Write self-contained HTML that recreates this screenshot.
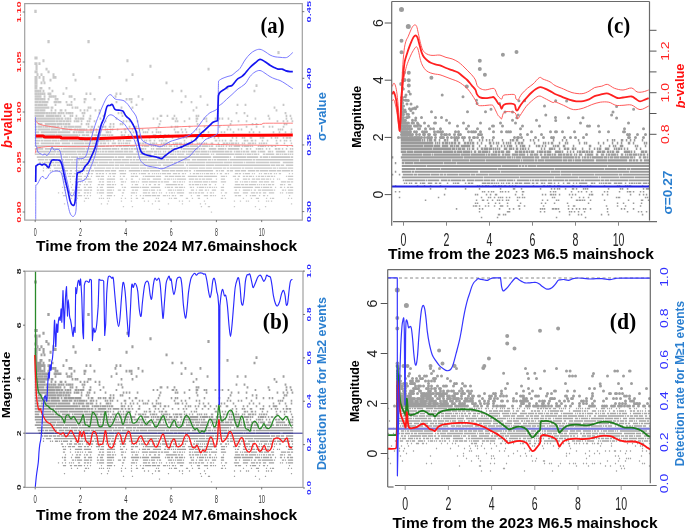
<!DOCTYPE html>
<html><head><meta charset="utf-8"><style>
html,body{margin:0;padding:0;background:#fff;width:685px;height:529px;overflow:hidden}
svg{display:block;will-change:transform}
</style></head><body>
<svg width="685" height="529" viewBox="0 0 685 529">
<rect width="685" height="529" fill="#fff"/>
<path d="M34.8 425.1h6.4M42.8 425.1h12.4M55.8 425.1h8.4M64.8 425.1h12.4M77.8 425.1h3.4M81.8 425.1h4.4M86.8 425.1h52.4M139.8 425.1h3.4M143.8 425.1h7.4M153.8 425.1h3.4M157.8 425.1h8.4M166.8 425.1h1.4M169.8 425.1h4.4M174.8 425.1h1.4M176.8 425.1h7.4M185.8 425.1h9.4M195.8 425.1h3.4M199.8 425.1h9.4M210.8 425.1h1.4M212.8 425.1h1.4M215.8 425.1h18.4M234.8 425.1h7.4M242.8 425.1h1.4M244.8 425.1h1.4M246.8 425.1h4.4M251.8 425.1h1.4M253.8 425.1h3.4M257.8 425.1h1.4M262.8 425.1h2.4M265.8 425.1h8.4M275.8 425.1h3.4M279.8 425.1h1.4M281.8 425.1h1.4M283.8 425.1h3.4M287.8 425.1h1.4M289.8 425.1h1.4M291.8 425.1h1.4M35.8 422.4h13.4M49.8 422.4h6.4M56.8 422.4h19.4M76.8 422.4h11.4M88.8 422.4h10.4M99.8 422.4h1.4M101.8 422.4h2.4M104.8 422.4h2.4M107.8 422.4h6.4M114.8 422.4h8.4M123.8 422.4h4.4M128.8 422.4h4.4M135.8 422.4h4.4M140.8 422.4h4.4M145.8 422.4h7.4M153.8 422.4h3.4M157.8 422.4h1.4M159.8 422.4h1.4M162.8 422.4h1.4M164.8 422.4h1.4M167.8 422.4h4.4M172.8 422.4h1.4M174.8 422.4h1.4M176.8 422.4h2.4M179.8 422.4h1.4M181.8 422.4h3.4M185.8 422.4h1.4M187.8 422.4h6.4M194.8 422.4h5.4M200.8 422.4h6.4M207.8 422.4h1.4M209.8 422.4h1.4M211.8 422.4h12.4M224.8 422.4h4.4M229.8 422.4h2.4M233.8 422.4h1.4M235.8 422.4h4.4M240.8 422.4h1.4M242.8 422.4h2.4M245.8 422.4h3.4M250.8 422.4h5.4M257.8 422.4h1.4M259.8 422.4h5.4M267.8 422.4h3.4M271.8 422.4h1.4M275.8 422.4h9.4M287.8 422.4h1.4M289.8 422.4h3.4" stroke="#a0a0a0" stroke-width="1.7" fill="none"/>
<path d="M34.8 419.7h8.5M44.8 419.7h15.5M60.8 419.7h1.5M62.8 419.7h22.4M85.8 419.7h15.4M101.8 419.7h9.4M111.8 419.7h5.4M117.8 419.7h1.4M120.8 419.7h2.4M123.8 419.7h4.4M128.8 419.7h1.4M130.8 419.7h2.4M133.8 419.7h4.4M138.8 419.7h5.4M144.8 419.7h1.4M150.8 419.7h1.4M152.8 419.7h1.4M155.8 419.7h14.4M170.8 419.7h6.4M180.8 419.7h1.4M182.8 419.7h15.4M198.8 419.7h1.4M200.8 419.7h1.4M202.8 419.7h2.4M208.8 419.7h7.4M217.8 419.7h6.4M224.8 419.7h1.4M227.8 419.7h11.4M240.8 419.7h1.4M245.8 419.7h2.4M249.8 419.7h1.4M255.8 419.7h1.5M257.8 419.7h3.5M261.8 419.7h1.5M265.8 419.7h1.5M268.8 419.7h1.5M274.8 419.7h2.5M277.8 419.7h2.5M281.8 419.7h1.5M285.8 419.7h1.5M289.8 419.7h1.5M291.8 419.7h1.5M34.8 417.0h70.5M105.8 417.0h3.5M109.8 417.0h2.5M112.8 417.0h1.5M115.8 417.0h2.5M118.8 417.0h3.5M122.8 417.0h6.5M129.8 417.0h5.5M141.8 417.0h1.5M143.8 417.0h5.5M150.8 417.0h1.5M152.8 417.0h1.5M154.8 417.0h1.5M156.8 417.0h2.5M159.8 417.0h1.5M161.8 417.0h1.5M163.8 417.0h1.5M165.8 417.0h1.5M168.8 417.0h3.5M173.8 417.0h1.5M175.8 417.0h2.5M179.8 417.0h2.5M183.8 417.0h5.5M189.8 417.0h8.5M199.8 417.0h1.5M201.8 417.0h6.5M208.8 417.0h1.5M210.8 417.0h2.5M215.8 417.0h1.5M217.8 417.0h2.5M220.8 417.0h1.5M222.8 417.0h1.5M225.8 417.0h1.5M228.8 417.0h1.5M230.8 417.0h1.5M233.8 417.0h6.5M241.8 417.0h1.5M243.8 417.0h5.5M249.8 417.0h1.5M251.8 417.0h1.5M257.8 417.0h1.5M259.8 417.0h4.5M264.8 417.0h1.5M267.8 417.0h1.5M270.8 417.0h2.5M274.8 417.0h1.5M286.8 417.0h1.5M291.8 417.0h1.5M34.8 414.3h4.5M40.8 414.3h13.5M54.8 414.3h5.5M61.8 414.3h8.5M71.8 414.3h1.5M73.8 414.3h10.5M84.8 414.3h6.5M91.8 414.3h6.5M99.8 414.3h2.5M102.8 414.3h3.5M107.8 414.3h1.5M111.8 414.3h4.5M117.8 414.3h2.5M120.8 414.3h1.5M122.8 414.3h1.5M124.8 414.3h3.5M128.8 414.3h1.5M134.8 414.3h1.5M137.8 414.3h3.5M141.8 414.3h2.5M144.8 414.3h1.5M149.8 414.3h1.5M151.8 414.3h3.5M155.8 414.3h1.5M160.8 414.3h1.5M162.8 414.3h5.5M168.8 414.3h1.5M172.8 414.3h1.5M174.8 414.3h3.5M178.8 414.3h3.5M183.8 414.3h1.5M185.8 414.3h1.5M188.8 414.3h1.5M191.8 414.3h1.5M196.8 414.3h1.5M198.8 414.3h1.5M200.8 414.3h1.5M203.8 414.3h1.5M205.8 414.3h1.5M210.8 414.3h2.5M217.8 414.3h1.5M222.8 414.3h2.5M225.8 414.3h2.5M228.8 414.3h1.5M230.8 414.3h3.5M234.8 414.3h2.5M237.8 414.3h1.5M241.8 414.3h1.5M243.8 414.3h1.5M247.8 414.3h3.5M251.8 414.3h2.5M254.8 414.3h1.5M258.8 414.3h1.5M260.8 414.3h1.5M262.8 414.3h2.5M265.8 414.3h1.5M275.8 414.3h2.5M283.8 414.3h1.5M290.8 414.3h1.5" stroke="#a0a0a0" stroke-width="1.8" fill="none"/>
<path d="M34.7 411.6h5.5M40.7 411.6h2.5M43.7 411.6h7.5M51.7 411.6h5.5M57.7 411.6h1.5M59.7 411.6h8.5M68.7 411.6h14.5M83.7 411.6h4.5M88.7 411.6h1.5M90.7 411.6h2.5M93.7 411.6h11.5M105.7 411.6h3.5M109.7 411.6h1.5M112.7 411.6h1.5M117.7 411.6h1.5M119.7 411.6h1.5M122.7 411.6h1.5M125.7 411.6h5.5M135.7 411.6h1.5M143.7 411.6h1.5M145.7 411.6h1.5M148.7 411.6h2.5M153.7 411.6h1.5M158.7 411.6h1.5M160.7 411.6h2.5M164.7 411.6h2.5M183.7 411.6h1.5M190.7 411.6h1.5M193.7 411.6h1.5M195.7 411.6h1.5M214.7 411.6h2.5M218.7 411.6h1.5M221.7 411.6h1.5M224.7 411.6h1.5M229.7 411.6h2.5M235.7 411.6h1.5M243.7 411.6h2.5M246.7 411.6h1.5M250.7 411.6h2.5M254.7 411.6h1.5M261.7 411.6h1.5M266.7 411.6h1.5M275.7 411.6h1.5M279.7 411.6h1.5M283.7 411.6h1.5M285.7 411.6h1.5M289.7 411.6h1.5M34.7 408.9h7.5M42.7 408.9h11.5M54.7 408.9h19.6M74.7 408.9h11.6M86.7 408.9h3.6M90.7 408.9h2.6M94.7 408.9h1.6M97.7 408.9h8.6M107.7 408.9h1.6M109.7 408.9h1.6M112.7 408.9h6.6M120.7 408.9h2.6M124.7 408.9h1.6M127.7 408.9h2.6M131.7 408.9h1.6M137.7 408.9h2.6M148.7 408.9h1.6M154.7 408.9h1.6M157.7 408.9h1.6M162.7 408.9h1.6M171.7 408.9h1.6M177.7 408.9h1.6M182.7 408.9h1.6M185.7 408.9h1.6M195.7 408.9h1.6M201.7 408.9h1.6M207.7 408.9h1.6M213.7 408.9h1.6M217.7 408.9h1.6M231.7 408.9h1.6M235.7 408.9h1.6M241.7 408.9h1.6M243.7 408.9h1.6M249.7 408.9h2.6M259.7 408.9h1.5M261.7 408.9h2.5M270.7 408.9h1.5M274.7 408.9h1.5M276.7 408.9h1.5M282.7 408.9h1.5M285.7 408.9h2.5M288.7 408.9h2.5" stroke="#a0a0a0" stroke-width="1.9" fill="none"/>
<path d="M34.7 406.2h2.6M37.7 406.2h17.6M55.7 406.2h22.6M78.7 406.2h1.6M81.7 406.2h3.6M85.7 406.2h3.6M91.7 406.2h1.6M93.7 406.2h5.6M99.7 406.2h1.6M101.7 406.2h4.6M106.7 406.2h1.6M108.7 406.2h1.6M110.7 406.2h2.6M120.7 406.2h2.6M123.7 406.2h1.6M127.7 406.2h1.6M130.7 406.2h1.6M138.7 406.2h1.6M152.7 406.2h3.6M159.7 406.2h1.6M163.7 406.2h2.6M167.7 406.2h1.6M184.7 406.2h1.6M187.7 406.2h1.6M189.7 406.2h1.6M194.7 406.2h1.6M197.7 406.2h1.6M203.7 406.2h2.6M209.7 406.2h1.6M215.7 406.2h1.6M219.7 406.2h1.6M225.7 406.2h2.6M234.7 406.2h1.6M242.7 406.2h1.6M246.7 406.2h1.6M255.7 406.2h1.6M262.7 406.2h1.6M268.7 406.2h1.6M272.7 406.2h4.6M285.7 406.2h1.6M34.7 403.5h4.6M40.7 403.5h16.6M57.7 403.5h12.6M72.7 403.5h2.6M75.7 403.5h1.6M77.7 403.5h6.6M85.7 403.5h3.6M89.7 403.5h3.6M95.7 403.5h1.6M99.7 403.5h1.6M105.7 403.5h3.6M109.7 403.5h1.6M120.7 403.5h1.6M124.7 403.5h1.6M129.7 403.5h1.6M132.7 403.5h1.6M136.7 403.5h1.6M142.7 403.5h1.6M144.7 403.5h1.6M146.7 403.5h1.6M151.7 403.5h1.6M155.7 403.5h1.6M157.7 403.5h1.6M159.7 403.5h1.6M174.7 403.5h1.6M176.7 403.5h2.6M181.7 403.5h1.6M185.7 403.5h1.6M198.7 403.5h1.6M202.7 403.5h1.6M207.7 403.5h1.6M220.7 403.5h1.6M223.7 403.5h1.6M232.7 403.5h1.6M248.7 403.5h1.6M252.7 403.5h1.6M258.7 403.5h1.6M272.7 403.5h1.6M278.7 403.5h1.6M284.7 403.5h1.6M290.7 403.5h1.6" stroke="#a0a0a0" stroke-width="2.0" fill="none"/>
<path d="M34.7 400.8h2.6M37.7 400.8h12.6M50.7 400.8h9.6M61.7 400.8h6.6M68.7 400.8h3.6M73.7 400.8h2.6M76.7 400.8h1.6M78.7 400.8h6.6M85.7 400.8h1.6M89.7 400.8h2.6M92.7 400.8h1.6M95.7 400.8h1.6M104.7 400.8h1.6M106.7 400.8h1.6M109.7 400.8h1.6M111.7 400.8h1.6M116.7 400.8h1.6M123.7 400.8h2.6M131.7 400.8h1.6M138.7 400.8h1.6M141.7 400.8h1.6M147.7 400.8h1.6M155.7 400.8h1.6M173.7 400.8h1.6M180.7 400.8h1.6M184.7 400.8h1.6M195.7 400.8h1.6M198.7 400.8h1.6M226.7 400.8h1.6M229.7 400.8h1.6M237.7 400.8h1.6M240.7 400.8h1.6M250.7 400.8h1.6M277.7 400.8h1.6M279.7 400.8h1.6M281.7 400.8h1.6M290.7 400.8h1.6M34.7 398.1h2.7M37.7 398.1h4.7M42.7 398.1h1.7M44.7 398.1h3.7M48.7 398.1h1.7M50.7 398.1h5.7M56.7 398.1h2.7M60.7 398.1h1.7M63.7 398.1h3.7M67.7 398.1h6.7M74.7 398.1h6.7M87.7 398.1h1.7M90.7 398.1h2.7M97.7 398.1h1.7M99.7 398.1h1.7M102.7 398.1h1.7M104.7 398.1h1.7M108.7 398.1h2.7M112.7 398.1h1.7M128.7 398.1h1.6M134.7 398.1h2.6M157.7 398.1h1.6M170.7 398.1h1.6M174.7 398.1h1.6M176.7 398.1h1.6M188.7 398.1h1.6M203.7 398.1h1.6M218.7 398.1h1.6M227.7 398.1h1.6M245.7 398.1h1.6M255.7 398.1h1.6M262.7 398.1h1.6M268.7 398.1h1.6M271.7 398.1h1.6M282.7 398.1h1.6" stroke="#a0a0a0" stroke-width="2.1" fill="none"/>
<path d="M34.7 395.4h1.7M37.7 395.4h4.7M44.7 395.4h11.7M56.7 395.4h5.7M62.7 395.4h1.7M64.7 395.4h2.7M67.7 395.4h2.7M80.7 395.4h1.7M85.7 395.4h1.7M87.7 395.4h1.7M109.7 395.4h1.7M112.7 395.4h1.7M119.7 395.4h1.7M121.7 395.4h1.7M158.7 395.4h1.7M196.7 395.4h1.7M229.7 395.4h1.7M251.7 395.4h1.7M255.7 395.4h1.7M283.7 395.4h1.7M285.7 395.4h1.7M34.6 392.7h20.7M55.6 392.7h2.7M58.6 392.7h3.7M62.6 392.7h2.7M65.7 392.7h3.7M69.7 392.7h1.7M73.7 392.7h1.7M75.7 392.7h3.7M80.7 392.7h1.7M86.7 392.7h1.7M88.7 392.7h1.7M93.7 392.7h1.7M104.7 392.7h1.7M122.7 392.7h1.7M125.7 392.7h1.7M128.7 392.7h1.7M136.7 392.7h1.7M159.7 392.7h1.7M174.7 392.7h1.7M176.7 392.7h1.7M183.7 392.7h1.7M195.7 392.7h1.7M205.7 392.7h1.7M230.7 392.7h1.7M237.7 392.7h1.7M245.7 392.7h1.7M276.6 392.7h1.7M282.6 392.7h1.7M286.6 392.7h1.7M291.6 392.7h1.7M34.6 390.0h20.7M55.6 390.0h4.7M60.6 390.0h2.7M64.6 390.0h1.7M66.6 390.0h2.7M69.6 390.0h1.7M74.6 390.0h2.7M77.6 390.0h1.7M79.6 390.0h4.7M88.6 390.0h2.7M99.6 390.0h1.7M115.6 390.0h1.7M152.6 390.0h1.7M156.6 390.0h1.7M171.6 390.0h2.7M175.6 390.0h1.7M188.6 390.0h1.7M195.6 390.0h2.7M203.6 390.0h1.7M205.6 390.0h1.7M214.6 390.0h1.7M218.6 390.0h1.7M221.6 390.0h1.7M227.6 390.0h1.7M254.6 390.0h1.7M268.6 390.0h1.7M285.6 390.0h1.7M290.6 390.0h1.7" stroke="#a0a0a0" stroke-width="2.2" fill="none"/>
<path d="M34.6 387.3h9.8M45.6 387.3h8.8M54.6 387.3h4.8M59.6 387.3h1.8M63.6 387.3h1.8M69.6 387.3h1.8M71.6 387.3h1.8M75.6 387.3h1.8M82.6 387.3h1.8M89.6 387.3h1.8M102.6 387.3h1.8M121.6 387.3h1.8M159.6 387.3h2.8M166.6 387.3h1.8M173.6 387.3h1.8M195.6 387.3h1.8M197.6 387.3h1.8M246.6 387.3h1.8M267.6 387.3h1.8M285.6 387.3h1.8M289.6 387.3h1.8M34.6 384.6h10.8M45.6 384.6h2.8M48.6 384.6h1.8M50.6 384.6h1.8M52.6 384.6h3.8M57.6 384.6h2.8M60.6 384.6h1.8M62.6 384.6h1.8M65.6 384.6h1.8M67.6 384.6h3.8M71.6 384.6h1.8M81.6 384.6h1.8M83.6 384.6h1.8M98.6 384.6h1.8M117.6 384.6h1.8M120.6 384.6h1.8M235.6 384.6h1.8M243.6 384.6h1.8M284.6 384.6h1.8" stroke="#a0a0a0" stroke-width="2.3" fill="none"/>
<path d="M34.6 381.9h4.8M39.6 381.9h5.8M50.6 381.9h1.8M54.6 381.9h1.8M59.6 381.9h2.8M64.6 381.9h1.8M79.6 381.9h1.8M83.6 381.9h1.8M86.6 381.9h1.8M94.6 381.9h1.8M98.6 381.9h1.8M192.6 381.9h1.8M275.6 381.9h1.8M34.6 379.2h14.8M50.6 379.2h2.8M71.6 379.2h1.8M74.6 379.2h1.8M76.6 379.2h1.8M87.6 379.2h1.8M89.6 379.2h1.8M120.6 379.2h1.8M131.6 379.2h1.8M195.6 379.2h1.8M273.6 379.2h1.8" stroke="#a0a0a0" stroke-width="2.4" fill="none"/>
<path d="M34.6 376.5h2.8M37.6 376.5h5.8M43.6 376.5h3.8M54.6 376.5h1.8M66.6 376.5h1.8M68.6 376.5h1.8M70.6 376.5h1.8M110.6 376.5h1.8M135.6 376.5h1.9M206.6 376.5h1.9M236.6 376.5h1.9M244.6 376.5h1.9M282.6 376.5h1.9M34.6 373.8h3.9M38.6 373.8h2.9M41.6 373.8h6.9M53.6 373.8h3.9M57.6 373.8h3.9M65.6 373.8h1.9M70.6 373.8h1.9M83.6 373.8h1.9M115.6 373.8h1.9M130.6 373.8h1.9M180.6 373.8h1.9M190.6 373.8h1.9" stroke="#a0a0a0" stroke-width="2.5" fill="none"/>
<path d="M34.5 371.1h4.9M39.5 371.1h3.9M43.5 371.1h1.9M47.5 371.1h1.9M54.5 371.1h1.9M56.5 371.1h1.9M73.5 371.1h1.9M83.5 371.1h2.9M93.5 371.1h1.9M125.5 371.1h1.9M128.6 371.1h1.9M130.6 371.1h1.9M141.6 371.1h1.9M34.5 368.4h6.9M43.5 368.4h1.9M48.5 368.4h3.9M52.5 368.4h1.9M54.5 368.4h1.9M68.5 368.4h1.9M70.5 368.4h1.9M114.5 368.4h1.9M137.5 368.4h1.9M184.5 368.4h1.9M199.5 368.4h1.9" stroke="#a0a0a0" stroke-width="2.6" fill="none"/>
<path d="M34.5 365.7h3.0M37.5 365.7h2.0M39.5 365.7h2.0M41.5 365.7h2.0M43.5 365.7h2.0M47.5 365.7h4.0M62.5 365.7h1.9M85.5 365.7h1.9M89.5 365.7h1.9M115.5 365.7h1.9M119.5 365.7h1.9M34.5 363.0h5.0M39.5 363.0h2.0M42.5 363.0h2.0M51.5 363.0h2.0M171.5 363.0h2.0M180.5 363.0h2.0M253.5 363.0h2.0M34.5 360.3h3.0M39.5 360.3h3.0M48.5 360.3h2.0M65.5 360.3h2.0M226.5 360.3h2.0" stroke="#a0a0a0" stroke-width="2.7" fill="none"/>
<path d="M34.5 357.6h3.0M255.5 357.6h2.0M34.5 354.9h3.0M40.5 354.9h2.0M43.5 354.9h2.0M165.5 354.9h2.1" stroke="#a0a0a0" stroke-width="2.8" fill="none"/>
<path d="M34.5 352.2h3.1M42.5 352.2h2.1M49.5 352.2h2.1M74.5 352.2h2.1M125.5 352.2h2.1M34.5 349.5h3.1M38.5 349.5h2.1M42.5 349.5h2.1M52.5 349.5h2.1M54.5 349.5h2.1M98.5 349.5h2.1" stroke="#a0a0a0" stroke-width="2.9" fill="none"/>
<path d="M34.4 344.1h3.2M47.4 344.1h2.2M34.4 336.0h3.2M38.4 336.0h2.2M34.4 330.6h3.3M35.4 341.4h2.2M45.4 341.4h2.2M207.4 341.4h2.2M35.4 338.7h2.2M149.4 338.7h2.2M36.4 346.8h2.1M40.4 346.8h2.1M52.4 346.8h2.1M72.4 346.8h2.1M131.4 346.8h2.1M42.4 333.3h2.2M126.4 333.3h2.2M47.3 314.4h2.4M87.3 314.4h2.4M277.3 325.2h2.3M34.2 281.9h2.6" stroke="#a0a0a0" stroke-width="3.0" fill="none"/>
<path d="M36.8 427.8h25.4M62.8 427.8h5.4M68.8 427.8h1.4M70.8 427.8h7.4M78.8 427.8h35.4M114.8 427.8h2.4M117.8 427.8h6.4M125.8 427.8h6.4M132.8 427.8h3.4M136.8 427.8h20.4M157.8 427.8h19.4M177.8 427.8h33.4M212.8 427.8h16.4M229.8 427.8h1.4M233.8 427.8h1.4M235.8 427.8h10.4M246.8 427.8h11.4M259.8 427.8h2.4M262.8 427.8h5.4M268.8 427.8h1.4M270.8 427.8h19.4M290.8 427.8h2.4M37.8 430.5h6.3M44.8 430.5h3.3M48.8 430.5h8.3M58.8 430.5h5.3M64.8 430.5h8.3M73.8 430.5h3.3M77.8 430.5h2.3M80.8 430.5h1.3M82.8 430.5h7.3M90.8 430.5h3.3M94.8 430.5h17.3M112.8 430.5h8.3M121.8 430.5h7.4M129.8 430.5h2.4M132.8 430.5h2.4M135.8 430.5h3.4M139.8 430.5h7.4M147.8 430.5h17.4M165.8 430.5h3.4M169.8 430.5h20.4M191.8 430.5h4.4M196.8 430.5h10.4M207.8 430.5h3.4M211.8 430.5h1.4M213.8 430.5h2.4M216.8 430.5h10.4M227.8 430.5h1.4M229.8 430.5h22.4M252.8 430.5h2.4M255.8 430.5h37.4" stroke="#a0a0a0" stroke-width="1.6" fill="none"/>
<path d="M38.8 433.2h2.3M41.8 433.2h1.3M43.8 433.2h10.3M54.8 433.2h15.3M70.8 433.2h8.3M79.8 433.2h8.3M89.8 433.2h8.3M98.8 433.2h9.3M108.8 433.2h5.3M114.8 433.2h14.3M129.8 433.2h27.3M157.8 433.2h15.3M173.8 433.2h3.3M177.8 433.2h6.3M184.8 433.2h1.3M186.8 433.2h18.3M205.8 433.2h17.3M223.8 433.2h8.3M232.8 433.2h10.3M243.8 433.2h1.3M245.8 433.2h9.3M255.8 433.2h13.3M269.8 433.2h10.3M282.8 433.2h10.3M41.9 435.9h1.3M43.9 435.9h4.3M48.9 435.9h3.3M52.9 435.9h3.3M56.9 435.9h3.3M60.9 435.9h25.3M86.8 435.9h9.3M96.8 435.9h17.3M114.8 435.9h4.3M119.8 435.9h4.3M124.8 435.9h14.3M139.8 435.9h21.3M162.8 435.9h21.3M185.8 435.9h2.3M188.8 435.9h16.3M205.8 435.9h8.3M214.8 435.9h14.3M229.8 435.9h2.3M232.8 435.9h37.3M270.9 435.9h4.3M275.9 435.9h4.3M280.9 435.9h3.3M285.9 435.9h7.3" stroke="#a0a0a0" stroke-width="1.5" fill="none"/>
<path d="M42.9 441.3h1.2M49.9 441.3h1.2M51.9 441.3h1.2M54.9 441.3h3.2M58.9 441.3h1.2M60.9 441.3h1.2M62.9 441.3h5.2M69.9 441.3h2.2M74.9 441.3h8.2M83.9 441.3h1.2M85.9 441.3h4.2M90.9 441.3h3.2M94.9 441.3h9.2M104.9 441.3h5.2M110.9 441.3h5.2M118.9 441.3h5.2M124.9 441.3h1.2M128.9 441.3h11.2M140.9 441.3h1.2M142.9 441.3h6.2M149.9 441.3h10.2M161.9 441.3h7.2M169.9 441.3h5.2M175.9 441.3h7.2M183.9 441.3h4.2M188.9 441.3h2.2M193.9 441.3h1.2M195.9 441.3h17.2M215.9 441.3h2.2M218.9 441.3h1.2M220.9 441.3h3.2M226.9 441.3h2.2M229.9 441.3h3.2M234.9 441.3h5.2M240.9 441.3h5.2M247.9 441.3h7.2M255.9 441.3h3.2M259.9 441.3h8.2M268.9 441.3h7.2M276.9 441.3h4.2M281.9 441.3h8.2M290.9 441.3h2.2M42.9 438.6h1.3M45.9 438.6h5.3M53.9 438.6h23.3M77.9 438.6h2.3M80.9 438.6h11.3M93.9 438.6h11.3M105.9 438.6h5.3M111.9 438.6h2.3M114.9 438.6h4.3M119.9 438.6h10.3M130.9 438.6h8.3M139.9 438.6h6.3M146.9 438.6h10.3M157.9 438.6h1.3M159.9 438.6h26.3M186.9 438.6h1.3M188.9 438.6h9.3M198.9 438.6h6.3M205.9 438.6h6.3M212.9 438.6h9.3M222.9 438.6h3.3M226.9 438.6h2.3M229.9 438.6h11.3M241.9 438.6h2.3M244.9 438.6h8.3M253.9 438.6h18.3M272.9 438.6h3.3M276.9 438.6h1.3M278.9 438.6h8.3M287.9 438.6h5.3" stroke="#a0a0a0" stroke-width="1.4" fill="none"/>
<path d="M57.9 462.9h1.2M61.9 462.9h1.2M64.9 462.9h1.2M68.9 462.9h1.2M70.9 462.9h1.2M72.9 462.9h1.2M77.9 462.9h2.2M83.9 462.9h2.2M86.9 462.9h2.2M89.9 462.9h1.2M96.9 462.9h1.2M98.9 462.9h5.2M106.9 462.9h6.2M121.9 462.9h2.2M130.9 462.9h4.2M135.9 462.9h1.2M142.9 462.9h4.2M147.9 462.9h2.2M151.9 462.9h3.2M155.9 462.9h1.2M158.9 462.9h1.2M160.9 462.9h1.2M165.9 462.9h1.2M168.9 462.9h1.2M170.9 462.9h2.2M173.9 462.9h1.2M176.9 462.9h7.2M188.9 462.9h3.2M192.9 462.9h1.2M194.9 462.9h2.2M197.9 462.9h2.2M200.9 462.9h3.2M206.9 462.9h1.2M209.9 462.9h2.2M212.9 462.9h1.2M220.9 462.9h1.2M224.9 462.9h2.2M233.9 462.9h5.2M242.9 462.9h5.2M250.9 462.9h4.2M255.9 462.9h2.2M258.9 462.9h2.2M262.9 462.9h3.2M268.9 462.9h5.2M279.9 462.9h1.2M281.9 462.9h1.2M285.9 462.9h1.2M287.9 462.9h5.2M60.9 444.0h2.2M66.9 444.0h1.2M68.9 444.0h3.2M73.9 444.0h3.2M77.9 444.0h3.2M81.9 444.0h1.2M85.9 444.0h4.2M90.9 444.0h2.2M95.9 444.0h2.2M98.9 444.0h2.2M101.9 444.0h2.2M105.9 444.0h1.2M108.9 444.0h2.2M111.9 444.0h4.2M119.9 444.0h6.2M130.9 444.0h1.2M132.9 444.0h2.2M135.9 444.0h1.2M138.9 444.0h1.2M140.9 444.0h5.2M147.9 444.0h2.2M151.9 444.0h1.2M153.9 444.0h1.2M155.9 444.0h1.2M157.9 444.0h1.2M159.9 444.0h1.2M161.9 444.0h4.2M166.9 444.0h4.2M172.9 444.0h4.2M177.9 444.0h2.2M181.9 444.0h2.2M184.9 444.0h1.2M189.9 444.0h1.2M192.9 444.0h2.2M195.9 444.0h3.2M199.9 444.0h1.2M201.9 444.0h1.2M203.9 444.0h1.2M205.9 444.0h3.2M209.9 444.0h3.2M213.9 444.0h1.2M216.9 444.0h1.2M219.9 444.0h2.2M224.9 444.0h2.2M227.9 444.0h1.2M234.9 444.0h3.2M238.9 444.0h2.2M242.9 444.0h1.2M244.9 444.0h5.2M251.9 444.0h1.2M253.9 444.0h1.2M258.9 444.0h1.2M260.9 444.0h1.2M263.9 444.0h3.2M267.9 444.0h1.2M269.9 444.0h2.2M273.9 444.0h1.2M275.9 444.0h1.2M278.9 444.0h2.2M288.9 444.0h1.2M291.9 444.0h1.2M61.9 457.5h1.2M63.9 457.5h2.2M70.9 457.5h1.2M74.9 457.5h5.2M83.9 457.5h2.2M87.9 457.5h4.2M96.9 457.5h1.2M99.9 457.5h3.2M106.9 457.5h7.2M121.9 457.5h1.2M123.9 457.5h2.2M130.9 457.5h8.2M139.9 457.5h1.2M141.9 457.5h7.2M150.9 457.5h9.2M164.9 457.5h1.2M166.9 457.5h3.2M170.9 457.5h2.2M174.9 457.5h3.2M178.9 457.5h4.2M183.9 457.5h1.2M189.9 457.5h2.2M192.9 457.5h1.2M196.9 457.5h1.2M198.9 457.5h5.2M204.9 457.5h1.2M206.9 457.5h1.2M208.9 457.5h2.2M211.9 457.5h1.2M213.9 457.5h1.2M215.9 457.5h1.2M220.9 457.5h3.2M233.9 457.5h7.2M241.9 457.5h11.2M254.9 457.5h5.2M260.9 457.5h1.2M262.9 457.5h6.2M269.9 457.5h2.2M274.9 457.5h1.2M279.9 457.5h2.2M283.9 457.5h1.2M286.9 457.5h2.2M289.9 457.5h3.2M61.9 446.7h2.2M64.9 446.7h1.2M67.9 446.7h3.2M71.9 446.7h3.2M77.9 446.7h4.2M83.9 446.7h2.2M86.9 446.7h2.2M90.9 446.7h1.2M95.9 446.7h4.2M100.9 446.7h3.2M107.9 446.7h1.2M109.9 446.7h1.2M112.9 446.7h2.2M119.9 446.7h1.2M122.9 446.7h2.2M130.9 446.7h3.2M134.9 446.7h3.2M142.9 446.7h1.2M144.9 446.7h10.2M155.9 446.7h5.2M164.9 446.7h3.2M168.9 446.7h5.2M174.9 446.7h6.2M181.9 446.7h3.2M187.9 446.7h9.2M197.9 446.7h5.2M203.9 446.7h13.2M220.9 446.7h4.2M225.9 446.7h1.2M232.9 446.7h3.2M237.9 446.7h2.2M242.9 446.7h2.2M245.9 446.7h2.2M248.9 446.7h3.2M252.9 446.7h1.2M255.9 446.7h1.2M257.9 446.7h2.2M260.9 446.7h3.2M264.9 446.7h1.2M266.9 446.7h3.2M270.9 446.7h2.2M273.9 446.7h1.2M285.9 446.7h1.2M287.9 446.7h5.2M62.9 465.6h3.2M69.9 465.6h2.2M73.9 465.6h3.2M77.9 465.6h4.2M83.9 465.6h1.2M86.9 465.6h1.2M89.9 465.6h1.2M100.9 465.6h1.2M106.9 465.6h5.2M113.9 465.6h1.2M121.9 465.6h1.2M130.9 465.6h1.2M135.9 465.6h1.2M139.9 465.6h1.2M142.9 465.6h1.2M144.9 465.6h6.2M151.9 465.6h4.2M156.9 465.6h3.2M162.9 465.6h3.2M166.9 465.6h1.2M168.9 465.6h1.2M171.9 465.6h2.2M174.9 465.6h1.2M179.9 465.6h3.2M190.9 465.6h1.2M196.9 465.6h3.2M203.9 465.6h4.2M209.9 465.6h2.2M212.9 465.6h1.2M214.9 465.6h1.2M221.9 465.6h1.2M223.9 465.6h1.2M234.9 465.6h2.2M237.9 465.6h3.2M245.9 465.6h1.2M249.9 465.6h1.2M251.9 465.6h4.2M258.9 465.6h1.2M262.9 465.6h2.2M266.9 465.6h1.2M288.9 465.6h1.2M62.9 452.1h2.2M69.9 452.1h1.2M74.9 452.1h1.2M76.9 452.1h2.2M79.9 452.1h1.2M81.9 452.1h1.2M84.9 452.1h1.2M87.9 452.1h4.2M98.9 452.1h2.2M101.9 452.1h2.2M106.9 452.1h4.2M111.9 452.1h1.2M113.9 452.1h1.2M120.9 452.1h3.2M124.9 452.1h1.2M130.9 452.1h4.2M135.9 452.1h1.2M137.9 452.1h1.2M141.9 452.1h6.2M148.9 452.1h8.2M157.9 452.1h2.2M160.9 452.1h2.2M163.9 452.1h5.2M172.9 452.1h3.2M176.9 452.1h1.2M178.9 452.1h2.2M181.9 452.1h1.2M183.9 452.1h1.2M188.9 452.1h2.2M191.9 452.1h1.2M193.9 452.1h8.2M202.9 452.1h5.2M208.9 452.1h1.2M210.9 452.1h6.2M220.9 452.1h5.2M234.9 452.1h3.2M239.9 452.1h1.2M241.9 452.1h1.2M243.9 452.1h4.2M248.9 452.1h1.2M250.9 452.1h6.2M258.9 452.1h4.2M263.9 452.1h5.2M270.9 452.1h3.2M280.9 452.1h5.2M286.9 452.1h3.2M290.9 452.1h2.2M62.9 449.4h3.2M69.9 449.4h1.2M74.9 449.4h7.2M83.9 449.4h7.2M97.9 449.4h1.2M99.9 449.4h4.2M106.9 449.4h8.2M119.9 449.4h3.2M125.9 449.4h1.2M130.9 449.4h2.2M138.9 449.4h1.2M141.9 449.4h4.2M146.9 449.4h3.2M152.9 449.4h8.2M163.9 449.4h2.2M166.9 449.4h3.2M170.9 449.4h1.2M172.9 449.4h1.2M174.9 449.4h1.2M176.9 449.4h9.2M188.9 449.4h5.2M194.9 449.4h3.2M198.9 449.4h2.2M201.9 449.4h3.2M205.9 449.4h6.2M215.9 449.4h1.2M220.9 449.4h4.2M234.9 449.4h1.2M236.9 449.4h2.2M242.9 449.4h4.2M247.9 449.4h2.2M251.9 449.4h3.2M255.9 449.4h4.2M260.9 449.4h4.2M265.9 449.4h3.2M269.9 449.4h1.2M272.9 449.4h1.2M276.9 449.4h1.2M278.9 449.4h1.2M287.9 449.4h5.2M63.9 473.7h1.2M100.9 473.7h1.2M106.9 473.7h1.2M151.9 473.7h1.2M167.9 473.7h1.2M181.9 473.7h1.2M199.9 473.7h1.2M204.9 473.7h1.2M290.9 473.7h1.2M63.9 460.2h2.2M71.9 460.2h2.2M74.9 460.2h1.2M76.9 460.2h5.2M83.9 460.2h5.2M89.9 460.2h2.2M96.9 460.2h2.2M99.9 460.2h4.2M106.9 460.2h5.2M112.9 460.2h1.2M117.9 460.2h3.2M122.9 460.2h2.2M131.9 460.2h2.2M134.9 460.2h3.2M142.9 460.2h5.2M148.9 460.2h1.2M150.9 460.2h4.2M156.9 460.2h1.2M158.9 460.2h2.2M167.9 460.2h4.2M172.9 460.2h1.2M174.9 460.2h1.2M176.9 460.2h5.2M182.9 460.2h1.2M190.9 460.2h3.2M195.9 460.2h1.2M198.9 460.2h4.2M204.9 460.2h2.2M207.9 460.2h1.2M211.9 460.2h4.2M220.9 460.2h3.2M234.9 460.2h2.2M238.9 460.2h1.2M242.9 460.2h7.2M250.9 460.2h1.2M253.9 460.2h2.2M257.9 460.2h3.2M261.9 460.2h11.2M273.9 460.2h1.2M281.9 460.2h2.2M284.9 460.2h1.2M287.9 460.2h5.2M64.9 454.8h1.2M71.9 454.8h1.2M75.9 454.8h2.2M78.9 454.8h2.2M83.9 454.8h1.2M85.9 454.8h2.2M89.9 454.8h1.2M97.9 454.8h2.2M100.9 454.8h3.2M106.9 454.8h4.2M111.9 454.8h2.2M114.9 454.8h1.2M120.9 454.8h2.2M131.9 454.8h1.2M134.9 454.8h3.2M142.9 454.8h1.2M145.9 454.8h1.2M148.9 454.8h2.2M153.9 454.8h2.2M157.9 454.8h2.2M165.9 454.8h11.2M177.9 454.8h2.2M180.9 454.8h2.2M188.9 454.8h2.2M191.9 454.8h2.2M194.9 454.8h4.2M199.9 454.8h1.2M201.9 454.8h1.2M203.9 454.8h3.2M208.9 454.8h2.2M214.9 454.8h1.2M222.9 454.8h1.2M234.9 454.8h5.2M240.9 454.8h3.2M244.9 454.8h3.2M248.9 454.8h7.2M256.9 454.8h1.2M258.9 454.8h1.2M260.9 454.8h1.2M262.9 454.8h2.2M265.9 454.8h1.2M267.9 454.8h3.2M271.9 454.8h2.2M279.9 454.8h3.2M283.9 454.8h1.2M287.9 454.8h3.2M70.9 468.3h1.2M76.9 468.3h1.2M84.9 468.3h2.2M87.9 468.3h1.2M98.9 468.3h1.2M100.9 468.3h1.2M102.9 468.3h1.2M106.9 468.3h1.2M108.9 468.3h1.2M120.9 468.3h1.2M124.9 468.3h1.2M130.9 468.3h1.2M135.9 468.3h2.2M141.9 468.3h2.2M155.9 468.3h1.2M157.9 468.3h1.2M168.9 468.3h1.2M170.9 468.3h1.2M173.9 468.3h3.2M185.9 468.3h2.2M191.9 468.3h1.2M197.9 468.3h2.2M206.9 468.3h1.2M220.9 468.3h2.2M224.9 468.3h1.2M242.9 468.3h1.2M250.9 468.3h1.2M255.9 468.3h3.2M265.9 468.3h1.2M269.9 468.3h1.2M271.9 468.3h2.2M287.9 468.3h1.2M290.9 468.3h1.2M83.9 471.0h1.2M107.9 471.0h1.2M120.9 471.0h1.2M130.9 471.0h1.2M143.9 471.0h1.2M147.9 471.0h1.2M154.9 471.0h1.2M157.9 471.0h2.2M178.9 471.0h1.2M181.9 471.0h1.2M188.9 471.0h1.2M203.9 471.0h1.2M233.9 471.0h1.2M239.9 471.0h1.2M245.9 471.0h1.2M247.9 471.0h1.2M257.9 471.0h1.2M265.9 471.0h1.2M267.9 471.0h1.2M270.9 471.0h1.2M122.9 476.4h1.2M131.9 476.4h1.2M200.9 476.4h1.2M207.9 476.4h2.2M233.9 476.4h1.2M254.9 476.4h1.2M264.9 476.4h1.2M158.9 479.1h1.2M258.9 479.1h1.2M210.9 481.8h1.2" stroke="#a0a0a0" stroke-width="1.3" fill="none"/>
<path d="M34.8 154.3h6.5M42.8 154.3h12.5M55.8 154.3h8.5M64.8 154.3h12.5M77.8 154.3h3.5M81.8 154.3h4.5M86.8 154.3h52.5M139.8 154.3h3.5M143.8 154.3h7.5M153.8 154.3h3.5M157.8 154.3h8.5M166.8 154.3h1.5M169.8 154.3h4.5M174.8 154.3h1.5M176.8 154.3h7.5M185.8 154.3h9.5M195.8 154.3h3.5M199.8 154.3h9.5M210.8 154.3h1.5M212.8 154.3h1.5M215.8 154.3h18.5M234.8 154.3h7.5M242.8 154.3h1.5M244.8 154.3h1.5M246.8 154.3h4.5M251.8 154.3h1.5M253.8 154.3h3.5M257.8 154.3h1.5M262.8 154.3h2.5M265.8 154.3h8.5M275.8 154.3h3.5M279.8 154.3h1.5M281.8 154.3h1.5M283.8 154.3h3.5M287.8 154.3h1.5M289.8 154.3h1.5M291.8 154.3h1.5M36.8 157.1h25.4M62.8 157.1h5.4M68.8 157.1h1.4M70.8 157.1h7.4M78.8 157.1h35.4M114.8 157.1h2.4M117.8 157.1h6.4M125.8 157.1h6.4M132.8 157.1h3.4M136.8 157.1h20.4M157.8 157.1h19.4M177.8 157.1h33.4M212.8 157.1h16.4M229.8 157.1h1.4M233.8 157.1h1.4M235.8 157.1h10.4M246.8 157.1h11.4M259.8 157.1h2.4M262.8 157.1h5.4M268.8 157.1h1.4M270.8 157.1h19.4M290.8 157.1h2.4" stroke="#c8c8c8" stroke-width="1.6" fill="none"/>
<path d="M34.8 148.8h8.5M44.8 148.8h15.5M60.8 148.8h1.5M62.8 148.8h22.5M85.8 148.8h15.5M101.8 148.8h9.5M111.8 148.8h5.5M117.8 148.8h1.5M120.8 148.8h2.5M123.8 148.8h4.5M128.8 148.8h1.5M130.8 148.8h2.5M133.8 148.8h4.5M138.8 148.8h5.5M144.8 148.8h1.5M150.8 148.8h1.5M152.8 148.8h1.5M155.8 148.8h14.5M170.8 148.8h6.5M180.8 148.8h1.5M182.8 148.8h15.5M198.8 148.8h1.5M200.8 148.8h1.5M202.8 148.8h2.5M208.8 148.8h7.5M217.8 148.8h6.5M224.8 148.8h1.5M227.8 148.8h11.5M240.8 148.8h1.5M245.8 148.8h2.5M249.8 148.8h1.5M255.8 148.8h1.5M257.8 148.8h3.5M261.8 148.8h1.5M265.8 148.8h1.5M268.8 148.8h1.5M274.8 148.8h2.5M277.8 148.8h2.5M281.8 148.8h1.5M285.8 148.8h1.5M289.8 148.8h1.5M291.8 148.8h1.5M34.7 146.1h70.5M105.7 146.1h3.5M109.7 146.1h2.5M112.7 146.1h1.5M115.7 146.1h2.5M118.7 146.1h3.5M122.7 146.1h6.5M129.7 146.1h5.5M141.7 146.1h1.5M143.7 146.1h5.5M150.7 146.1h1.5M152.7 146.1h1.5M154.7 146.1h1.5M156.7 146.1h2.5M159.7 146.1h1.5M161.7 146.1h1.5M163.7 146.1h1.5M165.7 146.1h1.5M168.7 146.1h3.5M173.7 146.1h1.5M175.7 146.1h2.5M179.7 146.1h2.5M183.7 146.1h5.5M189.7 146.1h8.5M199.7 146.1h1.5M201.7 146.1h6.5M208.7 146.1h1.5M210.7 146.1h2.5M215.7 146.1h1.5M217.7 146.1h2.5M220.7 146.1h1.5M222.7 146.1h1.5M225.7 146.1h1.5M228.7 146.1h1.5M230.7 146.1h1.5M233.7 146.1h6.5M241.7 146.1h1.5M243.7 146.1h5.5M249.7 146.1h1.5M251.7 146.1h1.5M257.7 146.1h1.5M259.7 146.1h4.5M264.7 146.1h1.5M267.7 146.1h1.5M270.7 146.1h2.5M274.7 146.1h1.5M286.7 146.1h1.5M291.7 146.1h1.5M35.8 151.6h13.5M49.8 151.6h6.5M56.8 151.6h19.5M76.8 151.6h11.5M88.8 151.6h10.5M99.8 151.6h1.5M101.8 151.6h2.5M104.8 151.6h2.5M107.8 151.6h6.5M114.8 151.6h8.5M123.8 151.6h4.5M128.8 151.6h4.5M135.8 151.6h4.5M140.8 151.6h4.5M145.8 151.6h7.5M153.8 151.6h3.5M157.8 151.6h1.5M159.8 151.6h1.5M162.8 151.6h1.5M164.8 151.6h1.5M167.8 151.6h4.5M172.8 151.6h1.5M174.8 151.6h1.5M176.8 151.6h2.5M179.8 151.6h1.5M181.8 151.6h3.5M185.8 151.6h1.5M187.8 151.6h6.5M194.8 151.6h5.5M200.8 151.6h6.5M207.8 151.6h1.5M209.8 151.6h1.5M211.8 151.6h12.5M224.8 151.6h4.5M229.8 151.6h2.5M233.8 151.6h1.5M235.8 151.6h4.5M240.8 151.6h1.5M242.8 151.6h2.5M245.8 151.6h3.5M250.8 151.6h5.5M257.8 151.6h1.5M259.8 151.6h5.5M267.8 151.6h3.5M271.8 151.6h1.5M275.8 151.6h9.5M287.8 151.6h1.5M289.8 151.6h3.5" stroke="#c8c8c8" stroke-width="1.7" fill="none"/>
<path d="M34.7 143.3h4.5M40.7 143.3h13.5M54.7 143.3h5.5M61.7 143.3h8.5M71.7 143.3h1.5M73.7 143.3h10.5M84.7 143.3h6.5M91.7 143.3h6.5M99.7 143.3h2.5M102.7 143.3h3.5M107.7 143.3h1.5M111.7 143.3h4.5M117.7 143.3h2.5M120.7 143.3h1.5M122.7 143.3h1.5M124.7 143.3h3.5M128.7 143.3h1.5M134.7 143.3h1.5M137.7 143.3h3.5M141.7 143.3h2.5M144.7 143.3h1.5M149.7 143.3h1.5M151.7 143.3h3.5M155.7 143.3h1.5M160.7 143.3h1.5M162.7 143.3h5.5M168.7 143.3h1.5M172.7 143.3h1.5M174.7 143.3h3.5M178.7 143.3h3.5M183.7 143.3h1.5M185.7 143.3h1.5M188.7 143.3h1.5M191.7 143.3h1.5M196.7 143.3h1.5M198.7 143.3h1.5M200.7 143.3h1.5M203.7 143.3h1.5M205.7 143.3h1.5M210.7 143.3h2.5M217.7 143.3h1.5M222.7 143.3h2.5M225.7 143.3h2.5M228.7 143.3h1.5M230.7 143.3h3.5M234.7 143.3h2.5M237.7 143.3h1.5M241.7 143.3h1.5M243.7 143.3h1.5M247.7 143.3h3.5M251.7 143.3h2.5M254.7 143.3h1.5M258.7 143.3h1.5M260.7 143.3h1.5M262.7 143.3h2.5M265.7 143.3h1.5M275.7 143.3h2.5M283.7 143.3h1.5M290.7 143.3h1.5M34.7 140.6h5.6M40.7 140.6h2.6M43.7 140.6h7.6M51.7 140.6h5.6M57.7 140.6h1.6M59.7 140.6h8.6M68.7 140.6h14.6M83.7 140.6h4.6M88.7 140.6h1.6M90.7 140.6h2.6M93.7 140.6h11.6M105.7 140.6h3.6M109.7 140.6h1.6M112.7 140.6h1.6M117.7 140.6h1.6M119.7 140.6h1.6M122.7 140.6h1.6M125.7 140.6h5.6M135.7 140.6h1.6M143.7 140.6h1.6M145.7 140.6h1.6M148.7 140.6h2.6M153.7 140.6h1.6M158.7 140.6h1.6M160.7 140.6h2.6M164.7 140.6h2.6M183.7 140.6h1.6M190.7 140.6h1.6M193.7 140.6h1.6M195.7 140.6h1.6M214.7 140.6h2.6M218.7 140.6h1.6M221.7 140.6h1.6M224.7 140.6h1.6M229.7 140.6h2.6M235.7 140.6h1.6M243.7 140.6h2.6M246.7 140.6h1.6M250.7 140.6h2.6M254.7 140.6h1.6M261.7 140.6h1.6M266.7 140.6h1.6M275.7 140.6h1.6M279.7 140.6h1.6M283.7 140.6h1.6M285.7 140.6h1.6M289.7 140.6h1.6" stroke="#c8c8c8" stroke-width="1.8" fill="none"/>
<path d="M34.7 137.8h7.6M42.7 137.8h11.6M54.7 137.8h19.6M74.7 137.8h11.6M86.7 137.8h3.6M90.7 137.8h2.6M94.7 137.8h1.6M97.7 137.8h8.6M107.7 137.8h1.6M109.7 137.8h1.6M112.7 137.8h6.6M120.7 137.8h2.6M124.7 137.8h1.6M127.7 137.8h2.6M131.7 137.8h1.6M137.7 137.8h2.6M148.7 137.8h1.6M154.7 137.8h1.6M157.7 137.8h1.6M162.7 137.8h1.6M171.7 137.8h1.6M177.7 137.8h1.6M182.7 137.8h1.6M185.7 137.8h1.6M195.7 137.8h1.6M201.7 137.8h1.6M207.7 137.8h1.6M213.7 137.8h1.6M217.7 137.8h1.6M231.7 137.8h1.6M235.7 137.8h1.6M241.7 137.8h1.6M243.7 137.8h1.6M249.7 137.8h2.6M259.7 137.8h1.6M261.7 137.8h2.6M270.7 137.8h1.6M274.7 137.8h1.6M276.7 137.8h1.6M282.7 137.8h1.6M285.7 137.8h2.6M288.7 137.8h2.6M34.7 135.1h2.6M37.7 135.1h17.6M55.7 135.1h22.6M78.7 135.1h1.6M81.7 135.1h3.6M85.7 135.1h3.6M91.7 135.1h1.6M93.7 135.1h5.6M99.7 135.1h1.6M101.7 135.1h4.6M106.7 135.1h1.6M108.7 135.1h1.6M110.7 135.1h2.6M120.7 135.1h2.6M123.7 135.1h1.6M127.7 135.1h1.6M130.7 135.1h1.6M138.7 135.1h1.6M152.7 135.1h3.6M159.7 135.1h1.6M163.7 135.1h2.6M167.7 135.1h1.6M184.7 135.1h1.6M187.7 135.1h1.6M189.7 135.1h1.6M194.7 135.1h1.6M197.7 135.1h1.6M203.7 135.1h2.6M209.7 135.1h1.6M215.7 135.1h1.6M219.7 135.1h1.6M225.7 135.1h2.6M234.7 135.1h1.6M242.7 135.1h1.6M246.7 135.1h1.6M255.7 135.1h1.6M262.7 135.1h1.6M268.7 135.1h1.6M272.7 135.1h4.6M285.7 135.1h1.6M34.7 132.3h4.6M40.7 132.3h16.6M57.7 132.3h12.6M72.7 132.3h2.6M75.7 132.3h1.6M77.7 132.3h6.6M85.7 132.3h3.6M89.7 132.3h3.6M95.7 132.3h1.6M99.7 132.3h1.6M105.7 132.3h3.6M109.7 132.3h1.6M120.7 132.3h1.6M124.7 132.3h1.6M129.7 132.3h1.6M132.7 132.3h1.6M136.7 132.3h1.6M142.7 132.3h1.6M144.7 132.3h1.6M146.7 132.3h1.6M151.7 132.3h1.6M155.7 132.3h1.6M157.7 132.3h1.6M159.7 132.3h1.6M174.7 132.3h1.6M176.7 132.3h2.6M181.7 132.3h1.6M185.7 132.3h1.6M198.7 132.3h1.6M202.7 132.3h1.6M207.7 132.3h1.6M220.7 132.3h1.6M223.7 132.3h1.6M232.7 132.3h1.6M248.7 132.3h1.6M252.7 132.3h1.6M258.7 132.3h1.6M272.7 132.3h1.6M278.7 132.3h1.6M284.7 132.3h1.6M290.7 132.3h1.6" stroke="#c8c8c8" stroke-width="1.9" fill="none"/>
<path d="M34.7 129.6h2.6M37.7 129.6h12.6M50.7 129.6h9.6M61.7 129.6h6.6M68.7 129.6h3.6M73.7 129.6h2.6M76.7 129.6h1.6M78.7 129.6h6.6M85.7 129.6h1.6M89.7 129.6h2.6M92.7 129.6h1.6M95.7 129.6h1.6M104.7 129.6h1.6M106.7 129.6h1.6M109.7 129.6h1.6M111.7 129.6h1.6M116.7 129.6h1.6M123.7 129.6h2.6M131.7 129.6h1.6M138.7 129.6h1.6M141.7 129.6h1.6M147.7 129.6h1.6M155.7 129.6h1.6M173.7 129.6h1.6M180.7 129.6h1.6M184.7 129.6h1.6M195.7 129.6h1.6M198.7 129.6h1.6M226.7 129.6h1.6M229.7 129.6h1.6M237.7 129.6h1.6M240.7 129.6h1.6M250.7 129.6h1.6M277.7 129.6h1.6M279.7 129.6h1.6M281.7 129.6h1.6M290.7 129.6h1.6M34.7 126.8h2.7M37.7 126.8h4.7M42.7 126.8h1.7M44.7 126.8h3.7M48.7 126.8h1.7M50.7 126.8h5.7M56.7 126.8h2.7M60.7 126.8h1.7M63.7 126.8h3.7M67.7 126.8h6.7M74.7 126.8h6.7M87.7 126.8h1.7M90.7 126.8h2.7M97.7 126.8h1.7M99.7 126.8h1.7M102.7 126.8h1.7M104.7 126.8h1.7M108.7 126.8h2.7M112.7 126.8h1.7M128.7 126.8h1.7M134.7 126.8h2.7M157.7 126.8h1.7M170.7 126.8h1.7M174.7 126.8h1.7M176.7 126.8h1.7M188.7 126.8h1.7M203.7 126.8h1.7M218.7 126.8h1.7M227.7 126.8h1.7M245.7 126.8h1.7M255.7 126.8h1.7M262.7 126.8h1.7M268.7 126.8h1.7M271.7 126.8h1.7M282.7 126.8h1.7" stroke="#c8c8c8" stroke-width="2.0" fill="none"/>
<path d="M34.7 124.1h1.7M37.7 124.1h4.7M44.7 124.1h11.7M56.7 124.1h5.7M62.7 124.1h1.7M64.7 124.1h2.7M67.7 124.1h2.7M80.7 124.1h1.7M85.7 124.1h1.7M87.7 124.1h1.7M109.7 124.1h1.7M112.7 124.1h1.7M119.7 124.1h1.7M121.7 124.1h1.7M158.7 124.1h1.7M196.7 124.1h1.7M229.7 124.1h1.7M251.7 124.1h1.7M255.7 124.1h1.7M283.7 124.1h1.7M285.7 124.1h1.7M34.6 121.3h20.7M55.6 121.3h2.7M58.6 121.3h3.7M62.6 121.3h2.7M65.7 121.3h3.7M69.7 121.3h1.7M73.7 121.3h1.7M75.7 121.3h3.7M80.7 121.3h1.7M86.7 121.3h1.7M88.7 121.3h1.7M93.7 121.3h1.7M104.7 121.3h1.7M122.7 121.3h1.7M125.7 121.3h1.7M128.7 121.3h1.7M136.7 121.3h1.7M159.7 121.3h1.7M174.7 121.3h1.7M176.7 121.3h1.7M183.7 121.3h1.7M195.7 121.3h1.7M205.7 121.3h1.7M230.7 121.3h1.7M237.7 121.3h1.7M245.7 121.3h1.7M276.6 121.3h1.7M282.6 121.3h1.7M286.6 121.3h1.7M291.6 121.3h1.7M34.6 118.6h20.7M55.6 118.6h4.7M60.6 118.6h2.7M64.6 118.6h1.7M66.6 118.6h2.7M69.6 118.6h1.7M74.6 118.6h2.7M77.6 118.6h1.7M79.6 118.6h4.7M88.6 118.6h2.7M99.6 118.6h1.7M115.6 118.6h1.7M152.6 118.6h1.7M156.6 118.6h1.7M171.6 118.6h2.7M175.6 118.6h1.7M188.6 118.6h1.7M195.6 118.6h2.7M203.6 118.6h1.7M205.6 118.6h1.7M214.6 118.6h1.7M218.6 118.6h1.7M221.6 118.6h1.7M227.6 118.6h1.7M254.6 118.6h1.7M268.6 118.6h1.7M285.6 118.6h1.7M290.6 118.6h1.7" stroke="#c8c8c8" stroke-width="2.1" fill="none"/>
<path d="M34.6 115.8h9.7M45.6 115.8h8.7M54.6 115.8h4.7M59.6 115.8h1.7M63.6 115.8h1.7M69.6 115.8h1.7M71.6 115.8h1.7M75.6 115.8h1.7M82.6 115.8h1.7M89.6 115.8h1.7M102.6 115.8h1.7M121.6 115.8h1.7M159.6 115.8h2.7M166.6 115.8h1.7M173.6 115.8h1.7M195.6 115.8h1.7M197.6 115.8h1.7M246.6 115.8h1.7M267.6 115.8h1.7M285.6 115.8h1.7M289.6 115.8h1.7M34.6 113.1h10.8M45.6 113.1h2.8M48.6 113.1h1.8M50.6 113.1h1.8M52.6 113.1h3.8M57.6 113.1h2.8M60.6 113.1h1.8M62.6 113.1h1.8M65.6 113.1h1.8M67.6 113.1h3.8M71.6 113.1h1.8M81.6 113.1h1.8M83.6 113.1h1.8M98.6 113.1h1.8M117.6 113.1h1.8M120.6 113.1h1.8M235.6 113.1h1.8M243.6 113.1h1.8M284.6 113.1h1.8" stroke="#c8c8c8" stroke-width="2.2" fill="none"/>
<path d="M34.6 110.3h4.8M39.6 110.3h5.8M50.6 110.3h1.8M54.6 110.3h1.8M59.6 110.3h2.8M64.6 110.3h1.8M79.6 110.3h1.8M83.6 110.3h1.8M86.6 110.3h1.8M94.6 110.3h1.8M98.6 110.3h1.8M192.6 110.3h1.8M275.6 110.3h1.8M34.6 107.6h14.8M50.6 107.6h2.8M71.6 107.6h1.8M74.6 107.6h1.8M76.6 107.6h1.8M87.6 107.6h1.8M89.6 107.6h1.8M120.6 107.6h1.8M131.6 107.6h1.8M195.6 107.6h1.8M273.6 107.6h1.8M34.6 104.9h2.8M37.6 104.9h5.8M43.6 104.9h3.8M54.6 104.9h1.8M66.6 104.9h1.8M68.6 104.9h1.8M70.6 104.9h1.8M110.6 104.9h1.8M135.6 104.9h1.8M206.6 104.9h1.8M236.6 104.9h1.8M244.6 104.9h1.8M282.6 104.9h1.8" stroke="#c8c8c8" stroke-width="2.3" fill="none"/>
<path d="M34.6 102.1h3.8M38.6 102.1h2.8M41.6 102.1h6.8M53.6 102.1h3.8M57.6 102.1h3.8M65.6 102.1h1.8M70.6 102.1h1.8M83.6 102.1h1.8M115.6 102.1h1.8M130.6 102.1h1.8M180.6 102.1h1.8M190.6 102.1h1.8M34.6 99.3h4.9M39.6 99.3h3.9M43.6 99.3h1.9M47.6 99.3h1.9M54.6 99.3h1.9M56.6 99.3h1.9M73.6 99.3h1.9M83.6 99.3h2.9M93.6 99.3h1.9M125.6 99.3h1.9M128.6 99.3h1.9M130.6 99.3h1.9M141.6 99.3h1.9" stroke="#c8c8c8" stroke-width="2.4" fill="none"/>
<path d="M34.6 96.6h6.9M43.6 96.6h1.9M48.6 96.6h3.9M52.6 96.6h1.9M54.6 96.6h1.9M68.6 96.6h1.9M70.6 96.6h1.9M114.6 96.6h1.9M137.6 96.6h1.9M184.6 96.6h1.9M199.6 96.6h1.9M34.5 93.8h2.9M37.5 93.8h1.9M39.5 93.8h1.9M41.5 93.8h1.9M43.5 93.8h1.9M47.5 93.8h3.9M62.5 93.8h1.9M85.5 93.8h1.9M89.5 93.8h1.9M115.5 93.8h1.9M119.5 93.8h1.9M34.5 91.1h4.9M39.5 91.1h1.9M42.5 91.1h1.9M51.5 91.1h1.9M171.5 91.1h1.9M180.5 91.1h1.9M253.5 91.1h1.9" stroke="#c8c8c8" stroke-width="2.5" fill="none"/>
<path d="M34.5 88.3h2.9M39.5 88.3h2.9M48.5 88.3h1.9M65.5 88.3h1.9M226.5 88.3h1.9M34.5 85.6h3.0M255.5 85.6h2.0" stroke="#c8c8c8" stroke-width="2.6" fill="none"/>
<path d="M34.5 82.8h3.0M40.5 82.8h2.0M43.5 82.8h2.0M165.5 82.8h2.0M34.5 80.1h3.0M42.5 80.1h2.0M49.5 80.1h2.0M74.5 80.1h2.0M125.5 80.1h2.0M34.5 77.3h3.0M38.5 77.3h2.0M42.5 77.3h2.0M52.5 77.3h2.0M54.5 77.3h2.0M98.5 77.3h2.0" stroke="#c8c8c8" stroke-width="2.7" fill="none"/>
<path d="M34.5 71.8h3.1M47.5 71.8h2.1M36.5 74.6h2.0M40.5 74.6h2.0M52.5 74.6h2.0M72.5 74.6h2.0M131.5 74.6h2.0" stroke="#c8c8c8" stroke-width="2.8" fill="none"/>
<path d="M34.4 63.6h3.1M38.4 63.6h2.1M35.5 69.1h2.1M45.5 69.1h2.1M207.5 69.1h2.1M35.5 66.3h2.1M149.4 66.3h2.1" stroke="#c8c8c8" stroke-width="2.9" fill="none"/>
<path d="M34.4 58.1h3.2M42.4 60.8h2.1M126.4 60.8h2.1" stroke="#c8c8c8" stroke-width="3.0" fill="none"/>
<path d="M37.8 159.8h6.4M44.8 159.8h3.4M48.8 159.8h8.4M58.8 159.8h5.4M64.8 159.8h8.4M73.8 159.8h3.4M77.8 159.8h2.4M80.8 159.8h1.4M82.8 159.8h7.4M90.8 159.8h3.4M94.8 159.8h17.4M112.8 159.8h8.4M121.8 159.8h7.4M129.8 159.8h2.4M132.8 159.8h2.4M135.8 159.8h3.4M139.8 159.8h7.4M147.8 159.8h17.4M165.8 159.8h3.4M169.8 159.8h20.4M191.8 159.8h4.4M196.8 159.8h10.4M207.8 159.8h3.4M211.8 159.8h1.4M213.8 159.8h2.4M216.8 159.8h10.4M227.8 159.8h1.4M229.8 159.8h22.4M252.8 159.8h2.4M255.8 159.8h37.4M38.8 162.6h2.4M41.8 162.6h1.4M43.8 162.6h10.4M54.8 162.6h15.4M70.8 162.6h8.4M79.8 162.6h8.4M89.8 162.6h8.4M98.8 162.6h9.4M108.8 162.6h5.4M114.8 162.6h14.4M129.8 162.6h27.4M157.8 162.6h15.4M173.8 162.6h3.4M177.8 162.6h6.4M184.8 162.6h1.4M186.8 162.6h18.4M205.8 162.6h17.4M223.8 162.6h8.4M232.8 162.6h10.4M243.8 162.6h1.4M245.8 162.6h9.4M255.8 162.6h13.4M269.8 162.6h10.4M282.8 162.6h10.4M41.8 165.3h1.4M43.8 165.3h4.4M48.8 165.3h3.4M52.8 165.3h3.4M56.8 165.3h3.4M60.8 165.3h25.4M86.8 165.3h9.4M96.8 165.3h17.4M114.8 165.3h4.4M119.8 165.3h4.4M124.8 165.3h14.4M139.8 165.3h21.4M162.8 165.3h21.4M185.8 165.3h2.4M188.8 165.3h16.4M205.8 165.3h8.4M214.8 165.3h14.4M229.8 165.3h2.4M232.8 165.3h37.4M270.8 165.3h4.4M275.8 165.3h4.4M280.8 165.3h3.4M285.8 165.3h7.4" stroke="#c8c8c8" stroke-width="1.5" fill="none"/>
<path d="M42.8 170.8h1.3M49.8 170.8h1.3M51.8 170.8h1.3M54.8 170.8h3.3M58.8 170.8h1.3M60.8 170.8h1.3M62.8 170.8h5.3M69.8 170.8h2.3M74.8 170.8h8.3M83.8 170.8h1.3M85.8 170.8h4.3M90.8 170.8h3.3M94.8 170.8h9.3M104.8 170.8h5.3M110.8 170.8h5.3M118.8 170.8h5.3M124.8 170.8h1.3M128.8 170.8h11.3M140.8 170.8h1.3M142.8 170.8h6.3M149.8 170.8h10.3M161.8 170.8h7.3M169.8 170.8h5.3M175.8 170.8h7.3M183.8 170.8h4.3M188.8 170.8h2.3M193.8 170.8h1.3M195.8 170.8h17.3M215.8 170.8h2.3M218.8 170.8h1.3M220.8 170.8h3.3M226.8 170.8h2.3M229.8 170.8h3.3M234.8 170.8h5.3M240.8 170.8h5.3M247.8 170.8h7.3M255.8 170.8h3.3M259.8 170.8h8.3M268.8 170.8h7.3M276.8 170.8h4.3M281.8 170.8h8.3M290.8 170.8h2.3M42.8 168.1h1.4M45.8 168.1h5.4M53.8 168.1h23.4M77.8 168.1h2.4M80.8 168.1h11.4M93.8 168.1h11.4M105.8 168.1h5.4M111.8 168.1h2.4M114.8 168.1h4.4M119.8 168.1h10.4M130.8 168.1h8.4M139.8 168.1h6.4M146.8 168.1h10.4M157.8 168.1h1.4M159.8 168.1h26.4M186.8 168.1h1.4M188.8 168.1h9.4M198.8 168.1h6.4M205.8 168.1h6.4M212.8 168.1h9.4M222.8 168.1h3.4M226.8 168.1h2.4M229.8 168.1h11.4M241.8 168.1h2.4M244.8 168.1h8.4M253.8 168.1h18.4M272.8 168.1h3.4M276.8 168.1h1.4M278.8 168.1h8.4M287.8 168.1h5.4" stroke="#c8c8c8" stroke-width="1.4" fill="none"/>
<path d="M47.4 41.6h2.3M87.4 41.6h2.3M34.3 11.3h2.4" stroke="#c8c8c8" stroke-width="3.2" fill="none"/>
<path d="M57.9 192.8h1.3M61.9 192.8h1.3M64.8 192.8h1.3M68.8 192.8h1.3M70.8 192.8h1.3M72.8 192.8h1.3M77.8 192.8h2.3M83.8 192.8h2.3M86.8 192.8h2.3M89.8 192.8h1.3M96.8 192.8h1.3M98.8 192.8h5.3M106.8 192.8h6.3M121.8 192.8h2.3M130.8 192.8h4.3M135.8 192.8h1.3M142.8 192.8h4.3M147.8 192.8h2.3M151.8 192.8h3.3M155.8 192.8h1.3M158.8 192.8h1.3M160.8 192.8h1.3M165.8 192.8h1.3M168.8 192.8h1.3M170.8 192.8h2.3M173.8 192.8h1.3M176.8 192.8h7.3M188.8 192.8h3.3M192.8 192.8h1.3M194.8 192.8h2.3M197.8 192.8h2.3M200.8 192.8h3.3M206.8 192.8h1.3M209.8 192.8h2.3M212.8 192.8h1.3M220.8 192.8h1.3M224.8 192.8h2.3M233.8 192.8h5.3M242.8 192.8h5.3M250.8 192.8h4.3M255.8 192.8h2.3M258.9 192.8h2.3M262.9 192.8h3.3M268.9 192.8h5.3M279.9 192.8h1.3M281.9 192.8h1.3M285.9 192.8h1.3M287.9 192.8h5.3M60.8 173.6h2.3M66.8 173.6h1.3M68.8 173.6h3.3M73.8 173.6h3.3M77.8 173.6h3.3M81.8 173.6h1.3M85.8 173.6h4.3M90.8 173.6h2.3M95.8 173.6h2.3M98.8 173.6h2.3M101.8 173.6h2.3M105.8 173.6h1.3M108.8 173.6h2.3M111.8 173.6h4.3M119.8 173.6h6.3M130.8 173.6h1.3M132.8 173.6h2.3M135.8 173.6h1.3M138.8 173.6h1.3M140.8 173.6h5.3M147.8 173.6h2.3M151.8 173.6h1.3M153.8 173.6h1.3M155.8 173.6h1.3M157.8 173.6h1.3M159.8 173.6h1.3M161.8 173.6h4.3M166.8 173.6h4.3M172.8 173.6h4.3M177.8 173.6h2.3M181.8 173.6h2.3M184.8 173.6h1.3M189.8 173.6h1.3M192.8 173.6h2.3M195.8 173.6h3.3M199.8 173.6h1.3M201.8 173.6h1.3M203.8 173.6h1.3M205.8 173.6h3.3M209.8 173.6h3.3M213.8 173.6h1.3M216.8 173.6h1.3M219.8 173.6h2.3M224.8 173.6h2.3M227.8 173.6h1.3M234.8 173.6h3.3M238.8 173.6h2.3M242.8 173.6h1.3M244.8 173.6h5.3M251.8 173.6h1.3M253.8 173.6h1.3M258.8 173.6h1.3M260.8 173.6h1.3M263.8 173.6h3.3M267.8 173.6h1.3M269.8 173.6h2.3M273.8 173.6h1.3M275.8 173.6h1.3M278.8 173.6h2.3M288.8 173.6h1.3M291.8 173.6h1.3M61.9 187.3h1.3M63.9 187.3h2.3M70.8 187.3h1.3M74.8 187.3h5.3M83.8 187.3h2.3M87.8 187.3h4.3M96.8 187.3h1.3M99.8 187.3h3.3M106.8 187.3h7.3M121.8 187.3h1.3M123.8 187.3h2.3M130.8 187.3h8.3M139.8 187.3h1.3M141.8 187.3h7.3M150.8 187.3h9.3M164.8 187.3h1.3M166.8 187.3h3.3M170.8 187.3h2.3M174.8 187.3h3.3M178.8 187.3h4.3M183.8 187.3h1.3M189.8 187.3h2.3M192.8 187.3h1.3M196.8 187.3h1.3M198.8 187.3h5.3M204.8 187.3h1.3M206.8 187.3h1.3M208.8 187.3h2.3M211.8 187.3h1.3M213.8 187.3h1.3M215.8 187.3h1.3M220.8 187.3h3.3M233.8 187.3h7.3M241.8 187.3h11.3M254.8 187.3h5.3M260.9 187.3h1.3M262.9 187.3h6.3M269.9 187.3h2.3M274.9 187.3h1.3M279.9 187.3h2.3M283.9 187.3h1.3M286.9 187.3h2.3M289.9 187.3h3.3M61.9 176.3h2.3M64.8 176.3h1.3M67.8 176.3h3.3M71.8 176.3h3.3M77.8 176.3h4.3M83.8 176.3h2.3M86.8 176.3h2.3M90.8 176.3h1.3M95.8 176.3h4.3M100.8 176.3h3.3M107.8 176.3h1.3M109.8 176.3h1.3M112.8 176.3h2.3M119.8 176.3h1.3M122.8 176.3h2.3M130.8 176.3h3.3M134.8 176.3h3.3M142.8 176.3h1.3M144.8 176.3h10.3M155.8 176.3h5.3M164.8 176.3h3.3M168.8 176.3h5.3M174.8 176.3h6.3M181.8 176.3h3.3M187.8 176.3h9.3M197.8 176.3h5.3M203.8 176.3h13.3M220.8 176.3h4.3M225.8 176.3h1.3M232.8 176.3h3.3M237.8 176.3h2.3M242.8 176.3h2.3M245.8 176.3h2.3M248.8 176.3h3.3M252.8 176.3h1.3M255.8 176.3h1.3M257.9 176.3h2.3M260.9 176.3h3.3M264.9 176.3h1.3M266.9 176.3h3.3M270.9 176.3h2.3M273.9 176.3h1.3M285.9 176.3h1.3M287.9 176.3h5.3M62.9 195.6h3.3M69.8 195.6h2.3M73.8 195.6h3.3M77.8 195.6h4.3M83.8 195.6h1.3M86.8 195.6h1.3M89.8 195.6h1.3M100.8 195.6h1.3M106.8 195.6h5.3M113.8 195.6h1.3M121.8 195.6h1.3M130.8 195.6h1.3M135.8 195.6h1.3M139.8 195.6h1.3M142.8 195.6h1.3M144.8 195.6h6.3M151.8 195.6h4.3M156.8 195.6h3.3M162.8 195.6h3.3M166.8 195.6h1.3M168.8 195.6h1.3M171.8 195.6h2.3M174.8 195.6h1.3M179.8 195.6h3.3M190.8 195.6h1.3M196.8 195.6h3.3M203.8 195.6h4.3M209.8 195.6h2.3M212.8 195.6h1.3M214.8 195.6h1.3M221.8 195.6h1.3M223.8 195.6h1.3M234.8 195.6h2.3M237.8 195.6h3.3M245.8 195.6h1.3M249.8 195.6h1.3M251.8 195.6h4.3M258.9 195.6h1.3M262.9 195.6h2.3M266.9 195.6h1.3M288.9 195.6h1.3M62.9 181.8h2.3M69.8 181.8h1.3M74.8 181.8h1.3M76.8 181.8h2.3M79.8 181.8h1.3M81.8 181.8h1.3M84.8 181.8h1.3M87.8 181.8h4.3M98.8 181.8h2.3M101.8 181.8h2.3M106.8 181.8h4.3M111.8 181.8h1.3M113.8 181.8h1.3M120.8 181.8h3.3M124.8 181.8h1.3M130.8 181.8h4.3M135.8 181.8h1.3M137.8 181.8h1.3M141.8 181.8h6.3M148.8 181.8h8.3M157.8 181.8h2.3M160.8 181.8h2.3M163.8 181.8h5.3M172.8 181.8h3.3M176.8 181.8h1.3M178.8 181.8h2.3M181.8 181.8h1.3M183.8 181.8h1.3M188.8 181.8h2.3M191.8 181.8h1.3M193.8 181.8h8.3M202.8 181.8h5.3M208.8 181.8h1.3M210.8 181.8h6.3M220.8 181.8h5.3M234.8 181.8h3.3M239.8 181.8h1.3M241.8 181.8h1.3M243.8 181.8h4.3M248.8 181.8h1.3M250.8 181.8h6.3M258.9 181.8h4.3M263.9 181.8h5.3M270.9 181.8h3.3M280.9 181.8h5.3M286.9 181.8h3.3M290.9 181.8h2.3M62.9 179.1h3.3M69.8 179.1h1.3M74.8 179.1h7.3M83.8 179.1h7.3M97.8 179.1h1.3M99.8 179.1h4.3M106.8 179.1h8.3M119.8 179.1h3.3M125.8 179.1h1.3M130.8 179.1h2.3M138.8 179.1h1.3M141.8 179.1h4.3M146.8 179.1h3.3M152.8 179.1h8.3M163.8 179.1h2.3M166.8 179.1h3.3M170.8 179.1h1.3M172.8 179.1h1.3M174.8 179.1h1.3M176.8 179.1h9.3M188.8 179.1h5.3M194.8 179.1h3.3M198.8 179.1h2.3M201.8 179.1h3.3M205.8 179.1h6.3M215.8 179.1h1.3M220.8 179.1h4.3M234.8 179.1h1.3M236.8 179.1h2.3M242.8 179.1h4.3M247.8 179.1h2.3M251.8 179.1h3.3M255.8 179.1h4.3M260.9 179.1h4.3M265.9 179.1h3.3M269.9 179.1h1.3M272.9 179.1h1.3M276.9 179.1h1.3M278.9 179.1h1.3M287.9 179.1h5.3M63.9 203.8h1.3M100.8 203.8h1.3M106.8 203.8h1.3M151.8 203.8h1.3M167.8 203.8h1.3M181.8 203.8h1.3M199.8 203.8h1.3M204.8 203.8h1.3M290.9 203.8h1.3M63.9 190.1h2.3M71.8 190.1h2.3M74.8 190.1h1.3M76.8 190.1h5.3M83.8 190.1h5.3M89.8 190.1h2.3M96.8 190.1h2.3M99.8 190.1h4.3M106.8 190.1h5.3M112.8 190.1h1.3M117.8 190.1h3.3M122.8 190.1h2.3M131.8 190.1h2.3M134.8 190.1h3.3M142.8 190.1h5.3M148.8 190.1h1.3M150.8 190.1h4.3M156.8 190.1h1.3M158.8 190.1h2.3M167.8 190.1h4.3M172.8 190.1h1.3M174.8 190.1h1.3M176.8 190.1h5.3M182.8 190.1h1.3M190.8 190.1h3.3M195.8 190.1h1.3M198.8 190.1h4.3M204.8 190.1h2.3M207.8 190.1h1.3M211.8 190.1h4.3M220.8 190.1h3.3M234.8 190.1h2.3M238.8 190.1h1.3M242.8 190.1h7.3M250.8 190.1h1.3M253.8 190.1h2.3M257.9 190.1h3.3M261.9 190.1h11.3M273.9 190.1h1.3M281.9 190.1h2.3M284.9 190.1h1.3M287.9 190.1h5.3M64.8 184.6h1.3M71.8 184.6h1.3M75.8 184.6h2.3M78.8 184.6h2.3M83.8 184.6h1.3M85.8 184.6h2.3M89.8 184.6h1.3M97.8 184.6h2.3M100.8 184.6h3.3M106.8 184.6h4.3M111.8 184.6h2.3M114.8 184.6h1.3M120.8 184.6h2.3M131.8 184.6h1.3M134.8 184.6h3.3M142.8 184.6h1.3M145.8 184.6h1.3M148.8 184.6h2.3M153.8 184.6h2.3M157.8 184.6h2.3M165.8 184.6h11.3M177.8 184.6h2.3M180.8 184.6h2.3M188.8 184.6h2.3M191.8 184.6h2.3M194.8 184.6h4.3M199.8 184.6h1.3M201.8 184.6h1.3M203.8 184.6h3.3M208.8 184.6h2.3M214.8 184.6h1.3M222.8 184.6h1.3M234.8 184.6h5.3M240.8 184.6h3.3M244.8 184.6h3.3M248.8 184.6h7.3M256.9 184.6h1.3M258.9 184.6h1.3M260.9 184.6h1.3M262.9 184.6h2.3M265.9 184.6h1.3M267.9 184.6h3.3M271.9 184.6h2.3M279.9 184.6h3.3M283.9 184.6h1.3M287.9 184.6h3.3M70.8 198.3h1.3M76.8 198.3h1.3M84.8 198.3h2.3M87.8 198.3h1.3M98.8 198.3h1.3M100.8 198.3h1.3M102.8 198.3h1.3M106.8 198.3h1.3M108.8 198.3h1.3M120.8 198.3h1.3M124.8 198.3h1.3M130.8 198.3h1.3M135.8 198.3h2.3M141.8 198.3h2.3M155.8 198.3h1.3M157.8 198.3h1.3M168.8 198.3h1.3M170.8 198.3h1.3M173.8 198.3h3.3M185.8 198.3h2.3M191.8 198.3h1.3M197.8 198.3h2.3M206.8 198.3h1.3M220.8 198.3h2.3M224.8 198.3h1.3M242.8 198.3h1.3M250.8 198.3h1.3M255.8 198.3h3.3M265.9 198.3h1.3M269.9 198.3h1.3M271.9 198.3h2.3M287.9 198.3h1.3M290.9 198.3h1.3M83.8 201.1h1.3M107.8 201.1h1.3M120.8 201.1h1.3M130.8 201.1h1.3M143.8 201.1h1.3M147.8 201.1h1.3M154.8 201.1h1.3M157.8 201.1h2.3M178.8 201.1h1.3M181.8 201.1h1.3M188.8 201.1h1.3M203.8 201.1h1.3M233.8 201.1h1.3M239.8 201.1h1.3M245.8 201.1h1.3M247.8 201.1h1.3M257.9 201.1h1.3M265.9 201.1h1.3M267.9 201.1h1.3M270.9 201.1h1.3M122.8 206.6h1.3M131.8 206.6h1.3M200.8 206.6h1.3M207.8 206.6h2.3M233.8 206.6h1.3M254.8 206.6h1.3M264.9 206.6h1.3M158.8 209.3h1.3M258.9 209.3h1.3M210.8 212.1h1.3" stroke="#c8c8c8" stroke-width="1.3" fill="none"/>
<path d="M277.4 52.6h2.2" stroke="#c8c8c8" stroke-width="3.1" fill="none"/>
<path d="M391.8 174.6h1.5M398.8 174.6h1.5M402.8 174.6h10.5M413.8 174.6h3.5M417.8 174.6h12.5M430.8 174.6h8.5M439.8 174.6h3.5M443.8 174.6h2.5M446.8 174.6h11.5M458.8 174.6h11.5M470.8 174.6h4.5M475.8 174.6h12.5M488.8 174.6h71.5M560.8 174.6h10.5M571.8 174.6h22.5M594.8 174.6h23.5M618.8 174.6h3.5M622.8 174.6h26.5" stroke="#9a9a9a" stroke-width="1.8" fill="none"/>
<path d="M391.8 157.4h1.5M400.8 157.4h62.5M463.8 157.4h42.5M506.8 157.4h4.5M511.8 157.4h1.5M513.8 157.4h1.5M515.8 157.4h5.5M521.8 157.4h12.5M534.8 157.4h4.5M540.8 157.4h8.5M549.8 157.4h12.5M562.8 157.4h11.5M574.8 157.4h2.5M577.8 157.4h2.5M581.8 157.4h1.5M583.8 157.4h2.5M586.8 157.4h2.5M589.8 157.4h1.5M591.8 157.4h11.5M603.8 157.4h3.5M607.8 157.4h1.5M609.8 157.4h3.5M613.8 157.4h5.5M619.8 157.4h9.5M629.8 157.4h3.5M633.8 157.4h1.5M638.8 157.4h2.5M642.8 157.4h3.5M646.8 157.4h1.5M401.8 160.3h17.5M419.8 160.3h31.5M451.8 160.3h17.5M469.8 160.3h15.5M485.8 160.3h34.5M520.8 160.3h1.5M522.8 160.3h11.5M534.8 160.3h2.5M537.8 160.3h6.5M544.8 160.3h17.5M562.8 160.3h4.5M567.8 160.3h4.5M572.8 160.3h1.5M574.8 160.3h6.5M581.8 160.3h12.5M595.8 160.3h11.5M607.8 160.3h19.5M628.8 160.3h3.5M632.8 160.3h2.5M635.8 160.3h2.5M639.8 160.3h2.5M643.8 160.3h5.5" stroke="#9a9a9a" stroke-width="2.2" fill="none"/>
<path d="M394.8 191.7h1.5M398.8 191.7h1.5M481.8 191.7h1.5M483.8 191.7h1.5M487.8 191.7h1.5M490.8 191.7h1.5M492.8 191.7h1.5M499.8 191.7h1.5M501.8 191.7h1.5M504.8 191.7h1.5M507.8 191.7h1.5M515.8 191.7h1.5M521.8 191.7h2.5M549.8 191.7h1.5M552.8 191.7h1.5M554.8 191.7h1.5M570.8 191.7h1.5M577.8 191.7h1.5M580.8 191.7h1.5M585.8 191.7h1.5M590.8 191.7h1.5M603.8 191.7h1.5M606.8 191.7h1.5M618.8 191.7h1.5M626.8 191.7h1.5M628.8 191.7h2.5M632.8 191.7h1.5M639.8 191.7h1.5M642.8 191.7h1.5M394.8 186.0h1.5M416.8 186.0h1.5M423.8 186.0h1.5M429.8 186.0h1.5M439.8 186.0h1.5M476.8 186.0h1.5M478.8 186.0h1.5M481.8 186.0h1.5M484.8 186.0h2.5M487.8 186.0h1.5M492.8 186.0h1.5M494.8 186.0h1.5M497.8 186.0h2.5M500.8 186.0h1.5M503.8 186.0h2.5M508.8 186.0h1.5M511.8 186.0h1.5M514.8 186.0h1.5M532.8 186.0h1.5M542.8 186.0h2.5M546.8 186.0h1.5M548.8 186.0h2.5M553.8 186.0h1.5M556.8 186.0h3.5M571.8 186.0h2.5M579.8 186.0h1.5M586.8 186.0h1.5M589.8 186.0h1.5M603.8 186.0h1.5M616.8 186.0h1.5M618.8 186.0h1.5M624.8 186.0h1.5M626.8 186.0h1.5M628.8 186.0h2.5M641.8 186.0h1.5M647.8 186.0h1.5M398.8 197.5h1.5M437.8 197.5h1.5M480.8 197.5h1.5M487.8 197.5h1.5M489.8 197.5h1.5M493.8 197.5h1.5M497.8 197.5h1.5M499.8 197.5h1.5M501.8 197.5h1.5M505.8 197.5h1.5M508.8 197.5h1.5M516.8 197.5h1.5M518.8 197.5h1.5M521.8 197.5h1.5M523.8 197.5h1.5M551.8 197.5h1.5M553.8 197.5h1.5M570.8 197.5h1.5M578.8 197.5h1.5M582.8 197.5h1.5M587.8 197.5h1.5M615.8 197.5h1.5M617.8 197.5h2.5M644.8 197.5h1.5M646.8 197.5h1.5M403.8 183.2h1.5M405.8 183.2h1.5M408.8 183.2h1.5M410.8 183.2h1.5M414.8 183.2h2.5M419.8 183.2h1.5M421.8 183.2h3.5M427.8 183.2h4.5M434.8 183.2h2.5M438.8 183.2h2.5M446.8 183.2h1.5M452.8 183.2h1.5M454.8 183.2h1.5M456.8 183.2h2.5M464.8 183.2h1.5M467.8 183.2h2.5M470.8 183.2h2.5M481.8 183.2h4.5M486.8 183.2h3.5M490.8 183.2h2.5M493.8 183.2h1.5M495.8 183.2h1.5M497.8 183.2h1.5M500.8 183.2h1.5M502.8 183.2h1.5M505.8 183.2h1.5M507.8 183.2h2.5M511.8 183.2h1.5M514.8 183.2h3.5M518.8 183.2h3.5M523.8 183.2h6.5M531.8 183.2h2.5M535.8 183.2h2.5M540.8 183.2h2.5M543.8 183.2h1.5M547.8 183.2h4.5M553.8 183.2h1.5M557.8 183.2h1.5M562.8 183.2h1.5M566.8 183.2h3.5M572.8 183.2h1.5M575.8 183.2h1.5M578.8 183.2h8.5M590.8 183.2h2.5M593.8 183.2h1.5M598.8 183.2h1.5M600.8 183.2h1.5M602.8 183.2h1.5M604.8 183.2h2.5M607.8 183.2h3.5M613.8 183.2h3.5M617.8 183.2h4.5M624.8 183.2h1.5M628.8 183.2h1.5M630.8 183.2h2.5M633.8 183.2h1.5M635.8 183.2h1.5M637.8 183.2h3.5M642.8 183.2h4.5M647.8 183.2h1.5M424.8 200.3h1.5M475.8 200.3h1.5M481.8 200.3h2.5M486.8 200.3h1.5M491.8 200.3h1.5M496.8 200.3h1.5M498.8 200.3h1.5M501.8 200.3h1.5M505.8 200.3h1.5M507.8 200.3h1.5M516.8 200.3h1.5M541.8 200.3h1.5M546.8 200.3h1.5M555.8 200.3h1.5M557.8 200.3h1.5M575.8 200.3h2.5M578.8 200.3h2.5M581.8 200.3h1.5M583.8 200.3h1.5M589.8 200.3h1.5M603.8 200.3h1.5M627.8 200.3h1.5M640.8 200.3h2.5M647.8 200.3h1.5M429.8 188.9h1.5M444.8 188.9h1.5M464.8 188.9h1.5M478.8 188.9h1.5M499.8 188.9h1.5M512.8 188.9h2.5M520.8 188.9h1.5M539.8 188.9h1.5M550.8 188.9h1.5M553.8 188.9h1.5M556.8 188.9h1.5M558.8 188.9h1.5M564.8 188.9h1.5M571.8 188.9h2.5M575.8 188.9h1.5M582.8 188.9h1.5M584.8 188.9h1.5M586.8 188.9h1.5M607.8 188.9h1.5M619.8 188.9h1.5M621.8 188.9h1.5M626.8 188.9h1.5M642.8 188.9h1.5M645.8 188.9h3.5M443.8 194.6h1.5M474.8 194.6h1.5M476.8 194.6h1.5M485.8 194.6h1.5M489.8 194.6h1.5M494.8 194.6h2.5M514.8 194.6h1.5M521.8 194.6h1.5M541.8 194.6h1.5M544.8 194.6h1.5M549.8 194.6h2.5M552.8 194.6h1.5M554.8 194.6h1.5M558.8 194.6h1.5M568.8 194.6h1.5M571.8 194.6h1.5M574.8 194.6h1.5M588.8 194.6h1.5M590.8 194.6h2.5M601.8 194.6h1.5M606.8 194.6h1.5M629.8 194.6h1.5M638.8 194.6h1.5M642.8 194.6h1.5M645.8 194.6h1.5M455.8 208.9h1.5M478.8 208.9h1.5M481.8 208.9h1.5M498.8 208.9h1.5M508.8 208.9h1.5M512.8 208.9h1.5M518.8 208.9h1.5M539.8 208.9h1.5M541.8 208.9h1.5M543.8 208.9h1.5M551.8 208.9h2.5M554.8 208.9h2.5M557.8 208.9h1.5M567.8 208.9h1.5M571.8 208.9h1.5M575.8 208.9h1.5M578.8 208.9h1.5M582.8 208.9h1.5M584.8 208.9h1.5M589.8 208.9h1.5M606.8 208.9h1.5M620.8 208.9h1.5M623.8 208.9h1.5M632.8 208.9h1.5M472.8 206.0h1.5M474.8 206.0h2.5M478.8 206.0h1.5M484.8 206.0h1.5M487.8 206.0h1.5M493.8 206.0h1.5M499.8 206.0h3.5M506.8 206.0h1.5M517.8 206.0h2.5M523.8 206.0h1.5M542.8 206.0h1.5M567.8 206.0h1.5M572.8 206.0h2.5M605.8 206.0h1.5M616.8 206.0h1.5M624.8 206.0h1.5M639.8 206.0h1.5M474.8 203.2h1.5M476.8 203.2h1.5M487.8 203.2h1.5M494.8 203.2h1.5M498.8 203.2h1.5M506.8 203.2h1.5M519.8 203.2h1.5M540.8 203.2h1.5M544.8 203.2h1.5M553.8 203.2h1.5M566.8 203.2h1.5M587.8 203.2h1.5M616.8 203.2h1.5M622.8 203.2h1.5M632.8 203.2h1.5M640.8 203.2h1.5M478.8 211.8h1.5M506.8 211.8h3.5M539.8 211.8h1.5M543.8 211.8h1.5M558.8 211.8h1.5M568.8 211.8h1.5M570.8 211.8h1.5M573.8 211.8h1.5M577.8 211.8h1.5M583.8 211.8h1.5M606.8 211.8h1.5M626.8 211.8h1.5M637.8 211.8h1.5M640.8 211.8h1.5M645.8 211.8h1.5M480.8 217.5h1.5M496.8 217.5h1.5M555.8 217.5h1.5M584.8 217.5h1.5M497.8 214.6h2.5M502.8 214.6h1.5M504.8 214.6h1.5M568.8 214.6h1.5M577.8 214.6h1.5M580.8 214.6h1.5M600.8 214.6h1.5M607.8 214.6h1.5M641.8 214.6h1.5" stroke="#9a9a9a" stroke-width="1.6" fill="none"/>
<path d="M394.8 171.7h1.5M401.8 171.7h9.5M411.8 171.7h2.5M414.8 171.7h63.5M479.8 171.7h20.5M500.8 171.7h49.5M550.8 171.7h9.5M560.8 171.7h68.5M629.8 171.7h19.5" stroke="#9a9a9a" stroke-width="1.9" fill="none"/>
<path d="M394.8 163.1h1.5M401.8 163.1h2.5M404.8 163.1h8.5M413.8 163.1h29.5M443.8 163.1h12.5M456.8 163.1h192.5" stroke="#9a9a9a" stroke-width="2.1" fill="none"/>
<path d="M400.8 151.7h5.5M406.8 151.7h6.5M413.8 151.7h28.5M442.8 151.7h10.5M453.8 151.7h2.5M456.8 151.7h5.5M462.8 151.7h7.5M470.8 151.7h1.5M473.8 151.7h2.5M477.8 151.7h3.5M481.8 151.7h6.5M488.8 151.7h1.5M492.8 151.7h1.5M494.8 151.7h2.5M497.8 151.7h2.5M500.8 151.7h3.5M505.8 151.7h4.5M514.8 151.7h3.5M518.8 151.7h3.5M522.8 151.7h2.5M525.8 151.7h2.5M528.8 151.7h1.5M530.8 151.7h3.5M536.8 151.7h1.5M538.8 151.7h4.5M543.8 151.7h2.5M546.8 151.7h4.5M554.8 151.7h6.5M561.8 151.7h1.5M566.8 151.7h1.5M569.8 151.7h1.5M572.8 151.7h1.5M576.8 151.7h1.5M578.8 151.7h2.5M581.8 151.7h3.5M585.8 151.7h2.5M588.8 151.7h1.5M590.8 151.7h2.5M596.8 151.7h4.5M601.8 151.7h3.5M606.8 151.7h2.5M609.8 151.7h1.5M611.8 151.7h2.5M615.8 151.7h3.5M623.8 151.7h6.5M630.8 151.7h1.5M633.8 151.7h1.5M640.8 151.7h3.5M644.8 151.7h2.5M400.8 148.8h31.5M432.8 148.8h18.5M451.8 148.8h3.5M455.8 148.8h1.5M457.8 148.8h3.5M461.8 148.8h3.5M466.8 148.8h1.5M468.8 148.8h1.5M471.8 148.8h2.5M476.8 148.8h1.5M480.8 148.8h2.5M483.8 148.8h4.5M488.8 148.8h3.5M492.8 148.8h1.5M494.8 148.8h1.5M496.8 148.8h1.5M498.8 148.8h1.5M503.8 148.8h3.5M508.8 148.8h3.5M512.8 148.8h1.5M515.8 148.8h2.5M519.8 148.8h1.5M521.8 148.8h2.5M524.8 148.8h1.5M527.8 148.8h1.5M540.8 148.8h1.5M543.8 148.8h1.5M548.8 148.8h4.5M553.8 148.8h1.5M558.8 148.8h1.5M563.8 148.8h2.5M566.8 148.8h2.5M571.8 148.8h2.5M574.8 148.8h1.5M581.8 148.8h1.5M588.8 148.8h1.5M593.8 148.8h1.5M596.8 148.8h1.5M598.8 148.8h2.5M604.8 148.8h4.5M613.8 148.8h1.5M615.8 148.8h1.5M617.8 148.8h2.5M620.8 148.8h1.5M623.8 148.8h1.5M626.8 148.8h1.5M635.8 148.8h1.5M639.8 148.8h1.5" stroke="#9a9a9a" stroke-width="2.4" fill="none"/>
<path d="M400.8 146.0h22.5M423.8 146.0h9.5M433.8 146.0h6.5M441.8 146.0h6.5M449.8 146.0h3.5M453.8 146.0h1.5M455.8 146.0h3.5M460.8 146.0h9.5M471.8 146.0h2.5M478.8 146.0h1.5M484.8 146.0h1.5M489.8 146.0h2.5M496.8 146.0h1.5M500.8 146.0h1.5M503.8 146.0h1.5M506.8 146.0h1.5M508.8 146.0h3.5M515.8 146.0h1.5M519.8 146.0h1.5M521.8 146.0h3.5M528.8 146.0h1.5M535.8 146.0h1.5M537.8 146.0h2.5M541.8 146.0h1.5M544.8 146.0h1.5M552.8 146.0h1.5M554.8 146.0h1.5M556.8 146.0h2.5M562.8 146.0h2.5M572.8 146.0h1.5M588.8 146.0h2.5M599.8 146.0h1.5M608.8 146.0h1.5M612.8 146.0h1.5M614.8 146.0h1.5M619.8 146.0h3.5M634.8 146.0h1.5M636.8 146.0h1.5M644.8 146.0h1.5" stroke="#9a9a9a" stroke-width="2.5" fill="none"/>
<path d="M400.8 143.1h32.5M434.8 143.1h1.5M436.8 143.1h1.5M438.8 143.1h1.5M441.8 143.1h2.5M444.8 143.1h3.5M448.8 143.1h1.5M450.8 143.1h2.5M453.8 143.1h2.5M457.8 143.1h2.5M463.8 143.1h2.5M466.8 143.1h2.5M469.8 143.1h1.5M471.8 143.1h2.5M476.8 143.1h1.5M480.8 143.1h1.5M488.8 143.1h2.5M492.8 143.1h1.5M495.8 143.1h1.5M497.8 143.1h1.5M502.8 143.1h1.5M505.8 143.1h1.5M507.8 143.1h1.5M509.8 143.1h1.5M514.8 143.1h1.5M517.8 143.1h2.5M520.8 143.1h2.5M533.8 143.1h1.5M542.8 143.1h1.5M544.8 143.1h1.5M547.8 143.1h1.5M550.8 143.1h2.5M558.8 143.1h1.5M564.8 143.1h1.5M566.8 143.1h1.5M578.8 143.1h1.5M583.8 143.1h1.5M585.8 143.1h1.5M597.8 143.1h1.5M602.8 143.1h1.5M611.8 143.1h1.5M616.8 143.1h1.5M620.8 143.1h1.5M627.8 143.1h2.5M632.8 143.1h1.5M643.8 143.1h1.5M645.8 143.1h1.5M400.8 140.3h20.5M421.8 140.3h1.5M423.8 140.3h1.5M426.8 140.3h1.5M428.8 140.3h3.5M433.8 140.3h2.5M438.8 140.3h1.5M443.8 140.3h2.5M446.8 140.3h1.5M453.8 140.3h2.5M456.8 140.3h1.5M462.8 140.3h1.5M468.8 140.3h1.5M470.8 140.3h1.5M478.8 140.3h1.5M481.8 140.3h1.5M485.8 140.3h1.5M488.8 140.3h1.5M491.8 140.3h1.5M501.8 140.3h1.5M509.8 140.3h1.5M511.8 140.3h2.5M515.8 140.3h2.5M522.8 140.3h1.5M529.8 140.3h1.5M532.8 140.3h1.5M537.8 140.3h1.5M552.8 140.3h1.5M561.8 140.3h1.5M565.8 140.3h1.5M577.8 140.3h1.5M606.8 140.3h1.5M611.8 140.3h1.5M613.8 140.3h1.5M620.8 140.3h2.5M625.8 140.3h1.5M629.8 140.3h1.5M633.8 140.3h1.5M641.8 140.3h1.5" stroke="#9a9a9a" stroke-width="2.6" fill="none"/>
<path d="M401.8 177.4h81.5M483.8 177.4h35.5M519.8 177.4h34.5M554.8 177.4h23.5M578.8 177.4h19.5M598.8 177.4h1.5M600.8 177.4h18.5M619.8 177.4h14.5M634.8 177.4h14.5M402.8 180.3h1.5M404.8 180.3h20.5M425.8 180.3h1.5M427.8 180.3h11.5M440.8 180.3h6.5M447.8 180.3h2.5M450.8 180.3h10.5M461.8 180.3h3.5M466.8 180.3h7.5M474.8 180.3h8.5M483.8 180.3h6.5M490.8 180.3h4.5M496.8 180.3h1.5M498.8 180.3h7.5M506.8 180.3h6.5M513.8 180.3h1.5M516.8 180.3h12.5M529.8 180.3h1.5M531.8 180.3h2.5M534.8 180.3h4.5M539.8 180.3h7.5M547.8 180.3h4.5M552.8 180.3h11.5M564.8 180.3h3.5M568.8 180.3h11.5M580.8 180.3h3.5M584.8 180.3h15.5M600.8 180.3h3.5M604.8 180.3h4.5M609.8 180.3h18.5M628.8 180.3h20.5" stroke="#9a9a9a" stroke-width="1.7" fill="none"/>
<path d="M401.8 168.9h13.5M415.8 168.9h24.5M440.8 168.9h56.5M497.8 168.9h56.5M554.8 168.9h49.5M604.8 168.9h12.5M617.8 168.9h8.5M626.8 168.9h3.5M630.8 168.9h18.5M401.8 166.0h24.5M426.8 166.0h74.5M501.8 166.0h16.5M518.8 166.0h2.5M521.8 166.0h2.5M524.8 166.0h2.5M527.8 166.0h8.5M536.8 166.0h70.5M607.8 166.0h41.5" stroke="#9a9a9a" stroke-width="2.0" fill="none"/>
<path d="M401.8 154.6h20.5M422.8 154.6h8.5M431.8 154.6h1.5M433.8 154.6h26.5M460.8 154.6h9.5M470.8 154.6h14.5M485.8 154.6h1.5M487.8 154.6h2.5M490.8 154.6h6.5M497.8 154.6h2.5M501.8 154.6h2.5M504.8 154.6h5.5M511.8 154.6h6.5M518.8 154.6h6.5M526.8 154.6h1.5M529.8 154.6h3.5M533.8 154.6h4.5M539.8 154.6h2.5M543.8 154.6h2.5M546.8 154.6h4.5M551.8 154.6h1.5M553.8 154.6h2.5M557.8 154.6h4.5M562.8 154.6h2.5M565.8 154.6h3.5M569.8 154.6h2.5M573.8 154.6h1.5M575.8 154.6h1.5M578.8 154.6h3.5M584.8 154.6h1.5M586.8 154.6h6.5M595.8 154.6h2.5M600.8 154.6h3.5M605.8 154.6h1.5M607.8 154.6h2.5M610.8 154.6h5.5M616.8 154.6h1.5M620.8 154.6h2.5M624.8 154.6h1.5M626.8 154.6h1.5M628.8 154.6h3.5M632.8 154.6h4.5M637.8 154.6h1.5M639.8 154.6h2.5M642.8 154.6h2.5M646.8 154.6h1.5" stroke="#9a9a9a" stroke-width="2.3" fill="none"/>
<path d="M398.5 137.4h0M401.5 137.4h0M401.5 134.5h0M401.5 131.7h0M401.5 128.8h0M401.5 126.0h0M401.5 123.1h0M401.5 120.2h0M401.5 117.4h0M401.5 114.5h0M401.5 111.7h0M401.5 108.8h0M401.5 105.9h0M401.5 103.1h0M401.5 100.2h0M401.5 97.4h0M402.5 137.4h0M402.5 134.5h0M402.5 131.7h0M402.5 126.0h0M402.5 123.1h0M402.5 120.2h0M402.5 117.4h0M402.5 114.5h0M402.5 111.7h0M402.5 108.8h0M402.5 105.9h0M402.5 103.1h0M402.5 100.2h0M402.5 97.4h0M403.5 137.4h0M403.5 134.5h0M403.5 131.7h0M403.5 128.8h0M403.5 126.0h0M403.5 123.1h0M403.5 120.2h0M403.5 117.4h0M403.5 114.5h0M403.5 111.7h0M403.5 105.9h0M404.5 137.4h0M404.5 134.5h0M404.5 131.7h0M404.5 128.8h0M404.5 126.0h0M404.5 123.1h0M404.5 111.7h0M405.5 137.4h0M405.5 134.5h0M405.5 131.7h0M405.5 128.8h0M405.5 126.0h0M405.5 120.2h0M405.5 111.7h0M405.5 100.2h0M406.5 137.4h0M406.5 134.5h0M406.5 131.7h0M406.5 126.0h0M406.5 123.1h0M406.5 117.4h0M406.5 100.2h0M407.5 137.4h0M407.5 134.5h0M407.5 131.7h0M407.5 128.8h0M407.5 126.0h0M407.5 123.1h0M407.5 117.4h0M408.5 134.5h0M408.5 123.1h0M408.5 114.5h0M409.5 137.4h0M409.5 134.5h0M409.5 131.7h0M409.5 128.8h0M409.5 126.0h0M409.5 108.8h0M410.5 137.4h0M410.5 134.5h0M410.5 131.7h0M410.5 126.0h0M411.5 137.4h0M411.5 134.5h0M411.5 128.8h0M412.5 137.4h0M412.5 134.5h0M412.5 123.1h0M412.5 120.2h0M412.5 108.8h0M413.5 123.1h0M414.5 137.4h0M414.5 131.7h0M414.5 126.0h0M415.5 137.4h0M415.5 126.0h0M415.5 120.2h0M415.5 108.8h0M416.5 137.4h0M416.5 134.5h0M416.5 131.7h0M416.5 126.0h0M417.5 137.4h0M417.5 126.0h0M417.5 123.1h0M418.5 137.4h0M418.5 128.8h0M419.5 137.4h0M419.5 134.5h0M419.5 128.8h0M420.5 126.0h0M421.5 137.4h0M421.5 117.4h0M422.5 131.7h0M423.5 134.5h0M424.5 137.4h0M424.5 134.5h0M424.5 131.7h0M424.5 123.1h0M425.5 128.8h0M426.5 131.7h0M427.5 137.4h0M428.5 137.4h0M428.5 134.5h0M428.5 126.0h0M429.5 137.4h0M429.5 134.5h0M430.5 128.8h0M431.5 137.4h0M431.5 111.7h0M433.5 128.8h0M434.5 134.5h0M434.5 131.7h0M434.5 123.1h0M435.5 137.4h0M435.5 134.5h0M435.5 123.1h0M435.5 117.4h0M437.5 131.7h0M438.5 131.7h0M440.5 137.4h0M440.5 131.7h0M440.5 128.8h0M441.5 137.4h0M441.5 134.5h0M441.5 117.4h0M442.5 137.4h0M442.5 131.7h0M443.5 137.4h0M444.5 134.5h0M446.5 134.5h0M446.5 120.2h0M447.5 137.4h0M449.5 134.5h0M449.5 123.1h0M451.5 137.4h0M454.5 137.4h0M454.5 134.5h0M455.5 131.7h0M456.5 137.4h0M457.5 126.0h0M458.5 137.4h0M458.5 134.5h0M458.5 131.7h0M459.5 134.5h0M460.5 134.5h0M462.5 137.4h0M463.5 123.1h0M464.5 137.4h0M466.5 128.8h0M467.5 111.7h0M468.5 131.7h0M468.5 126.0h0M469.5 137.4h0M471.5 131.7h0M473.5 137.4h0M473.5 131.7h0M474.5 137.4h0M475.5 131.7h0M476.5 100.2h0M477.5 137.4h0M477.5 128.8h0M478.5 134.5h0M479.5 134.5h0M480.5 131.7h0M480.5 123.1h0M481.5 134.5h0M482.5 137.4h0M485.5 111.7h0M489.5 128.8h0M492.5 126.0h0M493.5 137.4h0M493.5 131.7h0M493.5 126.0h0M500.5 123.1h0M501.5 131.7h0M502.5 126.0h0M506.5 131.7h0M508.5 131.7h0M510.5 131.7h0M512.5 120.2h0M514.5 137.4h0M515.5 123.1h0M517.5 137.4h0M518.5 137.4h0M520.5 134.5h0M520.5 128.8h0M521.5 137.4h0M522.5 126.0h0M527.5 134.5h0M531.5 131.7h0M535.5 137.4h0M536.5 120.2h0M539.5 126.0h0M541.5 134.5h0M543.5 137.4h0M544.5 105.9h0M550.5 131.7h0M551.5 137.4h0M553.5 137.4h0M555.5 131.7h0M555.5 117.4h0M556.5 131.7h0M562.5 131.7h0M564.5 137.4h0M570.5 137.4h0M574.5 131.7h0M575.5 137.4h0M580.5 123.1h0M583.5 137.4h0M586.5 134.5h0M587.5 126.0h0M589.5 126.0h0M598.5 126.0h0M599.5 131.7h0M608.5 131.7h0M623.5 131.7h0M624.5 131.7h0M624.5 128.8h0M627.5 134.5h0M628.5 137.4h0M628.5 123.1h0M629.5 137.4h0M629.5 134.5h0M635.5 137.4h0M637.5 134.5h0M643.5 137.4h0M643.5 128.8h0M645.5 134.5h0M442.2 94.9h0M463.0 96.7h0M477.1 103.6h0M491.0 109.3h0M499.5 103.6h0M505.0 112.1h0M512.5 112.1h0M518.9 100.8h0M524.6 100.8h0M518.2 114.9h0M516.8 117.8h0M545.8 114.9h0M555.7 100.8h0M555.7 120.6h0M566.6 101.1h0M616.6 106.4h0M633.6 109.3h0M613.0 112.1h0M611.6 114.9h0M616.6 118.0h0M568.5 117.8h0M583.0 117.8h0M402.5 88.0h0M406.0 95.0h0M403.0 100.0h0M407.0 104.0h0M405.0 110.0h0M403.3 89.1h0M408.8 91.6h0M410.3 94.1h0M405.3 96.7h0M408.3 100.4h0M414.6 108.0h0M417.1 106.7h0M410.8 110.5h0M407.0 114.2h0M415.8 118.0h0M403.3 118.0h0M412.0 123.0h0M418.3 124.3h0M409.0 117.0h0M411.0 104.0h0M402.0 112.0h0M406.0 123.0h0M413.0 113.0h0" stroke="#9c9c9c" stroke-width="3.0" stroke-linecap="round" fill="none"/>
<path d="M401.5 9.5h0M408.3 26.4h0" stroke="#9c9c9c" stroke-width="5.0" stroke-linecap="round" fill="none"/>
<path d="M401.5 40.7h0M401.5 52.2h0M502.9 54.7h0M479.8 60.8h0M479.8 69.0h0M484.9 74.8h0M431.4 77.8h0M466.8 86.6h0M516.5 52.1h0M403.8 72.8h0M404.5 80.0h0M408.8 72.8h0M403.3 80.3h0M408.8 80.3h0M401.2 84.1h0M408.8 85.4h0" stroke="#9c9c9c" stroke-width="4.0" stroke-linecap="round" fill="none"/>
<path d="M387.9 458.5h1.2M465.9 458.5h1.2M477.9 458.5h1.2M490.9 458.5h1.2M493.9 458.5h1.2M535.9 458.5h1.2M585.9 458.5h1.2M618.9 458.5h1.2M625.9 458.5h1.2M627.9 458.5h1.2M629.9 458.5h1.2M389.9 463.5h1.2M425.9 463.5h1.2M430.9 463.5h1.2M489.9 463.5h1.2M493.9 463.5h1.2M505.9 463.5h1.2M543.9 463.5h1.2M548.9 463.5h1.2M550.9 463.5h1.2M559.9 463.5h1.2M568.9 463.5h1.2M572.9 463.5h1.2M574.9 463.5h1.2M582.9 463.5h1.2M585.9 463.5h1.2M591.9 463.5h1.2M593.9 463.5h1.2M599.9 463.5h1.2M614.9 463.5h1.2M641.9 463.5h1.2M643.9 463.5h1.2M390.9 446.0h1.2M396.9 446.0h1.2M400.9 446.0h1.2M407.9 446.0h1.2M457.9 446.0h1.2M468.9 446.0h1.2M474.9 446.0h1.2M476.9 446.0h1.2M480.9 446.0h1.2M495.9 446.0h1.2M531.9 446.0h1.2M533.9 446.0h1.2M541.9 446.0h1.2M552.9 446.0h1.2M558.9 446.0h1.2M568.9 446.0h1.2M599.9 446.0h1.2M610.9 446.0h1.2M634.9 446.0h1.2M639.9 446.0h1.2M641.9 446.0h1.2M393.9 451.0h1.2M398.9 451.0h1.2M402.9 451.0h1.2M412.9 451.0h1.2M468.9 451.0h1.2M470.9 451.0h1.2M498.9 451.0h1.2M503.9 451.0h1.2M516.9 451.0h1.2M528.9 451.0h1.2M575.9 451.0h1.2M588.9 451.0h1.2M596.9 451.0h1.2M604.9 451.0h1.2M608.9 451.0h1.2M613.9 451.0h2.2M619.9 451.0h1.2M625.9 451.0h1.2M629.9 451.0h1.2M641.9 451.0h1.2M645.9 451.0h1.2M394.9 441.0h1.2M399.9 441.0h3.2M405.9 441.0h3.2M409.9 441.0h1.2M411.9 441.0h3.2M417.9 441.0h5.2M423.9 441.0h1.2M427.9 441.0h1.2M429.9 441.0h3.2M433.9 441.0h1.2M435.9 441.0h1.2M438.9 441.0h2.2M441.9 441.0h1.2M443.9 441.0h2.2M448.9 441.0h1.2M452.9 441.0h1.2M454.9 441.0h3.2M458.9 441.0h4.2M463.9 441.0h3.2M468.9 441.0h1.2M470.9 441.0h1.2M472.9 441.0h6.2M481.9 441.0h3.2M485.9 441.0h3.2M489.9 441.0h5.2M501.9 441.0h1.2M503.9 441.0h2.2M506.9 441.0h1.2M508.9 441.0h2.2M511.9 441.0h1.2M513.9 441.0h7.2M521.9 441.0h3.2M525.9 441.0h1.2M527.9 441.0h3.2M533.9 441.0h1.2M535.9 441.0h1.2M537.9 441.0h1.2M539.9 441.0h2.2M543.9 441.0h12.2M556.9 441.0h3.2M561.9 441.0h1.2M565.9 441.0h1.2M567.9 441.0h1.2M571.9 441.0h3.2M575.9 441.0h5.2M581.9 441.0h1.2M584.9 441.0h1.2M586.9 441.0h7.2M597.9 441.0h1.2M599.9 441.0h1.2M601.9 441.0h7.2M609.9 441.0h1.2M611.9 441.0h3.2M615.9 441.0h1.2M618.9 441.0h2.2M622.9 441.0h1.2M624.9 441.0h1.2M626.9 441.0h6.2M633.9 441.0h2.2M637.9 441.0h3.2M641.9 441.0h1.2M643.9 441.0h4.2M648.9 441.0h1.2M398.9 448.5h1.2M403.9 448.5h1.2M435.9 448.5h1.2M449.9 448.5h1.2M463.9 448.5h1.2M469.9 448.5h1.2M476.9 448.5h1.2M483.9 448.5h1.2M490.9 448.5h1.2M504.9 448.5h1.2M523.9 448.5h1.2M534.9 448.5h1.2M542.9 448.5h1.2M557.9 448.5h1.2M569.9 448.5h1.2M641.9 448.5h1.2M647.9 448.5h1.2M399.9 456.0h1.2M429.9 456.0h1.2M456.9 456.0h1.2M462.9 456.0h1.2M475.9 456.0h1.2M477.9 456.0h1.2M490.9 456.0h1.2M492.9 456.0h1.2M507.9 456.0h1.2M519.9 456.0h1.2M525.9 456.0h1.2M530.9 456.0h1.2M565.9 456.0h1.2M588.9 456.0h1.2M614.9 456.0h1.2M617.9 456.0h1.2M640.9 456.0h1.2M401.9 461.0h1.2M470.9 461.0h1.2M479.9 461.0h1.2M531.9 461.0h1.2M534.9 461.0h1.2M542.9 461.0h2.2M606.9 461.0h1.2M617.9 461.0h1.2M624.9 461.0h1.2M638.9 461.0h1.2M405.9 453.5h1.2M462.9 453.5h1.2M485.9 453.5h1.2M512.9 453.5h1.2M524.9 453.5h1.2M565.9 453.5h1.2M568.9 453.5h1.2M584.9 453.5h1.2M593.9 453.5h1.2M598.9 453.5h1.2M624.9 453.5h1.2M648.9 453.5h1.2M406.9 443.5h1.2M410.9 443.5h1.2M415.9 443.5h3.2M421.9 443.5h2.2M425.9 443.5h1.2M440.9 443.5h1.2M446.9 443.5h1.2M451.9 443.5h1.2M454.9 443.5h1.2M470.9 443.5h2.2M473.9 443.5h3.2M481.9 443.5h1.2M489.9 443.5h1.2M493.9 443.5h1.2M499.9 443.5h2.2M504.9 443.5h1.2M507.9 443.5h1.2M512.9 443.5h1.2M519.9 443.5h1.2M521.9 443.5h2.2M528.9 443.5h2.2M533.9 443.5h2.2M537.9 443.5h1.2M543.9 443.5h1.2M546.9 443.5h1.2M549.9 443.5h1.2M556.9 443.5h1.2M562.9 443.5h1.2M567.9 443.5h2.2M573.9 443.5h1.2M575.9 443.5h1.2M578.9 443.5h1.2M582.9 443.5h1.2M585.9 443.5h2.2M591.9 443.5h1.2M593.9 443.5h1.2M596.9 443.5h2.2M600.9 443.5h1.2M610.9 443.5h1.2M626.9 443.5h1.2M631.9 443.5h1.2M636.9 443.5h1.2M640.9 443.5h3.2M648.9 443.5h1.2M458.9 466.0h1.2M478.9 466.0h2.2M557.9 466.0h1.2M575.9 466.0h1.2M587.9 466.0h1.2M604.9 466.0h1.2M609.9 466.0h1.2M619.9 466.0h1.2M622.9 466.0h1.2M648.9 466.0h1.2M480.9 471.0h1.2M489.9 471.0h1.2M523.9 471.0h1.2M551.9 471.0h1.2M615.9 471.0h1.2M502.9 468.5h2.2M620.9 468.5h1.2M623.9 468.5h1.2" stroke="#a4a4a4" stroke-width="1.3" fill="none"/>
<path d="M387.9 433.5h1.2M392.9 433.5h1.2M397.9 433.5h2.2M400.9 433.5h3.2M404.9 433.5h5.2M410.9 433.5h2.2M413.9 433.5h3.2M417.9 433.5h15.2M434.9 433.5h1.2M436.9 433.5h2.2M439.9 433.5h6.2M446.9 433.5h16.2M463.9 433.5h12.2M476.9 433.5h1.2M478.9 433.5h5.2M484.9 433.5h5.2M491.9 433.5h1.2M493.9 433.5h4.2M499.9 433.5h6.2M506.9 433.5h19.2M526.9 433.5h7.2M534.9 433.5h4.2M539.9 433.5h1.2M541.9 433.5h1.2M543.9 433.5h2.2M546.9 433.5h5.2M552.9 433.5h4.2M558.9 433.5h4.2M563.9 433.5h3.2M568.9 433.5h9.2M579.9 433.5h2.2M582.9 433.5h2.2M585.9 433.5h5.2M591.9 433.5h6.2M598.9 433.5h6.2M605.9 433.5h16.2M623.9 433.5h11.2M635.9 433.5h5.2M641.9 433.5h8.2M397.9 431.0h1.2M400.9 431.0h3.2M404.9 431.0h1.2M406.9 431.0h2.2M409.9 431.0h13.2M423.9 431.0h9.2M433.9 431.0h1.2M436.9 431.0h4.2M441.9 431.0h6.2M449.9 431.0h4.2M454.9 431.0h3.2M458.9 431.0h4.2M463.9 431.0h3.2M467.9 431.0h4.2M472.9 431.0h4.2M477.9 431.0h5.2M484.9 431.0h4.2M489.9 431.0h1.2M491.9 431.0h10.2M502.9 431.0h1.2M504.9 431.0h2.2M507.9 431.0h4.2M512.9 431.0h2.2M515.9 431.0h13.2M530.9 431.0h5.2M536.9 431.0h3.2M541.9 431.0h1.2M543.9 431.0h2.2M546.9 431.0h21.2M569.9 431.0h5.2M575.9 431.0h5.2M582.9 431.0h8.2M591.9 431.0h1.2M593.9 431.0h2.2M596.9 431.0h2.2M600.9 431.0h1.2M602.9 431.0h4.2M607.9 431.0h6.2M614.9 431.0h1.2M616.9 431.0h1.2M619.9 431.0h20.2M640.9 431.0h6.2M648.9 431.0h1.2M399.9 438.5h1.2M401.9 438.5h4.2M407.9 438.5h5.2M413.9 438.5h1.2M415.9 438.5h2.2M418.9 438.5h2.2M422.9 438.5h2.2M425.9 438.5h3.2M429.9 438.5h1.2M431.9 438.5h1.2M434.9 438.5h4.2M440.9 438.5h2.2M443.9 438.5h1.2M445.9 438.5h4.2M452.9 438.5h10.2M465.9 438.5h1.2M467.9 438.5h2.2M470.9 438.5h12.2M483.9 438.5h12.2M497.9 438.5h7.2M505.9 438.5h1.2M508.9 438.5h9.2M518.9 438.5h2.2M522.9 438.5h3.2M526.9 438.5h5.2M533.9 438.5h1.2M535.9 438.5h1.2M537.9 438.5h2.2M540.9 438.5h1.2M542.9 438.5h1.2M547.9 438.5h2.2M550.9 438.5h7.2M558.9 438.5h4.2M563.9 438.5h2.2M566.9 438.5h2.2M569.9 438.5h8.2M578.9 438.5h1.2M580.9 438.5h9.2M591.9 438.5h3.2M595.9 438.5h1.2M597.9 438.5h2.2M600.9 438.5h3.2M604.9 438.5h4.2M609.9 438.5h2.2M612.9 438.5h5.2M618.9 438.5h1.2M620.9 438.5h1.2M622.9 438.5h5.2M628.9 438.5h8.2M637.9 438.5h6.2M644.9 438.5h1.2M646.9 438.5h3.2M400.9 436.0h2.2M403.9 436.0h2.2M407.9 436.0h1.2M409.9 436.0h11.2M421.9 436.0h5.2M427.9 436.0h5.2M433.9 436.0h2.2M437.9 436.0h2.2M440.9 436.0h11.2M452.9 436.0h7.2M460.9 436.0h1.2M462.9 436.0h3.2M467.9 436.0h2.2M470.9 436.0h6.2M478.9 436.0h10.2M490.9 436.0h2.2M493.9 436.0h4.2M498.9 436.0h1.2M500.9 436.0h3.2M504.9 436.0h4.2M509.9 436.0h29.2M539.9 436.0h11.2M551.9 436.0h1.2M553.9 436.0h5.2M559.9 436.0h9.2M569.9 436.0h2.2M572.9 436.0h2.2M576.9 436.0h1.2M581.9 436.0h4.2M586.9 436.0h4.2M591.9 436.0h3.2M596.9 436.0h1.2M598.9 436.0h7.2M606.9 436.0h13.2M620.9 436.0h3.2M624.9 436.0h3.2M628.9 436.0h4.2M633.9 436.0h1.2M635.9 436.0h5.2M643.9 436.0h6.2" stroke="#a4a4a4" stroke-width="1.4" fill="none"/>
<path d="M387.9 408.5h1.2M396.9 408.5h1.2M398.9 408.5h1.2M400.9 408.5h5.2M406.9 408.5h1.2M408.9 408.5h2.2M411.9 408.5h1.2M413.9 408.5h2.2M416.9 408.5h6.2M425.9 408.5h7.2M433.9 408.5h13.2M447.9 408.5h7.2M455.9 408.5h1.2M457.9 408.5h1.2M459.9 408.5h3.2M463.9 408.5h1.2M468.9 408.5h4.2M473.9 408.5h1.2M475.9 408.5h1.2M477.9 408.5h2.2M480.9 408.5h1.2M484.9 408.5h2.2M487.9 408.5h1.2M491.9 408.5h1.2M495.9 408.5h1.2M499.9 408.5h1.2M501.9 408.5h1.2M503.9 408.5h1.2M506.9 408.5h3.2M511.9 408.5h2.2M516.9 408.5h1.2M518.9 408.5h1.2M523.9 408.5h1.2M526.9 408.5h1.2M528.9 408.5h1.2M536.9 408.5h2.2M539.9 408.5h2.2M542.9 408.5h1.2M544.9 408.5h3.2M548.9 408.5h2.2M552.9 408.5h3.2M558.9 408.5h1.2M560.9 408.5h1.2M562.9 408.5h1.2M564.9 408.5h1.2M568.9 408.5h1.2M575.9 408.5h1.2M577.9 408.5h1.2M579.9 408.5h1.2M581.9 408.5h1.2M584.9 408.5h1.2M586.9 408.5h3.2M595.9 408.5h1.2M600.9 408.5h4.2M606.9 408.5h1.2M608.9 408.5h1.2M610.9 408.5h1.2M615.9 408.5h1.2M618.9 408.5h1.2M628.9 408.5h2.2M633.9 408.5h1.2M635.9 408.5h1.2M644.9 408.5h1.2M396.9 411.0h1.2M398.9 411.0h18.2M417.9 411.0h3.2M421.9 411.0h1.2M423.9 411.0h6.2M430.9 411.0h1.2M432.9 411.0h4.2M437.9 411.0h5.2M443.9 411.0h7.2M451.9 411.0h5.2M457.9 411.0h3.2M461.9 411.0h3.2M465.9 411.0h4.2M470.9 411.0h6.2M477.9 411.0h1.2M480.9 411.0h1.2M485.9 411.0h1.2M488.9 411.0h3.2M492.9 411.0h5.2M498.9 411.0h4.2M503.9 411.0h6.2M512.9 411.0h1.2M515.9 411.0h3.2M521.9 411.0h3.2M530.9 411.0h2.2M533.9 411.0h2.2M536.9 411.0h3.2M541.9 411.0h1.2M544.9 411.0h1.2M547.9 411.0h1.2M549.9 411.0h9.2M559.9 411.0h3.2M568.9 411.0h1.2M572.9 411.0h8.2M581.9 411.0h1.2M583.9 411.0h2.2M586.9 411.0h1.2M591.9 411.0h4.2M597.9 411.0h1.2M599.9 411.0h1.2M601.9 411.0h2.2M604.9 411.0h1.2M608.9 411.0h1.2M612.9 411.0h2.2M616.9 411.0h1.2M618.9 411.0h5.2M624.9 411.0h1.2M629.9 411.0h2.2M632.9 411.0h2.2M636.9 411.0h2.2M639.9 411.0h1.2M641.9 411.0h1.2M644.9 411.0h1.2M647.9 411.0h2.2M397.9 413.5h1.2M399.9 413.5h14.2M414.9 413.5h4.2M419.9 413.5h5.2M426.9 413.5h9.2M436.9 413.5h3.2M440.9 413.5h3.2M444.9 413.5h7.2M452.9 413.5h1.2M454.9 413.5h3.2M458.9 413.5h1.2M460.9 413.5h2.2M463.9 413.5h2.2M467.9 413.5h3.2M472.9 413.5h3.2M476.9 413.5h3.2M480.9 413.5h6.2M488.9 413.5h11.2M501.9 413.5h7.2M509.9 413.5h1.2M511.9 413.5h5.2M519.9 413.5h7.2M527.9 413.5h6.2M534.9 413.5h2.2M537.9 413.5h5.2M543.9 413.5h1.2M545.9 413.5h3.2M549.9 413.5h3.2M553.9 413.5h4.2M560.9 413.5h1.2M562.9 413.5h10.2M574.9 413.5h1.2M576.9 413.5h1.2M578.9 413.5h2.2M581.9 413.5h2.2M584.9 413.5h1.2M586.9 413.5h6.2M594.9 413.5h2.2M597.9 413.5h1.2M599.9 413.5h1.2M601.9 413.5h3.2M606.9 413.5h2.2M609.9 413.5h6.2M616.9 413.5h1.2M618.9 413.5h2.2M621.9 413.5h5.2M629.9 413.5h1.2M632.9 413.5h8.2M641.9 413.5h1.2M643.9 413.5h3.2M647.9 413.5h2.2" stroke="#a4a4a4" stroke-width="1.7" fill="none"/>
<path d="M388.9 421.0h1.2M397.9 421.0h7.2M405.9 421.0h14.2M420.9 421.0h11.2M432.9 421.0h4.2M437.9 421.0h6.2M444.9 421.0h4.2M449.9 421.0h1.2M451.9 421.0h4.2M457.9 421.0h5.2M463.9 421.0h1.2M467.9 421.0h2.2M470.9 421.0h3.2M475.9 421.0h16.2M492.9 421.0h4.2M497.9 421.0h5.2M506.9 421.0h5.2M512.9 421.0h6.2M520.9 421.0h2.2M523.9 421.0h1.2M525.9 421.0h4.2M530.9 421.0h3.2M534.9 421.0h1.2M537.9 421.0h3.2M541.9 421.0h1.2M543.9 421.0h5.2M549.9 421.0h2.2M552.9 421.0h9.2M563.9 421.0h2.2M568.9 421.0h4.2M573.9 421.0h9.2M583.9 421.0h12.2M596.9 421.0h5.2M602.9 421.0h1.2M604.9 421.0h7.2M612.9 421.0h3.2M616.9 421.0h2.2M619.9 421.0h4.2M624.9 421.0h2.2M628.9 421.0h4.2M633.9 421.0h1.2M635.9 421.0h1.2M638.9 421.0h7.2M646.9 421.0h2.2M396.9 416.0h2.2M399.9 416.0h2.2M402.9 416.0h3.2M406.9 416.0h2.2M409.9 416.0h2.2M412.9 416.0h5.2M418.9 416.0h6.2M425.9 416.0h9.2M435.9 416.0h4.2M440.9 416.0h3.2M444.9 416.0h5.2M450.9 416.0h5.2M456.9 416.0h1.2M458.9 416.0h1.2M460.9 416.0h3.2M464.9 416.0h3.2M468.9 416.0h1.2M471.9 416.0h4.2M476.9 416.0h1.2M480.9 416.0h2.2M483.9 416.0h1.2M485.9 416.0h1.2M487.9 416.0h10.2M498.9 416.0h1.2M502.9 416.0h7.2M510.9 416.0h4.2M516.9 416.0h7.2M525.9 416.0h3.2M529.9 416.0h3.2M533.9 416.0h5.2M540.9 416.0h3.2M544.9 416.0h12.2M557.9 416.0h4.2M562.9 416.0h4.2M567.9 416.0h9.2M577.9 416.0h6.2M584.9 416.0h1.2M586.9 416.0h1.2M588.9 416.0h2.2M593.9 416.0h2.2M597.9 416.0h9.2M607.9 416.0h16.2M624.9 416.0h1.2M626.9 416.0h2.2M629.9 416.0h3.2M633.9 416.0h4.2M638.9 416.0h4.2M644.9 416.0h2.2M648.9 416.0h1.2M397.9 418.5h14.2M412.9 418.5h1.2M414.9 418.5h12.2M427.9 418.5h3.2M433.9 418.5h2.2M436.9 418.5h3.2M440.9 418.5h1.2M442.9 418.5h13.2M456.9 418.5h7.2M465.9 418.5h11.2M477.9 418.5h11.2M489.9 418.5h2.2M492.9 418.5h3.2M496.9 418.5h9.2M506.9 418.5h1.2M508.9 418.5h1.2M510.9 418.5h1.2M512.9 418.5h2.2M515.9 418.5h12.2M528.9 418.5h1.2M530.9 418.5h2.2M533.9 418.5h5.2M539.9 418.5h4.2M544.9 418.5h2.2M547.9 418.5h3.2M552.9 418.5h1.2M554.9 418.5h7.2M562.9 418.5h10.2M574.9 418.5h3.2M578.9 418.5h1.2M580.9 418.5h7.2M588.9 418.5h1.2M590.9 418.5h13.2M604.9 418.5h8.2M613.9 418.5h5.2M619.9 418.5h1.2M622.9 418.5h4.2M628.9 418.5h6.2M635.9 418.5h8.2M644.9 418.5h5.2" stroke="#a4a4a4" stroke-width="1.6" fill="none"/>
<path d="M392.9 428.5h1.2M397.9 428.5h4.2M402.9 428.5h4.2M408.9 428.5h6.2M415.9 428.5h13.2M429.9 428.5h7.2M437.9 428.5h8.2M446.9 428.5h2.2M451.9 428.5h2.2M454.9 428.5h2.2M457.9 428.5h6.2M465.9 428.5h1.2M468.9 428.5h2.2M471.9 428.5h5.2M477.9 428.5h6.2M485.9 428.5h2.2M488.9 428.5h1.2M490.9 428.5h7.2M498.9 428.5h8.2M507.9 428.5h12.2M520.9 428.5h4.2M525.9 428.5h2.2M528.9 428.5h2.2M531.9 428.5h3.2M537.9 428.5h1.2M539.9 428.5h3.2M543.9 428.5h7.2M551.9 428.5h9.2M561.9 428.5h5.2M567.9 428.5h1.2M569.9 428.5h3.2M573.9 428.5h13.2M587.9 428.5h2.2M590.9 428.5h12.2M605.9 428.5h19.2M625.9 428.5h8.2M634.9 428.5h2.2M637.9 428.5h4.2M642.9 428.5h7.2M397.9 426.0h1.2M399.9 426.0h1.2M401.9 426.0h14.2M418.9 426.0h4.2M424.9 426.0h7.2M432.9 426.0h9.2M442.9 426.0h5.2M450.9 426.0h4.2M455.9 426.0h5.2M461.9 426.0h11.2M474.9 426.0h4.2M479.9 426.0h2.2M483.9 426.0h3.2M487.9 426.0h7.2M495.9 426.0h6.2M502.9 426.0h7.2M510.9 426.0h1.2M512.9 426.0h6.2M520.9 426.0h10.2M531.9 426.0h4.2M536.9 426.0h2.2M539.9 426.0h5.2M546.9 426.0h1.2M548.9 426.0h9.2M558.9 426.0h5.2M564.9 426.0h2.2M567.9 426.0h6.2M574.9 426.0h15.2M590.9 426.0h11.2M602.9 426.0h1.2M604.9 426.0h2.2M607.9 426.0h4.2M614.9 426.0h1.2M617.9 426.0h1.2M619.9 426.0h3.2M625.9 426.0h2.2M628.9 426.0h2.2M631.9 426.0h1.2M633.9 426.0h8.2M642.9 426.0h3.2M648.9 426.0h1.2M397.9 423.5h2.2M400.9 423.5h11.2M413.9 423.5h5.2M419.9 423.5h8.2M429.9 423.5h4.2M434.9 423.5h2.2M437.9 423.5h5.2M443.9 423.5h2.2M446.9 423.5h3.2M450.9 423.5h1.2M452.9 423.5h7.2M460.9 423.5h2.2M464.9 423.5h1.2M466.9 423.5h6.2M473.9 423.5h3.2M478.9 423.5h3.2M482.9 423.5h8.2M492.9 423.5h5.2M498.9 423.5h5.2M504.9 423.5h7.2M513.9 423.5h7.2M522.9 423.5h4.2M527.9 423.5h22.2M550.9 423.5h2.2M553.9 423.5h7.2M561.9 423.5h3.2M565.9 423.5h1.2M567.9 423.5h13.2M582.9 423.5h10.2M593.9 423.5h2.2M598.9 423.5h10.2M609.9 423.5h5.2M615.9 423.5h2.2M618.9 423.5h5.2M624.9 423.5h2.2M627.9 423.5h2.2M632.9 423.5h5.2M638.9 423.5h1.2M640.9 423.5h2.2M643.9 423.5h6.2" stroke="#a4a4a4" stroke-width="1.5" fill="none"/>
<path d="M394.5 406.0h0M397.5 406.0h0M397.5 403.5h0M397.5 398.5h0M397.5 396.0h0M397.5 393.5h0M397.5 391.0h0M397.5 388.5h0M397.5 386.0h0M397.5 378.5h0M397.5 376.0h0M397.5 373.5h0M397.5 371.0h0M398.5 406.0h0M398.5 403.5h0M398.5 401.0h0M398.5 398.5h0M398.5 396.0h0M398.5 393.5h0M398.5 391.0h0M398.5 388.5h0M398.5 383.5h0M398.5 381.0h0M398.5 378.5h0M398.5 368.5h0M399.5 406.0h0M399.5 403.5h0M399.5 401.0h0M399.5 398.5h0M399.5 396.0h0M399.5 393.5h0M399.5 391.0h0M399.5 388.5h0M399.5 386.0h0M399.5 378.5h0M399.5 376.0h0M400.5 406.0h0M400.5 403.5h0M400.5 398.5h0M400.5 396.0h0M400.5 393.5h0M400.5 388.5h0M400.5 386.0h0M400.5 383.5h0M400.5 381.0h0M400.5 376.0h0M401.5 406.0h0M401.5 403.5h0M401.5 401.0h0M401.5 398.5h0M401.5 396.0h0M401.5 388.5h0M401.5 386.0h0M402.5 403.5h0M402.5 401.0h0M402.5 396.0h0M402.5 388.5h0M402.5 386.0h0M403.5 406.0h0M403.5 401.0h0M403.5 398.5h0M403.5 396.0h0M403.5 393.5h0M403.5 391.0h0M403.5 383.5h0M404.5 403.5h0M404.5 391.0h0M405.5 406.0h0M405.5 403.5h0M405.5 401.0h0M405.5 398.5h0M405.5 393.5h0M405.5 391.0h0M405.5 388.5h0M405.5 386.0h0M405.5 378.5h0M406.5 403.5h0M406.5 396.0h0M406.5 386.0h0M406.5 383.5h0M407.5 406.0h0M407.5 403.5h0M407.5 401.0h0M407.5 386.0h0M408.5 406.0h0M408.5 403.5h0M408.5 401.0h0M408.5 398.5h0M408.5 396.0h0M408.5 376.0h0M409.5 406.0h0M409.5 401.0h0M409.5 398.5h0M409.5 393.5h0M409.5 373.5h0M410.5 406.0h0M410.5 403.5h0M410.5 401.0h0M410.5 398.5h0M410.5 396.0h0M410.5 393.5h0M410.5 391.0h0M410.5 383.5h0M410.5 381.0h0M410.5 368.5h0M411.5 403.5h0M411.5 401.0h0M411.5 398.5h0M411.5 393.5h0M411.5 391.0h0M411.5 383.5h0M412.5 406.0h0M412.5 403.5h0M412.5 401.0h0M412.5 398.5h0M412.5 393.5h0M412.5 381.0h0M412.5 378.5h0M413.5 406.0h0M413.5 403.5h0M413.5 398.5h0M413.5 393.5h0M413.5 391.0h0M413.5 388.5h0M413.5 383.5h0M414.5 406.0h0M414.5 403.5h0M414.5 398.5h0M414.5 388.5h0M414.5 383.5h0M415.5 406.0h0M415.5 403.5h0M415.5 401.0h0M415.5 386.0h0M416.5 406.0h0M416.5 403.5h0M416.5 401.0h0M416.5 388.5h0M416.5 381.0h0M416.5 378.5h0M417.5 406.0h0M417.5 403.5h0M417.5 401.0h0M417.5 398.5h0M417.5 393.5h0M417.5 381.0h0M418.5 406.0h0M418.5 403.5h0M418.5 398.5h0M418.5 388.5h0M418.5 386.0h0M418.5 381.0h0M419.5 406.0h0M419.5 398.5h0M419.5 391.0h0M419.5 386.0h0M419.5 376.0h0M420.5 406.0h0M420.5 403.5h0M420.5 401.0h0M420.5 391.0h0M420.5 386.0h0M420.5 378.5h0M421.5 406.0h0M421.5 403.5h0M421.5 398.5h0M421.5 396.0h0M421.5 393.5h0M422.5 406.0h0M422.5 401.0h0M422.5 398.5h0M422.5 396.0h0M422.5 393.5h0M422.5 378.5h0M423.5 403.5h0M423.5 398.5h0M423.5 393.5h0M423.5 386.0h0M424.5 406.0h0M424.5 403.5h0M424.5 401.0h0M424.5 396.0h0M424.5 393.5h0M424.5 376.0h0M425.5 406.0h0M425.5 403.5h0M425.5 396.0h0M425.5 381.0h0M426.5 406.0h0M426.5 401.0h0M426.5 398.5h0M426.5 396.0h0M426.5 393.5h0M426.5 388.5h0M426.5 376.0h0M427.5 398.5h0M427.5 396.0h0M427.5 393.5h0M427.5 388.5h0M428.5 406.0h0M428.5 403.5h0M428.5 398.5h0M428.5 393.5h0M428.5 391.0h0M428.5 388.5h0M428.5 386.0h0M428.5 383.5h0M428.5 381.0h0M429.5 403.5h0M429.5 401.0h0M429.5 396.0h0M429.5 391.0h0M430.5 406.0h0M430.5 403.5h0M430.5 401.0h0M430.5 398.5h0M430.5 396.0h0M430.5 393.5h0M430.5 391.0h0M430.5 368.5h0M431.5 406.0h0M431.5 398.5h0M431.5 388.5h0M431.5 386.0h0M431.5 381.0h0M431.5 373.5h0M432.5 406.0h0M432.5 401.0h0M432.5 398.5h0M432.5 393.5h0M433.5 406.0h0M433.5 403.5h0M433.5 401.0h0M433.5 393.5h0M433.5 378.5h0M433.5 371.0h0M434.5 406.0h0M434.5 403.5h0M434.5 388.5h0M434.5 381.0h0M434.5 378.5h0M435.5 406.0h0M435.5 403.5h0M435.5 401.0h0M435.5 396.0h0M435.5 391.0h0M435.5 388.5h0M435.5 378.5h0M436.5 403.5h0M436.5 393.5h0M437.5 403.5h0M437.5 398.5h0M437.5 393.5h0M437.5 386.0h0M437.5 376.0h0M438.5 406.0h0M438.5 393.5h0M439.5 398.5h0M439.5 396.0h0M439.5 393.5h0M439.5 388.5h0M439.5 368.5h0M440.5 406.0h0M440.5 403.5h0M440.5 401.0h0M440.5 396.0h0M440.5 393.5h0M440.5 391.0h0M440.5 388.5h0M441.5 406.0h0M441.5 403.5h0M441.5 396.0h0M441.5 376.0h0M442.5 406.0h0M442.5 393.5h0M443.5 403.5h0M443.5 401.0h0M443.5 398.5h0M443.5 396.0h0M443.5 393.5h0M443.5 391.0h0M443.5 386.0h0M444.5 406.0h0M444.5 403.5h0M444.5 401.0h0M444.5 393.5h0M445.5 406.0h0M445.5 403.5h0M445.5 386.0h0M446.5 406.0h0M446.5 403.5h0M446.5 401.0h0M446.5 393.5h0M446.5 386.0h0M447.5 406.0h0M447.5 403.5h0M447.5 398.5h0M447.5 396.0h0M447.5 391.0h0M447.5 378.5h0M448.5 406.0h0M448.5 396.0h0M448.5 391.0h0M449.5 398.5h0M449.5 396.0h0M450.5 406.0h0M450.5 401.0h0M450.5 398.5h0M450.5 381.0h0M451.5 406.0h0M451.5 391.0h0M452.5 403.5h0M452.5 401.0h0M452.5 396.0h0M453.5 398.5h0M453.5 396.0h0M453.5 391.0h0M453.5 386.0h0M454.5 403.5h0M454.5 396.0h0M454.5 393.5h0M454.5 383.5h0M455.5 406.0h0M455.5 398.5h0M455.5 393.5h0M456.5 406.0h0M456.5 401.0h0M456.5 398.5h0M456.5 383.5h0M456.5 368.5h0M457.5 398.5h0M457.5 393.5h0M458.5 406.0h0M458.5 398.5h0M459.5 406.0h0M459.5 403.5h0M459.5 401.0h0M459.5 391.0h0M460.5 403.5h0M461.5 406.0h0M461.5 398.5h0M461.5 396.0h0M461.5 393.5h0M461.5 388.5h0M462.5 406.0h0M462.5 403.5h0M462.5 391.0h0M462.5 383.5h0M463.5 406.0h0M463.5 393.5h0M464.5 403.5h0M464.5 401.0h0M464.5 393.5h0M464.5 386.0h0M465.5 406.0h0M465.5 401.0h0M465.5 398.5h0M465.5 386.0h0M466.5 401.0h0M467.5 406.0h0M467.5 401.0h0M467.5 398.5h0M467.5 391.0h0M468.5 396.0h0M468.5 391.0h0M469.5 401.0h0M469.5 393.5h0M470.5 398.5h0M470.5 393.5h0M470.5 386.0h0M471.5 401.0h0M471.5 391.0h0M472.5 403.5h0M472.5 401.0h0M472.5 398.5h0M472.5 396.0h0M473.5 403.5h0M473.5 396.0h0M474.5 406.0h0M475.5 403.5h0M477.5 406.0h0M478.5 396.0h0M479.5 401.0h0M479.5 396.0h0M480.5 403.5h0M481.5 406.0h0M482.5 398.5h0M484.5 403.5h0M484.5 401.0h0M484.5 393.5h0M487.5 406.0h0M487.5 403.5h0M488.5 403.5h0M488.5 401.0h0M489.5 398.5h0M489.5 396.0h0M490.5 398.5h0M491.5 396.0h0M493.5 406.0h0M493.5 403.5h0M493.5 401.0h0M493.5 393.5h0M494.5 401.0h0M494.5 398.5h0M495.5 396.0h0M495.5 393.5h0M496.5 406.0h0M497.5 406.0h0M497.5 398.5h0M500.5 406.0h0M500.5 396.0h0M501.5 401.0h0M501.5 393.5h0M501.5 391.0h0M502.5 406.0h0M502.5 401.0h0M503.5 396.0h0M504.5 406.0h0M505.5 388.5h0M506.5 396.0h0M507.5 401.0h0M507.5 383.5h0M512.5 406.0h0M513.5 401.0h0M513.5 398.5h0M516.5 401.0h0M516.5 393.5h0M520.5 406.0h0M520.5 401.0h0M520.5 396.0h0M521.5 403.5h0M521.5 386.0h0M522.5 403.5h0M522.5 401.0h0M522.5 396.0h0M523.5 403.5h0M523.5 398.5h0M523.5 396.0h0M523.5 391.0h0M524.5 401.0h0M524.5 398.5h0M525.5 368.5h0M526.5 406.0h0M526.5 401.0h0M526.5 398.5h0M527.5 401.0h0M527.5 373.5h0M528.5 406.0h0M528.5 388.5h0M528.5 378.5h0M529.5 406.0h0M529.5 403.5h0M529.5 393.5h0M531.5 398.5h0M532.5 391.0h0M533.5 406.0h0M535.5 406.0h0M535.5 396.0h0M536.5 406.0h0M536.5 403.5h0M536.5 396.0h0M536.5 378.5h0M538.5 406.0h0M538.5 396.0h0M539.5 401.0h0M540.5 388.5h0M541.5 406.0h0M542.5 406.0h0M542.5 403.5h0M542.5 401.0h0M543.5 406.0h0M543.5 403.5h0M544.5 401.0h0M544.5 371.0h0M545.5 406.0h0M546.5 396.0h0M547.5 393.5h0M548.5 406.0h0M548.5 403.5h0M549.5 401.0h0M550.5 398.5h0M551.5 406.0h0M551.5 398.5h0M551.5 393.5h0M552.5 398.5h0M554.5 398.5h0M554.5 391.0h0M555.5 391.0h0M556.5 406.0h0M556.5 403.5h0M556.5 368.5h0M557.5 406.0h0M559.5 406.0h0M559.5 401.0h0M561.5 403.5h0M564.5 401.0h0M565.5 406.0h0M565.5 396.0h0M565.5 383.5h0M566.5 396.0h0M566.5 371.0h0M567.5 398.5h0M567.5 391.0h0M568.5 401.0h0M569.5 376.0h0M570.5 406.0h0M571.5 398.5h0M572.5 403.5h0M572.5 398.5h0M572.5 376.0h0M573.5 396.0h0M574.5 391.0h0M575.5 376.0h0M579.5 406.0h0M579.5 403.5h0M579.5 396.0h0M581.5 401.0h0M583.5 403.5h0M583.5 401.0h0M586.5 403.5h0M586.5 401.0h0M586.5 398.5h0M589.5 406.0h0M589.5 388.5h0M591.5 406.0h0M591.5 398.5h0M592.5 406.0h0M592.5 403.5h0M592.5 396.0h0M592.5 393.5h0M592.5 376.0h0M593.5 406.0h0M593.5 373.5h0M594.5 406.0h0M594.5 401.0h0M594.5 388.5h0M600.5 386.0h0M602.5 406.0h0M603.5 401.0h0M603.5 391.0h0M604.5 406.0h0M606.5 406.0h0M606.5 398.5h0M607.5 376.0h0M609.5 393.5h0M610.5 393.5h0M611.5 406.0h0M613.5 406.0h0M613.5 398.5h0M614.5 406.0h0M615.5 403.5h0M615.5 393.5h0M616.5 398.5h0M616.5 393.5h0M617.5 371.0h0M618.5 406.0h0M618.5 383.5h0M619.5 406.0h0M619.5 403.5h0M619.5 393.5h0M620.5 398.5h0M621.5 406.0h0M621.5 388.5h0M622.5 403.5h0M622.5 393.5h0M623.5 376.0h0M624.5 406.0h0M624.5 396.0h0M625.5 403.5h0M625.5 401.0h0M626.5 396.0h0M627.5 406.0h0M629.5 406.0h0M629.5 398.5h0M629.5 396.0h0M629.5 371.0h0M630.5 401.0h0M631.5 383.5h0M632.5 401.0h0M633.5 406.0h0M633.5 401.0h0M634.5 403.5h0M634.5 398.5h0M636.5 403.5h0M637.5 403.5h0M638.5 406.0h0M639.5 403.5h0M639.5 393.5h0M643.5 406.0h0M644.5 406.0h0M646.5 388.5h0M647.5 403.5h0M649.5 406.0h0M649.5 398.5h0M503.6 373.3h0M534.8 373.3h0M570.1 371.0h0M614.8 371.0h0M630.1 371.0h0M600.2 383.7h0" stroke="#9e9e9e" stroke-width="3.0" stroke-linecap="round" fill="none"/>
<path d="M397.5 366.0h0M397.5 363.5h0M403.5 366.0h0M407.5 366.0h0M430.5 366.0h0M442.5 363.5h0M397.3 317.9h0M397.3 328.5h0M507.2 336.1h0M507.2 343.4h0M514.5 348.6h0M540.0 330.7h0M558.1 328.6h0M488.9 358.4h0M484.3 366.1h0M483.3 368.1h0M454.6 366.1h0M439.1 350.6h0M454.3 365.8h0" stroke="#9e9e9e" stroke-width="4.0" stroke-linecap="round" fill="none"/>
<path d="M397.3 290.1h0M406.4 305.6h0" stroke="#9e9e9e" stroke-width="5.0" stroke-linecap="round" fill="none"/>
<path d="M35.30 119.30C35.42 119.67 35.55 120.83 36.00 121.50C36.45 122.17 37.00 122.72 38.00 123.30C39.00 123.88 40.33 124.53 42.00 125.00C43.67 125.47 45.83 125.73 48.00 126.10C50.17 126.47 52.67 126.82 55.00 127.20C57.33 127.58 59.50 128.02 62.00 128.40C64.50 128.78 67.00 129.23 70.00 129.50C73.00 129.77 76.67 129.92 80.00 130.00C83.33 130.08 85.00 130.08 90.00 130.00C95.00 129.92 101.67 129.77 110.00 129.50C118.33 129.23 129.17 128.83 140.00 128.40C150.83 127.97 165.00 127.30 175.00 126.90C185.00 126.50 190.83 126.28 200.00 126.00C209.17 125.72 219.67 125.48 230.00 125.20C240.33 124.92 256.50 124.62 262.00 124.30C263.00 123.98 262.00 123.48 263.00 123.30C268.13 123.12 287.83 123.22 292.80 123.20" fill="none" stroke="#ff7070" stroke-width="0.9" stroke-linejoin="round" />
<path d="M35.30 153.30C35.50 152.45 35.72 149.17 36.50 148.20C37.28 147.23 38.08 147.78 40.00 147.50C41.92 147.22 44.67 146.67 48.00 146.50C51.33 146.33 55.50 146.47 60.00 146.50C64.50 146.53 70.00 146.70 75.00 146.70C80.00 146.70 79.17 146.75 90.00 146.50C100.83 146.25 121.67 145.58 140.00 145.20C158.33 144.82 183.33 144.23 200.00 144.20C216.67 144.17 224.53 144.78 240.00 145.00C255.47 145.22 284.00 145.42 292.80 145.50" fill="none" stroke="#ff7070" stroke-width="0.9" stroke-linejoin="round" />
<path d="M35.30 136.00C36.58 136.00 41.38 135.85 43.00 136.00C44.62 136.15 43.00 136.73 45.00 136.90C47.83 137.07 57.17 136.82 60.00 137.00C62.00 137.18 60.00 137.83 62.00 138.00C65.00 138.17 75.00 137.90 78.00 138.00C80.00 138.10 78.00 138.53 80.00 138.60C83.67 138.67 90.00 138.67 100.00 138.40C110.00 138.13 128.33 137.37 140.00 137.00C151.67 136.63 160.00 136.43 170.00 136.20C180.00 135.97 188.33 135.75 200.00 135.60C211.67 135.45 224.53 135.40 240.00 135.30C255.47 135.20 284.00 135.05 292.80 135.00" fill="none" stroke="#ff0000" stroke-width="3" stroke-linejoin="round" />
<path d="M35.50 117.00C35.50 117.00 35.60 146.00 35.60 146.00C35.60 146.00 36.10 145.47 36.50 146.50C36.90 147.53 37.25 150.97 38.00 152.20C38.75 153.43 40.17 153.43 41.00 153.90C41.83 154.37 42.33 155.00 43.00 155.00C43.67 155.00 44.33 153.80 45.00 153.90C45.67 154.00 46.17 155.98 47.00 155.60C47.83 155.22 49.17 153.03 50.00 151.60C50.83 150.17 51.33 147.27 52.00 147.00C52.67 146.73 53.17 149.62 54.00 150.00C54.83 150.38 56.00 149.13 57.00 149.30C58.00 149.47 59.17 149.22 60.00 151.00C60.83 152.78 61.17 156.50 62.00 160.00C62.83 163.50 64.00 167.83 65.00 172.00C66.00 176.17 67.17 181.42 68.00 185.00C68.83 188.58 69.33 191.70 70.00 193.50C70.67 195.30 71.33 195.72 72.00 195.80C72.67 195.88 73.33 195.80 74.00 194.00C74.67 192.20 75.50 190.67 76.00 185.00C76.50 179.33 76.67 164.40 77.00 160.00C77.33 155.60 77.17 158.83 78.00 158.60C78.83 158.37 80.67 159.08 82.00 158.60C83.33 158.12 84.67 158.38 86.00 155.70C87.33 153.02 88.50 147.55 90.00 142.50C91.50 137.45 93.33 130.45 95.00 125.40C96.67 120.35 98.33 116.30 100.00 112.20C101.67 108.10 103.67 103.50 105.00 100.80C106.33 98.10 107.00 97.00 108.00 96.00C109.00 95.00 109.83 94.32 111.00 94.80C112.17 95.28 113.50 98.05 115.00 98.90C116.50 99.75 118.50 99.58 120.00 99.90C121.50 100.22 122.67 100.02 124.00 100.80C125.33 101.58 126.67 103.02 128.00 104.60C129.33 106.18 130.67 108.40 132.00 110.30C133.33 112.20 135.00 113.80 136.00 116.00C137.00 118.20 137.33 120.67 138.00 123.50C138.67 126.33 139.33 130.25 140.00 133.00C140.67 135.75 141.17 138.45 142.00 140.00C142.83 141.55 143.67 141.53 145.00 142.30C146.33 143.07 148.33 144.10 150.00 144.60C151.67 145.10 153.33 144.93 155.00 145.30C156.67 145.67 158.33 146.92 160.00 146.80C161.67 146.68 163.33 145.47 165.00 144.60C166.67 143.73 168.33 142.37 170.00 141.60C171.67 140.83 173.33 140.52 175.00 140.00C176.67 139.48 178.33 139.00 180.00 138.50C181.67 138.00 183.33 137.62 185.00 137.00C186.67 136.38 188.33 135.88 190.00 134.80C191.67 133.72 193.33 132.30 195.00 130.50C196.67 128.70 198.33 126.20 200.00 124.00C201.67 121.80 203.33 119.18 205.00 117.30C206.67 115.42 208.33 113.83 210.00 112.70C211.67 111.57 213.67 111.28 215.00 110.50C216.33 109.72 218.00 108.00 218.00 108.00C218.00 108.00 218.50 81.00 218.50 81.00C218.50 81.00 220.42 79.37 222.00 78.60C223.58 77.83 226.33 76.97 228.00 76.40C229.67 75.83 230.67 75.97 232.00 75.20C233.33 74.43 234.67 72.93 236.00 71.80C237.33 70.67 238.50 70.37 240.00 68.40C241.50 66.43 243.33 62.40 245.00 60.00C246.67 57.60 248.33 55.58 250.00 54.00C251.67 52.42 253.33 51.28 255.00 50.50C256.67 49.72 258.33 49.12 260.00 49.30C261.67 49.48 263.33 50.65 265.00 51.60C266.67 52.55 268.33 54.13 270.00 55.00C271.67 55.87 273.33 56.42 275.00 56.80C276.67 57.18 278.33 57.15 280.00 57.30C281.67 57.45 283.67 57.78 285.00 57.70C286.33 57.62 286.70 57.67 288.00 56.80C289.30 55.93 292.00 53.22 292.80 52.50" fill="none" stroke="#6c6cff" stroke-width="0.9" stroke-linejoin="round" />
<path d="M35.70 220.00C35.70 220.00 35.80 185.00 35.80 185.00C35.80 185.00 36.13 185.33 36.50 185.00C36.87 184.67 37.08 184.43 38.00 183.00C38.92 181.57 40.67 177.10 42.00 176.40C43.33 175.70 44.67 179.32 46.00 178.80C47.33 178.28 48.50 174.60 50.00 173.30C51.50 172.00 53.33 171.25 55.00 171.00C56.67 170.75 58.83 171.13 60.00 171.80C61.17 172.47 61.17 171.97 62.00 175.00C62.83 178.03 64.00 185.00 65.00 190.00C66.00 195.00 67.17 201.17 68.00 205.00C68.83 208.83 69.33 211.17 70.00 213.00C70.67 214.83 71.33 215.50 72.00 216.00C72.67 216.50 73.33 217.00 74.00 216.00C74.67 215.00 75.50 214.92 76.00 210.00C76.50 205.08 76.67 191.17 77.00 186.50C77.33 181.83 77.17 182.92 78.00 182.00C78.83 181.08 80.67 181.60 82.00 181.00C83.33 180.40 84.67 180.40 86.00 178.40C87.33 176.40 88.50 172.78 90.00 169.00C91.50 165.22 93.67 160.12 95.00 155.70C96.33 151.28 97.00 146.60 98.00 142.50C99.00 138.40 100.00 134.27 101.00 131.10C102.00 127.93 102.83 126.02 104.00 123.50C105.17 120.98 106.67 117.42 108.00 116.00C109.33 114.58 110.67 114.68 112.00 115.00C113.33 115.32 114.67 116.95 116.00 117.90C117.33 118.85 118.67 119.77 120.00 120.70C121.33 121.63 122.67 122.08 124.00 123.50C125.33 124.92 126.67 127.30 128.00 129.20C129.33 131.10 130.67 132.37 132.00 134.90C133.33 137.43 135.00 141.57 136.00 144.40C137.00 147.23 137.33 149.38 138.00 151.90C138.67 154.42 139.33 157.77 140.00 159.50C140.67 161.23 141.17 161.38 142.00 162.30C142.83 163.22 143.67 164.30 145.00 165.00C146.33 165.70 148.33 166.12 150.00 166.50C151.67 166.88 153.00 166.92 155.00 167.30C157.00 167.68 159.83 168.93 162.00 168.80C164.17 168.67 165.83 167.38 168.00 166.50C170.17 165.62 173.00 164.38 175.00 163.50C177.00 162.62 178.33 161.97 180.00 161.20C181.67 160.43 183.33 159.78 185.00 158.90C186.67 158.02 188.33 157.38 190.00 155.90C191.67 154.42 193.33 151.70 195.00 150.00C196.67 148.30 198.33 147.37 200.00 145.70C201.67 144.03 203.33 141.33 205.00 140.00C206.67 138.67 208.33 138.45 210.00 137.70C211.67 136.95 213.67 136.25 215.00 135.50C216.33 134.75 218.00 133.20 218.00 133.20C218.00 133.20 218.50 105.90 218.50 105.90C218.50 105.90 220.42 104.92 222.00 103.60C223.58 102.28 226.33 99.52 228.00 98.00C229.67 96.48 230.33 96.02 232.00 94.50C233.67 92.98 235.83 90.65 238.00 88.90C240.17 87.15 243.00 86.07 245.00 84.00C247.00 81.93 248.33 78.50 250.00 76.50C251.67 74.50 253.33 73.00 255.00 72.00C256.67 71.00 258.33 70.30 260.00 70.50C261.67 70.70 263.33 72.18 265.00 73.20C266.67 74.22 268.33 75.65 270.00 76.60C271.67 77.55 273.33 78.25 275.00 78.90C276.67 79.55 278.33 79.75 280.00 80.50C281.67 81.25 283.33 82.35 285.00 83.40C286.67 84.45 288.70 85.93 290.00 86.80C291.30 87.67 292.33 88.30 292.80 88.60" fill="none" stroke="#6c6cff" stroke-width="0.9" stroke-linejoin="round" />
<path d="M35.70 182.00C35.70 182.00 35.90 166.00 35.90 166.00C35.90 166.00 36.15 165.85 36.50 165.60C36.85 165.35 37.42 164.77 38.00 164.50C38.58 164.23 39.33 163.92 40.00 164.00C40.67 164.08 41.33 165.00 42.00 165.00C42.67 165.00 43.33 164.00 44.00 164.00C44.67 164.00 45.23 164.40 46.00 165.00C46.77 165.60 47.93 167.77 48.60 167.60C49.27 167.43 49.43 165.23 50.00 164.00C50.57 162.77 51.17 160.87 52.00 160.20C52.83 159.53 54.17 160.03 55.00 160.00C55.83 159.97 56.17 159.90 57.00 160.00C57.83 160.10 59.17 159.77 60.00 160.60C60.83 161.43 61.17 161.97 62.00 165.00C62.83 168.03 64.00 174.43 65.00 178.80C66.00 183.17 67.17 187.58 68.00 191.20C68.83 194.82 69.33 198.23 70.00 200.50C70.67 202.77 71.33 204.03 72.00 204.80C72.67 205.57 73.50 205.57 74.00 205.10C74.50 204.63 74.67 204.35 75.00 202.00C75.33 199.65 75.67 195.38 76.00 191.00C76.33 186.62 76.67 178.77 77.00 175.70C77.33 172.63 77.50 173.22 78.00 172.60C78.50 171.98 79.17 172.40 80.00 172.00C80.83 171.60 82.17 171.13 83.00 170.20C83.83 169.27 84.17 167.55 85.00 166.40C85.83 165.25 87.17 164.45 88.00 163.30C88.83 162.15 88.83 162.05 90.00 159.50C91.17 156.95 93.67 151.78 95.00 148.00C96.33 144.22 97.00 140.57 98.00 136.80C99.00 133.03 100.00 128.55 101.00 125.40C102.00 122.25 103.00 121.05 104.00 117.90C105.00 114.75 106.00 108.57 107.00 106.50C108.00 104.43 109.10 105.82 110.00 105.50C110.90 105.18 111.57 103.97 112.40 104.60C113.23 105.23 113.73 108.35 115.00 109.30C116.27 110.25 118.67 109.98 120.00 110.30C121.33 110.62 122.00 110.25 123.00 111.20C124.00 112.15 124.83 114.58 126.00 116.00C127.17 117.42 128.83 118.28 130.00 119.70C131.17 121.12 132.00 122.60 133.00 124.50C134.00 126.40 135.17 128.42 136.00 131.10C136.83 133.78 137.33 137.62 138.00 140.60C138.67 143.58 139.33 146.95 140.00 149.00C140.67 151.05 141.17 152.00 142.00 152.90C142.83 153.80 143.67 153.90 145.00 154.40C146.33 154.90 148.33 155.52 150.00 155.90C151.67 156.28 153.33 156.32 155.00 156.70C156.67 157.08 158.83 157.90 160.00 158.20C161.17 158.50 161.17 158.88 162.00 158.50C162.83 158.12 163.67 156.97 165.00 155.90C166.33 154.83 168.33 153.23 170.00 152.10C171.67 150.97 173.33 149.85 175.00 149.10C176.67 148.35 178.33 148.23 180.00 147.60C181.67 146.97 183.33 146.05 185.00 145.30C186.67 144.55 188.33 143.98 190.00 143.10C191.67 142.22 193.33 141.47 195.00 140.00C196.67 138.53 198.33 136.00 200.00 134.30C201.67 132.60 203.33 131.32 205.00 129.80C206.67 128.28 208.67 126.45 210.00 125.20C211.33 123.95 211.75 123.05 213.00 122.30C214.25 121.55 217.50 120.70 217.50 120.70C217.50 120.70 218.40 95.70 218.40 95.70C218.40 95.70 218.90 93.43 220.00 92.30C221.10 91.17 223.67 89.85 225.00 88.90C226.33 87.95 226.83 87.17 228.00 86.60C229.17 86.03 230.83 86.27 232.00 85.50C233.17 84.73 234.00 83.15 235.00 82.00C236.00 80.85 236.83 79.53 238.00 78.60C239.17 77.67 240.83 77.25 242.00 76.40C243.17 75.55 243.67 74.98 245.00 73.50C246.33 72.02 248.33 69.25 250.00 67.50C251.67 65.75 253.33 64.35 255.00 63.00C256.67 61.65 258.33 59.60 260.00 59.40C261.67 59.20 263.33 60.83 265.00 61.80C266.67 62.77 268.50 64.25 270.00 65.20C271.50 66.15 272.67 66.85 274.00 67.50C275.33 68.15 276.67 68.83 278.00 69.10C279.33 69.37 280.67 68.80 282.00 69.10C283.33 69.40 284.67 70.48 286.00 70.90C287.33 71.32 288.87 71.48 290.00 71.60C291.13 71.72 292.33 71.60 292.80 71.60" fill="none" stroke="#1414f0" stroke-width="1.65" stroke-linejoin="round" />
<line x1="25" y1="433.2" x2="303" y2="433.2" stroke="#23238e" stroke-width="1" />
<path d="M35.50 271.20C35.50 271.20 35.50 355.00 35.50 355.00C35.50 355.00 36.12 369.87 36.50 375.40C36.88 380.93 37.38 385.22 37.80 388.20C38.22 391.18 38.58 392.23 39.00 393.30C39.42 394.37 39.87 393.95 40.30 394.60C40.73 395.25 41.17 396.35 41.60 397.20C42.03 398.05 42.47 399.07 42.90 399.70C43.33 400.33 43.68 400.15 44.20 401.00C44.72 401.85 45.37 403.95 46.00 404.80C46.63 405.65 47.25 405.45 48.00 406.10C48.75 406.75 49.65 408.07 50.50 408.70C51.35 409.33 52.23 409.27 53.10 409.90C53.97 410.53 54.85 411.65 55.70 412.50C56.55 413.35 57.35 414.37 58.20 415.00C59.05 415.63 59.95 415.45 60.80 416.30C61.65 417.15 62.67 419.03 63.30 420.10C63.93 421.17 64.17 423.33 64.60 422.70C65.03 422.07 65.27 417.58 65.90 416.30C66.53 415.02 67.55 414.57 68.40 415.00C69.25 415.43 70.15 418.68 71.00 418.90C71.85 419.12 72.65 416.10 73.50 416.30C74.35 416.50 75.23 418.82 76.10 420.10C76.97 421.38 77.85 424.00 78.70 424.00C79.55 424.00 80.43 421.60 81.20 420.10C81.97 418.60 82.67 414.35 83.30 415.00C83.93 415.65 84.28 422.28 85.00 424.00C85.72 425.72 86.77 424.97 87.60 425.30C88.43 425.63 89.22 428.05 90.00 426.00C90.78 423.95 91.53 415.03 92.30 413.00C93.07 410.97 93.83 412.90 94.60 413.80C95.37 414.70 96.27 416.48 96.90 418.40C97.53 420.32 97.77 423.90 98.40 425.30C99.03 426.70 99.93 426.93 100.70 426.80C101.47 426.67 102.28 426.93 103.00 424.50C103.72 422.07 104.48 413.87 105.00 412.20C105.52 410.53 105.67 412.70 106.10 414.50C106.53 416.30 106.97 420.95 107.60 423.00C108.23 425.05 109.00 426.80 109.90 426.80C110.80 426.80 111.97 424.92 113.00 423.00C114.03 421.08 115.20 416.97 116.10 415.30C117.00 413.63 117.63 412.62 118.40 413.00C119.17 413.38 119.93 415.68 120.70 417.60C121.47 419.52 122.12 424.77 123.00 424.50C123.88 424.23 125.12 418.05 126.00 416.00C126.88 413.95 127.60 412.57 128.30 412.20C129.00 411.83 129.55 412.13 130.20 413.80C130.85 415.47 131.48 420.67 132.20 422.20C132.92 423.73 133.73 423.13 134.50 423.00C135.27 422.87 136.05 422.30 136.80 421.40C137.55 420.50 138.25 418.50 139.00 417.60C139.75 416.70 140.53 415.48 141.30 416.00C142.07 416.52 142.75 419.28 143.60 420.70C144.45 422.12 145.50 424.38 146.40 424.50C147.30 424.62 148.18 422.17 149.00 421.40C149.82 420.63 150.60 419.63 151.30 419.90C152.00 420.17 152.57 421.85 153.20 423.00C153.83 424.15 154.40 426.30 155.10 426.80C155.80 427.30 156.63 426.90 157.40 426.00C158.17 425.10 158.93 422.93 159.70 421.40C160.47 419.87 161.35 417.70 162.00 416.80C162.65 415.90 163.03 415.35 163.60 416.00C164.17 416.65 164.77 419.03 165.40 420.70C166.03 422.37 166.68 424.85 167.40 426.00C168.12 427.15 169.07 427.72 169.70 427.60C170.33 427.48 170.57 426.45 171.20 425.30C171.83 424.15 172.85 421.35 173.50 420.70C174.15 420.05 174.58 420.52 175.10 421.40C175.62 422.28 175.97 424.97 176.60 426.00C177.23 427.03 178.00 427.72 178.90 427.60C179.80 427.48 181.10 426.83 182.00 425.30C182.90 423.77 183.58 420.07 184.30 418.40C185.02 416.73 185.53 415.43 186.30 415.30C187.07 415.17 188.08 416.32 188.90 417.60C189.72 418.88 190.62 421.58 191.20 423.00C191.78 424.42 191.80 425.05 192.40 426.10C193.00 427.15 194.00 428.90 194.80 429.30C195.60 429.70 196.40 427.95 197.20 428.50C198.00 429.05 198.80 432.18 199.60 432.60C200.40 433.02 201.18 431.13 202.00 431.00C202.82 430.87 203.68 432.62 204.50 431.80C205.32 430.98 206.10 428.12 206.90 426.10C207.70 424.08 208.50 420.63 209.30 419.70C210.10 418.77 210.90 419.30 211.70 420.50C212.50 421.70 213.30 426.50 214.10 426.90C214.90 427.30 215.83 425.57 216.50 422.90C217.17 420.23 217.70 413.97 218.10 410.90C218.50 407.83 218.63 404.50 218.90 404.50C219.17 404.50 219.30 408.23 219.70 410.90C220.10 413.57 220.63 419.03 221.30 420.50C221.97 421.97 222.90 420.23 223.70 419.70C224.50 419.17 225.30 418.63 226.10 417.30C226.90 415.97 227.68 412.90 228.50 411.70C229.32 410.50 230.25 409.83 231.00 410.10C231.75 410.37 232.33 411.43 233.00 413.30C233.67 415.17 234.27 419.03 235.00 421.30C235.73 423.57 236.73 426.50 237.40 426.90C238.07 427.30 238.38 425.43 239.00 423.70C239.62 421.97 240.43 417.43 241.10 416.50C241.77 415.57 242.28 416.23 243.00 418.10C243.72 419.97 244.60 425.83 245.40 427.70C246.20 429.57 247.00 428.75 247.80 429.30C248.60 429.85 249.53 431.80 250.20 431.00C250.87 430.20 251.13 426.12 251.80 424.50C252.47 422.88 253.40 421.57 254.20 421.30C255.00 421.03 255.78 421.70 256.60 422.90C257.42 424.10 258.28 427.70 259.10 428.50C259.92 429.30 260.70 428.50 261.50 427.70C262.30 426.90 263.10 423.70 263.90 423.70C264.70 423.70 265.50 426.90 266.30 427.70C267.10 428.50 267.90 428.77 268.70 428.50C269.50 428.23 270.30 427.57 271.10 426.10C271.90 424.63 272.70 421.30 273.50 419.70C274.30 418.10 275.10 417.17 275.90 416.50C276.70 415.83 277.50 415.43 278.30 415.70C279.10 415.97 279.90 417.43 280.70 418.10C281.50 418.77 282.28 419.97 283.10 419.70C283.92 419.43 284.92 416.90 285.60 416.50C286.28 416.10 286.67 416.63 287.20 417.30C287.73 417.97 288.27 419.17 288.80 420.50C289.33 421.83 289.87 424.37 290.40 425.30C290.93 426.23 291.73 425.97 292.00 426.10" fill="none" stroke="#2a8a2a" stroke-width="1.3" stroke-linejoin="round" />
<path d="M34.70 355.00C34.70 355.00 35.70 380.50 35.70 380.50C35.70 380.50 36.15 391.63 36.50 395.90C36.85 400.17 37.38 403.75 37.80 406.10C38.22 408.45 38.58 409.57 39.00 410.00C39.42 410.43 39.87 408.28 40.30 408.70C40.73 409.12 41.08 411.23 41.60 412.50C42.12 413.77 42.77 415.03 43.40 416.30C44.03 417.57 44.63 419.03 45.40 420.10C46.17 421.17 47.15 422.05 48.00 422.70C48.85 423.35 49.65 423.15 50.50 424.00C51.35 424.85 52.23 426.53 53.10 427.80C53.97 429.07 54.85 430.75 55.70 431.60C56.55 432.45 57.35 432.47 58.20 432.90C59.05 433.33 59.95 434.20 60.80 434.20C61.65 434.20 62.45 432.47 63.30 432.90C64.15 433.33 65.05 436.58 65.90 436.80C66.75 437.02 67.55 435.27 68.40 434.20C69.25 433.13 70.15 430.40 71.00 430.40C71.85 430.40 72.65 432.72 73.50 434.20C74.35 435.68 75.33 438.02 76.10 439.30C76.87 440.58 77.47 443.18 78.10 441.90C78.73 440.62 79.30 432.45 79.90 431.60C80.50 430.75 81.05 436.80 81.70 436.80C82.35 436.80 83.12 430.97 83.80 431.60C84.48 432.23 85.03 438.68 85.80 440.60C86.57 442.52 87.70 442.47 88.40 443.10C89.10 443.73 89.35 445.97 90.00 444.40C90.65 442.83 91.53 435.87 92.30 433.70C93.07 431.53 93.83 431.02 94.60 431.40C95.37 431.78 96.27 433.83 96.90 436.00C97.53 438.17 97.77 443.00 98.40 444.40C99.03 445.80 99.93 444.65 100.70 444.40C101.47 444.15 102.28 445.07 103.00 442.90C103.72 440.73 104.48 433.07 105.00 431.40C105.52 429.73 105.67 430.98 106.10 432.90C106.53 434.82 106.97 440.47 107.60 442.90C108.23 445.33 109.00 446.87 109.90 447.50C110.80 448.13 111.97 448.48 113.00 446.70C114.03 444.92 115.20 439.10 116.10 436.80C117.00 434.50 117.63 433.03 118.40 432.90C119.17 432.77 119.93 434.08 120.70 436.00C121.47 437.92 122.12 444.40 123.00 444.40C123.88 444.40 125.12 438.17 126.00 436.00C126.88 433.83 127.60 431.78 128.30 431.40C129.00 431.02 129.55 431.78 130.20 433.70C130.85 435.62 131.48 441.25 132.20 442.90C132.92 444.55 133.73 443.73 134.50 443.60C135.27 443.47 136.05 443.12 136.80 442.10C137.55 441.08 138.25 438.52 139.00 437.50C139.75 436.48 140.53 435.37 141.30 436.00C142.07 436.63 142.75 439.77 143.60 441.30C144.45 442.83 145.50 445.20 146.40 445.20C147.30 445.20 148.18 442.33 149.00 441.30C149.82 440.27 150.60 438.73 151.30 439.00C152.00 439.27 152.57 441.62 153.20 442.90C153.83 444.18 154.40 446.18 155.10 446.70C155.80 447.22 156.63 447.02 157.40 446.00C158.17 444.98 158.93 442.40 159.70 440.60C160.47 438.80 161.35 436.22 162.00 435.20C162.65 434.18 163.03 433.60 163.60 434.50C164.17 435.40 164.77 438.57 165.40 440.60C166.03 442.63 166.68 445.55 167.40 446.70C168.12 447.85 169.07 448.13 169.70 447.50C170.33 446.87 170.57 444.32 171.20 442.90C171.83 441.48 172.85 439.38 173.50 439.00C174.15 438.62 174.58 439.43 175.10 440.60C175.62 441.77 175.97 444.98 176.60 446.00C177.23 447.02 178.00 446.97 178.90 446.70C179.80 446.43 181.10 445.93 182.00 444.40C182.90 442.87 183.58 439.15 184.30 437.50C185.02 435.85 185.53 434.62 186.30 434.50C187.07 434.38 188.08 435.28 188.90 436.80C189.72 438.32 190.62 441.90 191.20 443.60C191.78 445.30 191.80 446.30 192.40 447.00C193.00 447.70 194.00 448.07 194.80 447.80C195.60 447.53 196.27 444.60 197.20 445.40C198.13 446.20 199.47 451.80 200.40 452.60C201.33 453.40 201.98 450.47 202.80 450.20C203.62 449.93 204.48 451.93 205.30 451.00C206.12 450.07 206.90 446.87 207.70 444.60C208.50 442.33 209.30 438.33 210.10 437.40C210.90 436.47 211.70 437.40 212.50 439.00C213.30 440.60 214.10 446.87 214.90 447.00C215.70 447.13 216.68 444.08 217.30 439.80C217.92 435.52 218.25 424.25 218.60 421.30C218.95 418.35 219.08 420.08 219.40 422.10C219.72 424.12 220.05 430.18 220.50 433.40C220.95 436.62 221.43 440.20 222.10 441.40C222.77 442.60 223.70 441.27 224.50 440.60C225.30 439.93 226.10 438.87 226.90 437.40C227.70 435.93 228.55 432.60 229.30 431.80C230.05 431.00 230.72 431.53 231.40 432.60C232.08 433.67 232.67 435.93 233.40 438.20C234.13 440.47 235.00 445.40 235.80 446.20C236.60 447.00 237.40 444.33 238.20 443.00C239.00 441.67 239.80 438.87 240.60 438.20C241.40 437.53 242.20 437.40 243.00 439.00C243.80 440.60 244.55 445.67 245.40 447.80C246.25 449.93 247.22 451.27 248.10 451.80C248.98 452.33 249.88 452.20 250.70 451.00C251.52 449.80 252.20 445.80 253.00 444.60C253.80 443.40 254.77 443.40 255.50 443.80C256.23 444.20 256.80 445.80 257.40 447.00C258.00 448.20 258.42 450.47 259.10 451.00C259.78 451.53 260.65 451.13 261.50 450.20C262.35 449.27 263.40 445.40 264.20 445.40C265.00 445.40 265.55 449.27 266.30 450.20C267.05 451.13 267.90 451.27 268.70 451.00C269.50 450.73 270.30 450.47 271.10 448.60C271.90 446.73 272.70 441.53 273.50 439.80C274.30 438.07 275.10 438.47 275.90 438.20C276.70 437.93 277.50 437.93 278.30 438.20C279.10 438.47 279.90 439.13 280.70 439.80C281.50 440.47 282.28 442.33 283.10 442.20C283.92 442.07 284.92 439.67 285.60 439.00C286.28 438.33 286.75 437.53 287.20 438.20C287.65 438.87 287.90 441.53 288.30 443.00C288.70 444.47 288.98 446.20 289.60 447.00C290.22 447.80 291.60 447.67 292.00 447.80" fill="none" stroke="#ff1a1a" stroke-width="1.3" stroke-linejoin="round" />
<path d="M35.20 487.90C35.42 485.75 35.98 479.27 36.50 475.00C37.02 470.73 37.88 466.13 38.30 462.30C38.72 458.47 38.75 454.98 39.00 452.00C39.25 449.02 39.50 446.52 39.80 444.40C40.10 442.28 40.50 441.43 40.80 439.30C41.10 437.17 41.33 435.00 41.60 431.60C41.87 428.20 42.10 423.15 42.40 418.90C42.70 414.65 43.10 409.52 43.40 406.10C43.70 402.68 43.87 400.10 44.20 398.40C44.53 396.70 44.98 395.47 45.40 395.90C45.82 396.33 46.35 402.28 46.70 401.00C47.05 399.72 47.20 392.88 47.50 388.20C47.80 383.52 48.20 374.60 48.50 372.90C48.80 371.20 49.05 379.28 49.30 378.00C49.55 376.72 49.72 366.48 50.00 365.20C50.28 363.92 50.73 370.83 51.00 370.30C51.27 369.77 51.35 364.05 51.60 362.00C51.85 359.95 52.17 361.22 52.50 358.00C52.83 354.78 53.25 349.00 53.60 342.70C53.95 336.40 54.25 319.53 54.60 320.20C54.95 320.87 55.35 346.02 55.70 346.70C56.05 347.38 56.37 326.68 56.70 324.30C57.03 321.92 57.43 332.75 57.70 332.40C57.97 332.05 58.03 324.75 58.30 322.20C58.57 319.65 58.98 317.43 59.30 317.10C59.62 316.77 59.88 321.57 60.20 320.20C60.52 318.83 60.93 308.57 61.20 308.90C61.47 309.23 61.80 322.20 61.80 322.20C61.80 322.20 63.00 290.50 63.00 290.50C63.00 290.50 64.20 328.40 64.20 328.40C64.20 328.40 65.12 304.68 65.50 297.70C65.88 290.72 66.50 286.50 66.50 286.50C66.50 286.50 67.50 316.10 67.50 316.10C67.50 316.10 67.95 299.70 68.30 299.70C68.65 299.70 69.22 312.68 69.60 316.10C69.98 319.52 70.27 318.50 70.60 320.20C70.93 321.90 71.20 323.58 71.60 326.30C72.00 329.02 72.60 336.33 73.00 336.50C73.40 336.67 73.65 327.98 74.00 327.30C74.35 326.62 75.10 332.40 75.10 332.40C75.10 332.40 75.70 287.50 75.70 287.50C75.70 287.50 76.17 294.28 76.50 293.60C76.83 292.92 77.32 285.62 77.70 283.40C78.08 281.18 78.45 279.97 78.80 280.30C79.15 280.63 79.50 285.57 79.80 285.40C80.10 285.23 80.27 277.25 80.60 279.30C80.93 281.35 81.80 297.70 81.80 297.70C81.80 297.70 82.80 332.40 82.80 332.40C82.80 332.40 83.50 338.60 83.50 338.60C83.50 338.60 84.30 285.40 84.30 285.40C84.30 285.40 85.00 281.98 85.50 281.30C86.00 280.62 86.72 281.12 87.30 281.30C87.88 281.48 88.55 282.73 89.00 282.40C89.45 282.07 89.60 279.65 90.00 279.30C90.40 278.95 91.40 280.30 91.40 280.30C91.40 280.30 92.40 340.60 92.40 340.60C92.40 340.60 93.28 329.77 93.70 328.40C94.12 327.03 94.43 332.75 94.90 332.40C95.37 332.05 95.95 330.72 96.50 326.30C97.05 321.88 98.20 305.90 98.20 305.90C98.20 305.90 99.00 279.30 99.00 279.30C99.00 279.30 99.98 280.13 100.60 280.30C101.22 280.47 102.18 280.13 102.70 280.30C103.22 280.47 103.70 281.30 103.70 281.30C103.70 281.30 104.70 335.50 104.70 335.50C104.70 335.50 105.70 324.30 105.70 324.30C105.70 324.30 106.70 293.60 106.70 293.60C106.70 293.60 107.48 281.20 108.00 278.30C108.52 275.40 109.15 276.20 109.80 276.20C110.45 276.20 111.32 277.95 111.90 278.30C112.48 278.65 112.80 275.40 113.30 278.30C113.80 281.20 114.28 289.07 114.90 295.70C115.52 302.33 116.38 313.00 117.00 318.10C117.62 323.20 118.10 326.30 118.60 326.30C119.10 326.30 119.52 322.87 120.00 318.10C120.48 313.33 120.98 303.65 121.50 297.70C122.02 291.75 122.50 283.42 123.10 282.40C123.70 281.38 124.42 285.30 125.10 291.60C125.78 297.90 126.58 312.72 127.20 320.20C127.82 327.68 128.28 337.87 128.80 336.50C129.32 335.13 129.82 320.52 130.30 312.00C130.78 303.48 131.20 289.48 131.70 285.40C132.20 281.32 132.80 287.83 133.30 287.50C133.80 287.17 134.18 283.75 134.70 283.40C135.22 283.05 135.88 284.03 136.40 285.40C136.92 286.77 137.30 287.50 137.80 291.60C138.30 295.70 138.85 305.92 139.40 310.00C139.95 314.08 140.58 317.47 141.10 316.10C141.62 314.73 141.92 306.92 142.50 301.80C143.08 296.68 143.92 288.82 144.60 285.40C145.28 281.98 145.93 281.63 146.60 281.30C147.27 280.97 147.98 281.00 148.60 283.40C149.22 285.80 149.78 293.15 150.30 295.70C150.82 298.25 151.20 300.42 151.70 298.70C152.20 296.98 152.78 288.80 153.30 285.40C153.82 282.00 154.22 279.15 154.80 278.30C155.38 277.45 156.12 280.30 156.80 280.30C157.48 280.30 158.32 277.45 158.90 278.30C159.48 279.15 159.80 280.80 160.30 285.40C160.80 290.00 161.43 300.38 161.90 305.90C162.37 311.42 162.67 319.18 163.10 318.50C163.53 317.82 164.00 307.65 164.50 301.80C165.00 295.95 165.55 287.32 166.10 283.40C166.65 279.48 167.28 279.50 167.80 278.30C168.32 277.10 168.80 275.87 169.20 276.20C169.60 276.53 169.87 279.78 170.20 280.30C170.53 280.82 170.78 277.77 171.20 279.30C171.62 280.83 172.25 286.95 172.70 289.50C173.15 292.05 173.47 294.60 173.90 294.60C174.33 294.60 174.82 292.05 175.30 289.50C175.78 286.95 176.22 281.33 176.80 279.30C177.38 277.27 178.13 277.47 178.80 277.30C179.47 277.13 180.25 276.60 180.80 278.30C181.35 280.00 181.65 282.90 182.10 287.50C182.55 292.10 182.93 300.80 183.50 305.90C184.07 311.00 184.92 317.60 185.50 318.10C186.08 318.60 186.48 313.32 187.00 308.90C187.52 304.48 187.98 296.53 188.60 291.60C189.22 286.67 190.02 282.03 190.70 279.30C191.38 276.57 192.03 276.22 192.70 275.20C193.37 274.18 194.08 273.20 194.70 273.20C195.32 273.20 195.78 275.20 196.40 275.20C197.02 275.20 197.72 273.60 198.40 273.20C199.08 272.80 199.82 272.80 200.50 272.80C201.18 272.80 201.93 272.97 202.50 273.20C203.07 273.43 203.42 274.03 203.90 274.20C204.38 274.37 204.88 273.02 205.40 274.20C205.92 275.38 206.47 278.40 207.00 281.30C207.53 284.20 208.08 288.87 208.60 291.60C209.12 294.33 209.62 297.70 210.10 297.70C210.58 297.70 211.07 294.33 211.50 291.60C211.93 288.87 212.25 283.52 212.70 281.30C213.15 279.08 213.72 277.95 214.20 278.30C214.68 278.65 215.17 281.18 215.60 283.40C216.03 285.62 216.43 289.55 216.80 291.60C217.17 293.65 217.48 293.32 217.80 295.70C218.12 298.08 218.70 305.90 218.70 305.90C218.70 305.90 219.00 404.50 219.00 404.50C219.00 404.50 219.50 404.50 219.50 404.50C219.50 404.50 219.90 305.90 219.90 305.90C219.90 305.90 220.83 296.33 221.30 293.60C221.77 290.87 222.18 289.15 222.70 289.50C223.22 289.85 223.88 294.67 224.40 295.70C224.92 296.73 225.30 294.00 225.80 295.70C226.30 297.40 226.85 300.80 227.40 305.90C227.95 311.00 228.58 321.20 229.10 326.30C229.62 331.40 230.03 336.50 230.50 336.50C230.97 336.50 231.38 331.40 231.90 326.30C232.42 321.20 233.05 312.37 233.60 305.90C234.15 299.43 234.58 291.93 235.20 287.50C235.82 283.07 236.72 280.83 237.30 279.30C237.88 277.77 238.23 276.93 238.70 278.30C239.17 279.67 239.67 283.58 240.10 287.50C240.53 291.42 240.85 298.90 241.30 301.80C241.75 304.70 242.32 305.92 242.80 304.90C243.28 303.88 243.77 299.63 244.20 295.70C244.63 291.77 244.95 284.72 245.40 281.30C245.85 277.88 246.42 276.28 246.90 275.20C247.38 274.12 247.80 274.97 248.30 274.80C248.80 274.63 249.35 273.12 249.90 274.20C250.45 275.28 251.08 279.08 251.60 281.30C252.12 283.52 252.53 286.82 253.00 287.50C253.47 288.18 253.88 286.43 254.40 285.40C254.92 284.37 255.55 282.65 256.10 281.30C256.65 279.95 257.10 278.32 257.70 277.30C258.30 276.28 259.12 275.38 259.70 275.20C260.28 275.02 260.72 275.52 261.20 276.20C261.68 276.88 262.17 278.45 262.60 279.30C263.03 280.15 263.35 281.30 263.80 281.30C264.25 281.30 264.82 280.32 265.30 279.30C265.78 278.28 266.20 275.72 266.70 275.20C267.20 274.68 267.68 275.85 268.30 276.20C268.92 276.55 269.78 275.77 270.40 277.30C271.02 278.83 271.50 282.33 272.00 285.40C272.50 288.47 272.82 292.63 273.40 295.70C273.98 298.77 274.82 302.10 275.50 303.80C276.18 305.50 276.82 306.23 277.50 305.90C278.18 305.57 278.92 303.85 279.60 301.80C280.28 299.75 280.93 295.48 281.60 293.60C282.27 291.72 283.02 290.15 283.60 290.50C284.18 290.85 284.65 293.30 285.10 295.70C285.55 298.10 285.87 303.72 286.30 304.90C286.73 306.08 287.22 305.37 287.70 302.80C288.18 300.23 288.75 293.08 289.20 289.50C289.65 285.92 289.87 283.00 290.40 281.30C290.93 279.60 292.07 279.63 292.40 279.30" fill="none" stroke="#2a2aff" stroke-width="1.15" stroke-linejoin="round" />
<line x1="391.7" y1="186.5" x2="649.5" y2="186.5" stroke="#2020e0" stroke-width="2.2" />
<path d="M392.30 86.40C392.57 85.85 393.37 83.17 393.90 83.10C394.43 83.03 394.98 84.18 395.50 86.00C396.02 87.82 396.50 90.00 397.00 94.00C397.50 98.00 398.12 104.50 398.50 110.00C398.88 115.50 399.08 123.83 399.30 127.00C399.52 130.17 399.60 130.83 399.80 129.00C400.00 127.17 400.25 121.50 400.50 116.00C400.75 110.50 400.97 103.67 401.30 96.00C401.63 88.33 402.03 77.62 402.50 70.00C402.97 62.38 403.53 55.08 404.10 50.30C404.67 45.52 405.23 43.57 405.90 41.30C406.57 39.03 407.35 38.40 408.10 36.70C408.85 35.00 409.63 32.80 410.40 31.10C411.17 29.40 411.95 27.53 412.70 26.50C413.45 25.47 414.23 24.90 414.90 24.90C415.57 24.90 416.13 25.10 416.70 26.50C417.27 27.90 417.65 30.47 418.30 33.30C418.95 36.13 419.83 40.67 420.60 43.50C421.37 46.33 421.95 48.60 422.90 50.30C423.85 52.00 424.98 52.87 426.30 53.70C427.62 54.53 429.30 55.03 430.80 55.30C432.30 55.57 433.77 55.33 435.30 55.30C436.83 55.27 438.22 54.75 440.00 55.10C441.78 55.45 443.98 56.77 446.00 57.40C448.02 58.03 450.08 58.15 452.10 58.90C454.12 59.65 456.33 60.77 458.10 61.90C459.87 63.03 461.18 64.32 462.70 65.70C464.22 67.08 465.70 68.68 467.20 70.20C468.70 71.72 470.32 73.17 471.70 74.80C473.08 76.43 474.62 78.25 475.50 80.00C476.38 81.75 476.25 83.90 477.00 85.30C477.75 86.70 478.62 87.63 480.00 88.40C481.38 89.17 483.15 89.90 485.30 89.90C487.45 89.90 491.25 88.40 492.90 88.40C494.55 88.40 494.45 88.77 495.20 89.90C495.95 91.03 496.60 93.82 497.40 95.20C498.20 96.58 499.25 97.58 500.00 98.20C500.75 98.82 501.35 99.37 501.90 98.90C502.45 98.43 502.37 96.10 503.30 95.40C504.23 94.70 505.62 94.82 507.50 94.70C509.38 94.58 513.18 94.00 514.60 94.70C516.00 95.40 515.40 98.08 516.00 98.90C516.60 99.72 517.25 100.42 518.20 99.60C519.15 98.78 520.17 95.88 521.70 94.00C523.23 92.12 525.50 89.97 527.40 88.30C529.30 86.63 531.10 85.78 533.10 84.00C535.10 82.22 537.75 78.42 539.40 77.60C541.05 76.78 541.22 78.38 543.00 79.10C544.78 79.82 548.10 80.83 550.10 81.90C552.10 82.97 552.77 84.32 555.00 85.50C557.23 86.68 560.67 87.82 563.50 89.00C566.33 90.18 568.93 91.82 572.00 92.60C575.07 93.38 579.07 93.93 581.90 93.70C584.73 93.47 586.88 92.22 589.00 91.20C591.12 90.18 592.48 88.43 594.60 87.60C596.72 86.77 599.57 86.73 601.70 86.20C603.83 85.67 605.27 84.05 607.40 84.40C609.53 84.75 611.90 87.37 614.50 88.30C617.10 89.23 620.17 90.05 623.00 90.00C625.83 89.95 629.15 87.68 631.50 88.00C633.85 88.32 635.22 91.25 637.10 91.90C638.98 92.55 640.87 92.22 642.80 91.90C644.73 91.58 647.72 90.32 648.70 90.00" fill="none" stroke="#ff5050" stroke-width="0.95" stroke-linejoin="round" />
<path d="M392.30 101.00C392.50 100.77 393.05 99.27 393.50 99.60C393.95 99.93 394.42 100.78 395.00 103.00C395.58 105.22 396.42 109.23 397.00 112.90C397.58 116.57 398.12 122.08 398.50 125.00C398.88 127.92 399.05 129.40 399.30 130.40C399.55 131.40 399.75 132.73 400.00 131.00C400.25 129.27 400.50 125.17 400.80 120.00C401.10 114.83 401.47 105.33 401.80 100.00C402.13 94.67 402.50 91.37 402.80 88.00C403.10 84.63 403.08 83.05 403.60 79.80C404.12 76.55 405.15 71.52 405.90 68.50C406.65 65.48 407.17 64.17 408.10 61.70C409.03 59.23 410.37 55.97 411.50 53.70C412.63 51.43 414.03 49.23 414.90 48.10C415.77 46.97 416.13 46.53 416.70 46.90C417.27 47.27 417.65 48.03 418.30 50.30C418.95 52.57 419.83 57.85 420.60 60.50C421.37 63.15 421.95 64.50 422.90 66.20C423.85 67.90 424.98 69.57 426.30 70.70C427.62 71.83 429.30 72.43 430.80 73.00C432.30 73.57 433.77 73.80 435.30 74.10C436.83 74.40 438.22 74.32 440.00 74.80C441.78 75.28 443.98 76.25 446.00 77.00C448.02 77.75 450.08 78.53 452.10 79.30C454.12 80.07 456.33 80.72 458.10 81.60C459.87 82.48 461.18 83.47 462.70 84.60C464.22 85.73 465.70 86.77 467.20 88.40C468.70 90.03 470.32 92.40 471.70 94.40C473.08 96.40 474.48 98.63 475.50 100.40C476.52 102.17 476.67 104.12 477.80 105.00C478.93 105.88 480.03 105.70 482.30 105.70C484.57 105.70 489.52 104.87 491.40 105.00C493.28 105.13 492.85 105.50 493.60 106.50C494.35 107.50 495.13 109.48 495.90 111.00C496.67 112.52 497.52 114.58 498.20 115.60C498.88 116.62 499.43 116.57 500.00 117.10C500.57 117.63 500.93 119.58 501.60 118.80C502.27 118.02 502.53 113.58 504.00 112.40C505.47 111.22 508.52 111.58 510.40 111.70C512.28 111.82 514.12 111.92 515.30 113.10C516.48 114.28 516.67 118.45 517.50 118.80C518.33 119.15 518.88 117.22 520.30 115.20C521.72 113.18 524.12 109.07 526.00 106.70C527.88 104.33 529.48 102.77 531.60 101.00C533.72 99.23 536.57 96.57 538.70 96.10C540.83 95.63 542.03 97.13 544.40 98.20C546.77 99.27 551.13 101.90 552.90 102.50C554.67 103.10 553.23 101.33 555.00 101.80C556.77 102.27 560.43 104.00 563.50 105.30C566.57 106.60 570.10 109.13 573.40 109.60C576.70 110.07 580.23 108.93 583.30 108.10C586.37 107.27 588.97 105.58 591.80 104.60C594.63 103.62 597.47 102.60 600.30 102.20C603.13 101.80 606.20 101.68 608.80 102.20C611.40 102.72 613.53 104.78 615.90 105.30C618.27 105.82 620.40 105.35 623.00 105.30C625.60 105.25 628.67 104.28 631.50 105.00C634.33 105.72 637.13 109.43 640.00 109.60C642.87 109.77 647.25 106.60 648.70 106.00" fill="none" stroke="#ff5050" stroke-width="0.95" stroke-linejoin="round" />
<path d="M392.30 94.40C392.50 93.95 393.05 91.60 393.50 91.70C393.95 91.80 394.50 93.28 395.00 95.00C395.50 96.72 396.00 98.58 396.50 102.00C397.00 105.42 397.53 111.17 398.00 115.50C398.47 119.83 399.00 125.58 399.30 128.00C399.60 130.42 399.60 131.33 399.80 130.00C400.00 128.67 400.25 125.00 400.50 120.00C400.75 115.00 401.00 105.67 401.30 100.00C401.60 94.33 401.93 90.67 402.30 86.00C402.67 81.33 403.10 76.05 403.50 72.00C403.90 67.95 404.12 64.75 404.70 61.70C405.28 58.65 406.23 56.17 407.00 53.70C407.77 51.23 408.55 48.97 409.30 46.90C410.05 44.83 410.75 43.00 411.50 41.30C412.25 39.60 413.03 37.65 413.80 36.70C414.57 35.75 415.47 35.40 416.10 35.60C416.73 35.80 417.03 36.38 417.60 37.90C418.17 39.42 418.82 42.25 419.50 44.70C420.18 47.15 420.95 50.53 421.70 52.60C422.45 54.67 423.05 55.78 424.00 57.10C424.95 58.42 426.27 59.55 427.40 60.50C428.53 61.45 429.48 62.15 430.80 62.80C432.12 63.45 433.77 63.97 435.30 64.40C436.83 64.83 438.22 64.80 440.00 65.40C441.78 66.00 443.98 67.20 446.00 68.00C448.02 68.80 450.08 69.45 452.10 70.20C454.12 70.95 456.33 71.48 458.10 72.50C459.87 73.52 461.18 75.05 462.70 76.30C464.22 77.55 465.70 78.50 467.20 80.00C468.70 81.50 470.32 83.65 471.70 85.30C473.08 86.95 474.62 88.38 475.50 89.90C476.38 91.42 476.25 93.15 477.00 94.40C477.75 95.65 478.62 96.77 480.00 97.40C481.38 98.03 483.40 98.20 485.30 98.20C487.20 98.20 490.02 97.58 491.40 97.40C492.78 97.22 492.85 96.72 493.60 97.10C494.35 97.48 495.13 98.63 495.90 99.70C496.67 100.77 497.52 102.62 498.20 103.50C498.88 104.38 499.43 104.12 500.00 105.00C500.57 105.88 501.05 108.75 501.60 108.80C502.15 108.85 502.55 106.12 503.30 105.30C504.05 104.48 504.92 104.18 506.10 103.90C507.28 103.62 508.98 103.48 510.40 103.60C511.82 103.72 513.67 103.60 514.60 104.60C515.53 105.60 515.52 108.65 516.00 109.60C516.48 110.55 516.90 110.78 517.50 110.30C518.10 109.82 518.67 108.12 519.60 106.70C520.53 105.28 521.80 103.45 523.10 101.80C524.40 100.15 525.98 98.35 527.40 96.80C528.82 95.25 530.18 93.80 531.60 92.50C533.02 91.20 534.48 89.90 535.90 89.00C537.32 88.10 538.68 87.22 540.10 87.10C541.52 86.98 542.73 87.63 544.40 88.30C546.07 88.97 548.33 90.15 550.10 91.10C551.87 92.05 553.00 93.05 555.00 94.00C557.00 94.95 559.73 95.87 562.10 96.80C564.47 97.73 566.85 98.85 569.20 99.60C571.55 100.35 573.85 101.05 576.20 101.30C578.55 101.55 581.17 101.42 583.30 101.10C585.43 100.78 587.12 100.23 589.00 99.40C590.88 98.57 592.72 96.88 594.60 96.10C596.48 95.32 598.28 95.17 600.30 94.70C602.32 94.23 604.82 93.23 606.70 93.30C608.58 93.37 609.83 94.32 611.60 95.10C613.37 95.88 615.40 97.60 617.30 98.00C619.20 98.40 620.63 97.75 623.00 97.50C625.37 97.25 629.38 96.27 631.50 96.50C633.62 96.73 634.28 98.10 635.70 98.90C637.12 99.70 638.35 101.22 640.00 101.30C641.65 101.38 644.15 99.92 645.60 99.40C647.05 98.88 648.18 98.40 648.70 98.20" fill="none" stroke="#ff2020" stroke-width="1.8" stroke-linejoin="round" />
<line x1="388" y1="278" x2="650.3" y2="278" stroke="#888" stroke-width="1" stroke-dasharray="3,2.5"/>
<line x1="388" y1="428.7" x2="650.3" y2="428.7" stroke="#7a7ade" stroke-width="2" />
<path d="M388.00 435.20C389.25 435.17 394.07 435.28 395.50 435.00C396.60 434.72 396.32 436.00 396.60 433.50C396.88 431.00 397.20 420.00 397.20 420.00C397.20 420.00 397.40 365.40 397.40 365.40C397.40 365.40 398.05 375.13 398.40 380.00C398.75 384.87 399.15 390.78 399.50 394.60C399.85 398.42 399.98 400.47 400.50 402.90C401.02 405.33 401.90 407.47 402.60 409.20C403.30 410.93 404.18 412.43 404.70 413.30C405.22 414.17 405.36 416.82 405.70 414.40C406.04 411.97 406.40 399.62 406.75 398.75C407.10 397.88 407.46 406.59 407.80 409.20C408.14 411.81 408.28 413.43 408.80 414.40C409.32 415.37 410.03 415.00 410.90 415.00C411.77 415.00 412.95 414.75 414.00 414.40C415.05 414.05 416.15 413.42 417.20 412.90C418.25 412.38 419.27 411.60 420.30 411.25C421.33 410.90 422.37 410.62 423.40 410.80C424.43 410.98 425.45 411.70 426.50 412.30C427.55 412.90 428.65 414.05 429.70 414.40C430.75 414.75 431.92 414.05 432.80 414.40C433.68 414.75 434.10 416.68 435.00 416.50C435.90 416.32 436.87 414.23 438.20 413.30C439.53 412.37 440.85 411.52 443.00 410.90C445.15 410.28 448.42 409.87 451.10 409.60C453.78 409.33 456.43 409.35 459.10 409.30C461.77 409.25 464.43 409.17 467.10 409.30C469.77 409.43 472.42 409.57 475.10 410.10C477.78 410.63 480.78 411.57 483.20 412.50C485.62 413.43 487.47 414.50 489.60 415.70C491.73 416.90 493.87 418.23 496.00 419.70C498.13 421.17 500.65 423.17 502.40 424.50C504.15 425.83 505.42 426.90 506.50 427.70C507.58 428.50 507.97 429.17 508.90 429.30C509.83 429.43 510.77 428.90 512.10 428.50C513.43 428.10 515.30 427.17 516.90 426.90C518.50 426.63 520.10 426.50 521.70 426.90C523.30 427.30 525.17 428.08 526.50 429.30C527.83 430.52 528.75 432.85 529.70 434.20C530.65 435.55 531.38 437.13 532.20 437.40C533.02 437.67 533.67 436.73 534.60 435.80C535.53 434.87 536.90 432.77 537.80 431.80C538.70 430.83 539.50 431.65 540.00 430.00C540.50 428.35 540.25 423.38 540.80 421.90C541.35 420.42 542.07 421.23 543.30 421.10C544.53 420.97 546.57 420.83 548.20 421.10C549.83 421.37 551.73 422.02 553.10 422.70C554.47 423.38 555.45 423.70 556.40 425.20C557.35 426.70 558.27 430.48 558.80 431.70C559.33 432.92 559.18 432.63 559.60 432.50C560.02 432.37 560.48 431.72 561.30 430.90C562.12 430.08 563.15 428.55 564.50 427.60C565.85 426.65 567.48 425.68 569.40 425.20C571.32 424.72 573.82 424.70 576.00 424.70C578.18 424.70 580.33 425.12 582.50 425.20C584.67 425.28 586.82 425.48 589.00 425.20C591.18 424.92 593.42 424.05 595.60 423.50C597.78 422.95 600.20 422.17 602.10 421.90C604.00 421.63 605.35 421.77 607.00 421.90C608.65 422.03 610.08 422.15 612.00 422.70C613.92 423.25 616.33 424.38 618.50 425.20C620.67 426.02 622.82 427.20 625.00 427.60C627.18 428.00 629.42 427.33 631.60 427.60C633.78 427.87 636.20 428.52 638.10 429.20C640.00 429.88 641.37 430.60 643.00 431.70C644.63 432.80 646.68 434.95 647.90 435.80C649.12 436.65 649.90 436.63 650.30 436.80" fill="none" stroke="#1f7f1f" stroke-width="1.8" stroke-linejoin="round" />
<path d="M388.00 448.75C389.25 448.71 394.07 448.96 395.50 448.50C396.60 448.04 396.60 446.00 396.60 446.00C396.60 446.00 397.20 430.00 397.20 430.00C397.20 430.00 397.40 381.00 397.40 381.00C397.40 381.00 398.05 388.50 398.40 392.50C398.75 396.50 399.15 401.53 399.50 405.00C399.85 408.47 399.98 410.87 400.50 413.30C401.02 415.73 401.90 417.68 402.60 419.60C403.30 421.52 404.18 423.58 404.70 424.80C405.22 426.02 405.36 428.98 405.70 426.90C406.04 424.82 406.40 413.17 406.75 412.30C407.10 411.43 407.46 419.25 407.80 421.70C408.14 424.15 408.28 425.90 408.80 427.00C409.32 428.10 410.03 428.15 410.90 428.30C411.77 428.45 412.95 428.13 414.00 427.90C415.05 427.67 416.15 427.42 417.20 426.90C418.25 426.38 419.27 425.32 420.30 424.80C421.33 424.28 422.37 423.58 423.40 423.75C424.43 423.92 425.45 424.93 426.50 425.80C427.55 426.68 428.65 428.30 429.70 429.00C430.75 429.70 431.92 429.67 432.80 430.00C433.68 430.33 434.10 431.52 435.00 431.00C435.90 430.48 436.87 427.98 438.20 426.90C439.53 425.82 440.85 425.08 443.00 424.50C445.15 423.92 448.42 423.67 451.10 423.40C453.78 423.13 456.43 422.98 459.10 422.90C461.77 422.82 464.43 422.72 467.10 422.90C469.77 423.08 472.42 423.38 475.10 424.00C477.78 424.62 480.78 425.58 483.20 426.60C485.62 427.62 487.47 428.97 489.60 430.10C491.73 431.23 494.13 432.32 496.00 433.40C497.87 434.48 499.18 435.40 500.80 436.60C502.42 437.80 504.48 439.53 505.70 440.60C506.92 441.67 507.03 442.73 508.10 443.00C509.17 443.27 510.63 442.52 512.10 442.20C513.57 441.88 515.30 441.28 516.90 441.10C518.50 440.92 520.10 440.78 521.70 441.10C523.30 441.42 525.17 441.88 526.50 443.00C527.83 444.12 528.75 446.47 529.70 447.80C530.65 449.13 531.38 450.60 532.20 451.00C533.02 451.40 533.67 451.00 534.60 450.20C535.53 449.40 536.90 447.40 537.80 446.20C538.70 445.00 539.50 444.60 540.00 443.00C540.50 441.40 540.25 437.93 540.80 436.60C541.35 435.27 542.07 435.13 543.30 435.00C544.53 434.87 546.57 435.40 548.20 435.80C549.83 436.20 551.73 436.72 553.10 437.40C554.47 438.08 555.45 438.53 556.40 439.90C557.35 441.27 558.27 444.52 558.80 445.60C559.33 446.68 559.18 446.67 559.60 446.40C560.02 446.13 560.48 444.95 561.30 444.00C562.12 443.05 563.15 441.52 564.50 440.70C565.85 439.88 567.48 439.43 569.40 439.10C571.32 438.77 573.82 438.70 576.00 438.70C578.18 438.70 580.33 439.10 582.50 439.10C584.67 439.10 586.82 439.03 589.00 438.70C591.18 438.37 593.42 437.58 595.60 437.10C597.78 436.62 600.20 436.02 602.10 435.80C604.00 435.58 605.35 435.67 607.00 435.80C608.65 435.93 610.08 435.92 612.00 436.60C613.92 437.28 616.33 439.08 618.50 439.90C620.67 440.72 622.82 441.23 625.00 441.50C627.18 441.77 629.42 441.37 631.60 441.50C633.78 441.63 636.20 441.75 638.10 442.30C640.00 442.85 641.37 443.85 643.00 444.80C644.63 445.75 646.68 447.22 647.90 448.00C649.12 448.78 649.90 449.25 650.30 449.50" fill="none" stroke="#ff1515" stroke-width="1.8" stroke-linejoin="round" />
<path d="M388.00 277.90C389.55 277.90 397.30 277.90 397.30 277.90C397.30 277.90 397.40 475.80 397.40 475.80C397.40 475.80 398.50 420.00 398.50 420.00C398.50 420.00 399.60 380.00 399.60 380.00C399.60 380.00 400.80 345.00 400.80 345.00C400.80 345.00 401.62 330.25 402.00 326.00C402.38 321.75 402.80 320.73 403.10 319.50C403.40 318.27 403.60 316.85 403.80 318.60C404.00 320.35 404.30 330.00 404.30 330.00C404.30 330.00 404.70 380.00 404.70 380.00C404.70 380.00 405.00 405.00 405.00 405.00C405.00 405.00 405.30 380.00 405.30 380.00C405.30 380.00 405.60 335.00 405.60 335.00C405.60 335.00 406.00 321.50 406.00 321.50C406.00 321.50 406.37 319.72 406.60 319.80C406.83 319.88 407.08 320.72 407.40 322.00C407.72 323.28 408.15 326.67 408.50 327.50C408.85 328.33 409.17 327.17 409.50 327.00C409.83 326.83 410.18 326.25 410.50 326.50C410.82 326.75 411.05 326.45 411.40 328.50C411.75 330.55 412.20 334.63 412.60 338.80C413.00 342.97 413.40 349.42 413.80 353.50C414.20 357.58 414.60 361.45 415.00 363.30C415.40 365.15 415.78 365.82 416.20 364.60C416.62 363.38 417.08 360.30 417.50 356.00C417.92 351.70 418.30 344.13 418.70 338.80C419.10 333.47 419.48 328.50 419.90 324.00C420.32 319.50 420.78 314.73 421.20 311.80C421.62 308.87 422.00 307.43 422.40 306.40C422.80 305.37 423.20 305.12 423.60 305.60C424.00 306.08 424.38 307.05 424.80 309.30C425.22 311.55 425.68 315.42 426.10 319.10C426.52 322.78 426.77 327.30 427.30 331.40C427.83 335.50 428.48 339.82 429.30 343.70C430.12 347.58 431.10 351.83 432.20 354.70C433.30 357.57 434.67 359.05 435.90 360.90C437.13 362.75 438.37 364.50 439.60 365.80C440.83 367.10 442.07 367.88 443.30 368.70C444.53 369.52 445.78 370.57 447.00 370.70C448.22 370.83 449.58 370.52 450.60 369.50C451.62 368.48 452.17 367.32 453.10 364.60C454.03 361.88 455.15 357.18 456.20 353.20C457.25 349.22 458.53 344.52 459.40 340.70C460.27 336.88 460.72 334.12 461.40 330.30C462.08 326.48 462.80 321.62 463.50 317.80C464.20 313.98 464.90 310.52 465.60 307.40C466.30 304.28 467.00 301.52 467.70 299.10C468.40 296.68 469.12 294.98 469.80 292.90C470.48 290.82 471.12 288.33 471.80 286.60C472.48 284.87 473.20 283.53 473.90 282.50C474.60 281.47 475.30 281.03 476.00 280.40C476.70 279.77 477.23 278.87 478.10 278.70C478.97 278.53 480.17 279.18 481.20 279.40C482.23 279.62 483.27 279.83 484.30 280.00C485.33 280.17 486.37 280.62 487.40 280.40C488.43 280.18 489.45 279.12 490.50 278.70C491.55 278.28 492.30 278.03 493.70 277.90C495.10 277.77 497.77 277.83 498.90 277.90C500.03 277.97 500.05 276.85 500.50 278.30C500.95 279.75 501.18 284.52 501.60 286.60C502.02 288.68 502.42 290.27 503.00 290.80C503.58 291.33 504.23 290.50 505.10 289.80C505.97 289.10 507.17 287.82 508.20 286.60C509.23 285.38 510.25 283.82 511.30 282.50C512.35 281.18 513.70 279.47 514.50 278.70C515.30 277.93 515.42 277.78 516.10 277.90C516.78 278.02 517.67 278.82 518.60 279.40C519.53 279.98 520.65 280.82 521.70 281.40C522.75 281.98 523.68 282.65 524.90 282.90C526.12 283.15 527.62 282.97 529.00 282.90C530.38 282.83 531.98 282.57 533.20 282.50C534.42 282.43 535.27 282.23 536.30 282.50C537.33 282.77 538.37 283.42 539.40 284.10C540.43 284.78 541.45 285.83 542.50 286.60C543.55 287.37 544.65 288.28 545.70 288.70C546.75 289.12 547.77 289.27 548.80 289.10C549.83 288.93 550.87 288.45 551.90 287.70C552.93 286.95 553.97 285.82 555.00 284.60C556.03 283.38 557.27 281.20 558.10 280.40C558.93 279.60 559.05 279.95 560.00 279.80C560.95 279.65 562.40 279.42 563.80 279.50C565.20 279.58 566.87 280.43 568.40 280.30C569.93 280.17 571.47 279.08 573.00 278.70C574.53 278.32 575.82 278.05 577.60 278.00C579.38 277.95 581.65 278.23 583.70 278.40C585.75 278.57 587.85 278.95 589.90 279.00C591.95 279.05 593.97 278.75 596.00 278.70C598.03 278.65 600.07 278.57 602.10 278.70C604.13 278.83 606.67 279.37 608.20 279.50C609.73 279.63 610.02 279.68 611.30 279.50C612.58 279.32 614.12 278.63 615.90 278.40C617.68 278.17 616.25 278.15 622.00 278.10C627.75 278.05 645.67 278.10 650.40 278.10" fill="none" stroke="#3535ff" stroke-width="1.2" stroke-linejoin="round" />
<rect x="24.7" y="3.6" width="277.6" height="216.5" fill="none" stroke="#a0a0a0" stroke-width="1.2"/>
<line x1="22.7" y1="211.99999999999997" x2="24.7" y2="211.99999999999997" stroke="#555" stroke-width="0.8" />
<g transform="translate(19.5,211.99999999999997) rotate(-90) scale(1,0.5)"><text x="0" y="0" font-family="Liberation Sans" font-weight="bold" font-size="10" fill="#ff2020" text-anchor="middle" dominant-baseline="central" textLength="21.5" lengthAdjust="spacingAndGlyphs" >0.90</text></g>
<line x1="22.7" y1="162.00000000000006" x2="24.7" y2="162.00000000000006" stroke="#555" stroke-width="0.8" />
<g transform="translate(19.5,162.00000000000006) rotate(-90) scale(1,0.5)"><text x="0" y="0" font-family="Liberation Sans" font-weight="bold" font-size="10" fill="#ff2020" text-anchor="middle" dominant-baseline="central" textLength="21.5" lengthAdjust="spacingAndGlyphs" >0.95</text></g>
<line x1="22.7" y1="112.0" x2="24.7" y2="112.0" stroke="#555" stroke-width="0.8" />
<g transform="translate(19.5,112.0) rotate(-90) scale(1,0.5)"><text x="0" y="0" font-family="Liberation Sans" font-weight="bold" font-size="10" fill="#ff2020" text-anchor="middle" dominant-baseline="central" textLength="21.5" lengthAdjust="spacingAndGlyphs" >1.00</text></g>
<line x1="22.7" y1="61.99999999999996" x2="24.7" y2="61.99999999999996" stroke="#555" stroke-width="0.8" />
<g transform="translate(19.5,61.99999999999996) rotate(-90) scale(1,0.5)"><text x="0" y="0" font-family="Liberation Sans" font-weight="bold" font-size="10" fill="#ff2020" text-anchor="middle" dominant-baseline="central" textLength="21.5" lengthAdjust="spacingAndGlyphs" >1.05</text></g>
<line x1="22.7" y1="11.999999999999915" x2="24.7" y2="11.999999999999915" stroke="#555" stroke-width="0.8" />
<g transform="translate(19.5,11.999999999999915) rotate(-90) scale(1,0.5)"><text x="0" y="0" font-family="Liberation Sans" font-weight="bold" font-size="10" fill="#ff2020" text-anchor="middle" dominant-baseline="central" textLength="21.5" lengthAdjust="spacingAndGlyphs" >1.10</text></g>
<line x1="302.3" y1="211.60000000000002" x2="304.3" y2="211.60000000000002" stroke="#555" stroke-width="0.8" />
<g transform="translate(309.2,211.60000000000002) rotate(-90) scale(1,0.5)"><text x="0" y="0" font-family="Liberation Sans" font-weight="bold" font-size="10" fill="#2525ff" text-anchor="middle" dominant-baseline="central" textLength="21.5" lengthAdjust="spacingAndGlyphs" >0.30</text></g>
<line x1="302.3" y1="144.95000000000005" x2="304.3" y2="144.95000000000005" stroke="#555" stroke-width="0.8" />
<g transform="translate(309.2,144.95000000000005) rotate(-90) scale(1,0.5)"><text x="0" y="0" font-family="Liberation Sans" font-weight="bold" font-size="10" fill="#2525ff" text-anchor="middle" dominant-baseline="central" textLength="21.5" lengthAdjust="spacingAndGlyphs" >0.35</text></g>
<line x1="302.3" y1="78.3" x2="304.3" y2="78.3" stroke="#555" stroke-width="0.8" />
<g transform="translate(309.2,78.3) rotate(-90) scale(1,0.5)"><text x="0" y="0" font-family="Liberation Sans" font-weight="bold" font-size="10" fill="#2525ff" text-anchor="middle" dominant-baseline="central" textLength="21.5" lengthAdjust="spacingAndGlyphs" >0.40</text></g>
<line x1="302.3" y1="11.650000000000006" x2="304.3" y2="11.650000000000006" stroke="#555" stroke-width="0.8" />
<g transform="translate(309.2,11.650000000000006) rotate(-90) scale(1,0.5)"><text x="0" y="0" font-family="Liberation Sans" font-weight="bold" font-size="10" fill="#2525ff" text-anchor="middle" dominant-baseline="central" textLength="21.5" lengthAdjust="spacingAndGlyphs" >0.45</text></g>
<line x1="35.2" y1="220.1" x2="35.2" y2="222.1" stroke="#555" stroke-width="0.8" />
<g transform="translate(35.2,235.5) scale(0.5,1)"><text x="0" y="0" font-family="Liberation Sans" font-size="10.5" fill="#333" text-anchor="middle">0</text></g>
<line x1="80.5" y1="220.1" x2="80.5" y2="222.1" stroke="#555" stroke-width="0.8" />
<g transform="translate(80.5,235.5) scale(0.5,1)"><text x="0" y="0" font-family="Liberation Sans" font-size="10.5" fill="#333" text-anchor="middle">2</text></g>
<line x1="125.8" y1="220.1" x2="125.8" y2="222.1" stroke="#555" stroke-width="0.8" />
<g transform="translate(125.8,235.5) scale(0.5,1)"><text x="0" y="0" font-family="Liberation Sans" font-size="10.5" fill="#333" text-anchor="middle">4</text></g>
<line x1="171.09999999999997" y1="220.1" x2="171.09999999999997" y2="222.1" stroke="#555" stroke-width="0.8" />
<g transform="translate(171.09999999999997,235.5) scale(0.5,1)"><text x="0" y="0" font-family="Liberation Sans" font-size="10.5" fill="#333" text-anchor="middle">6</text></g>
<line x1="216.39999999999998" y1="220.1" x2="216.39999999999998" y2="222.1" stroke="#555" stroke-width="0.8" />
<g transform="translate(216.39999999999998,235.5) scale(0.5,1)"><text x="0" y="0" font-family="Liberation Sans" font-size="10.5" fill="#333" text-anchor="middle">8</text></g>
<line x1="261.7" y1="220.1" x2="261.7" y2="222.1" stroke="#555" stroke-width="0.8" />
<g transform="translate(261.7,235.5) scale(0.5,1)"><text x="0" y="0" font-family="Liberation Sans" font-size="10.5" fill="#333" text-anchor="middle">10</text></g>
<text x="36.1" y="251.3" font-family="Liberation Sans" font-weight="bold" font-size="15.5" fill="#000" text-anchor="start" textLength="261" lengthAdjust="spacingAndGlyphs" >Time from the 2024 M7.6mainshock</text>
<g transform="translate(6.5,125.3) rotate(-90) scale(1,1.0)"><text x="0" y="0" font-family="Liberation Sans" font-weight="bold" font-size="14" fill="#ff1010" text-anchor="middle" dominant-baseline="central" textLength="45.5" lengthAdjust="spacingAndGlyphs" ><tspan font-style="italic">b</tspan>-value</text></g>
<g transform="translate(321.5,116.6) rotate(-90) scale(1,1.0)"><text x="0" y="0" font-family="Liberation Sans" font-weight="bold" font-size="13" fill="#2a7fd0" text-anchor="middle" dominant-baseline="central" textLength="48.6" lengthAdjust="spacingAndGlyphs" >σ−value</text></g>
<text x="272.5" y="32.6" font-family="Liberation Serif" font-weight="bold" font-size="22.5" text-anchor="middle" textLength="24" lengthAdjust="spacingAndGlyphs">(a)</text>
<rect x="25" y="271.2" width="278" height="216.2" fill="none" stroke="#a0a0a0" stroke-width="1.2"/>
<line x1="23" y1="487.2" x2="25" y2="487.2" stroke="#555" stroke-width="0.8" />
<g transform="translate(19,487.2) rotate(-90) scale(1,0.5)"><text x="0" y="0" font-family="Liberation Sans" font-weight="bold" font-size="10.5" fill="#222" text-anchor="middle" dominant-baseline="central" >0</text></g>
<line x1="23" y1="433.2" x2="25" y2="433.2" stroke="#555" stroke-width="0.8" />
<g transform="translate(19,433.2) rotate(-90) scale(1,0.5)"><text x="0" y="0" font-family="Liberation Sans" font-weight="bold" font-size="10.5" fill="#222" text-anchor="middle" dominant-baseline="central" >2</text></g>
<line x1="23" y1="379.2" x2="25" y2="379.2" stroke="#555" stroke-width="0.8" />
<g transform="translate(19,379.2) rotate(-90) scale(1,0.5)"><text x="0" y="0" font-family="Liberation Sans" font-weight="bold" font-size="10.5" fill="#222" text-anchor="middle" dominant-baseline="central" >4</text></g>
<line x1="23" y1="325.2" x2="25" y2="325.2" stroke="#555" stroke-width="0.8" />
<g transform="translate(19,325.2) rotate(-90) scale(1,0.5)"><text x="0" y="0" font-family="Liberation Sans" font-weight="bold" font-size="10.5" fill="#222" text-anchor="middle" dominant-baseline="central" >6</text></g>
<line x1="23" y1="271.2" x2="25" y2="271.2" stroke="#555" stroke-width="0.8" />
<g transform="translate(19,271.2) rotate(-90) scale(1,0.5)"><text x="0" y="0" font-family="Liberation Sans" font-weight="bold" font-size="10.5" fill="#222" text-anchor="middle" dominant-baseline="central" >8</text></g>
<line x1="303" y1="488.0" x2="305" y2="488.0" stroke="#555" stroke-width="0.8" />
<g transform="translate(309.2,488.0) rotate(-90) scale(1,0.5)"><text x="0" y="0" font-family="Liberation Sans" font-weight="bold" font-size="10" fill="#2525ff" text-anchor="middle" dominant-baseline="central" textLength="14" lengthAdjust="spacingAndGlyphs" >0.0</text></g>
<line x1="303" y1="444.62" x2="305" y2="444.62" stroke="#555" stroke-width="0.8" />
<g transform="translate(309.2,444.62) rotate(-90) scale(1,0.5)"><text x="0" y="0" font-family="Liberation Sans" font-weight="bold" font-size="10" fill="#2525ff" text-anchor="middle" dominant-baseline="central" textLength="14" lengthAdjust="spacingAndGlyphs" >0.2</text></g>
<line x1="303" y1="401.24" x2="305" y2="401.24" stroke="#555" stroke-width="0.8" />
<g transform="translate(309.2,401.24) rotate(-90) scale(1,0.5)"><text x="0" y="0" font-family="Liberation Sans" font-weight="bold" font-size="10" fill="#2525ff" text-anchor="middle" dominant-baseline="central" textLength="14" lengthAdjust="spacingAndGlyphs" >0.4</text></g>
<line x1="303" y1="357.86" x2="305" y2="357.86" stroke="#555" stroke-width="0.8" />
<g transform="translate(309.2,357.86) rotate(-90) scale(1,0.5)"><text x="0" y="0" font-family="Liberation Sans" font-weight="bold" font-size="10" fill="#2525ff" text-anchor="middle" dominant-baseline="central" textLength="14" lengthAdjust="spacingAndGlyphs" >0.6</text></g>
<line x1="303" y1="314.48" x2="305" y2="314.48" stroke="#555" stroke-width="0.8" />
<g transform="translate(309.2,314.48) rotate(-90) scale(1,0.5)"><text x="0" y="0" font-family="Liberation Sans" font-weight="bold" font-size="10" fill="#2525ff" text-anchor="middle" dominant-baseline="central" textLength="14" lengthAdjust="spacingAndGlyphs" >0.8</text></g>
<line x1="303" y1="271.1" x2="305" y2="271.1" stroke="#555" stroke-width="0.8" />
<g transform="translate(309.2,271.1) rotate(-90) scale(1,0.5)"><text x="0" y="0" font-family="Liberation Sans" font-weight="bold" font-size="10" fill="#2525ff" text-anchor="middle" dominant-baseline="central" textLength="14" lengthAdjust="spacingAndGlyphs" >1.0</text></g>
<line x1="35.2" y1="487.4" x2="35.2" y2="489.4" stroke="#555" stroke-width="0.8" />
<g transform="translate(35.2,503.4) scale(0.5,1)"><text x="0" y="0" font-family="Liberation Sans" font-size="11.8" fill="#333" text-anchor="middle">0</text></g>
<line x1="80.5" y1="487.4" x2="80.5" y2="489.4" stroke="#555" stroke-width="0.8" />
<g transform="translate(80.5,503.4) scale(0.5,1)"><text x="0" y="0" font-family="Liberation Sans" font-size="11.8" fill="#333" text-anchor="middle">2</text></g>
<line x1="125.8" y1="487.4" x2="125.8" y2="489.4" stroke="#555" stroke-width="0.8" />
<g transform="translate(125.8,503.4) scale(0.5,1)"><text x="0" y="0" font-family="Liberation Sans" font-size="11.8" fill="#333" text-anchor="middle">4</text></g>
<line x1="171.09999999999997" y1="487.4" x2="171.09999999999997" y2="489.4" stroke="#555" stroke-width="0.8" />
<g transform="translate(171.09999999999997,503.4) scale(0.5,1)"><text x="0" y="0" font-family="Liberation Sans" font-size="11.8" fill="#333" text-anchor="middle">6</text></g>
<line x1="216.39999999999998" y1="487.4" x2="216.39999999999998" y2="489.4" stroke="#555" stroke-width="0.8" />
<g transform="translate(216.39999999999998,503.4) scale(0.5,1)"><text x="0" y="0" font-family="Liberation Sans" font-size="11.8" fill="#333" text-anchor="middle">8</text></g>
<line x1="261.7" y1="487.4" x2="261.7" y2="489.4" stroke="#555" stroke-width="0.8" />
<g transform="translate(261.7,503.4) scale(0.5,1)"><text x="0" y="0" font-family="Liberation Sans" font-size="11.8" fill="#333" text-anchor="middle">10</text></g>
<text x="36.1" y="519.5" font-family="Liberation Sans" font-weight="bold" font-size="15.5" fill="#000" text-anchor="start" textLength="261" lengthAdjust="spacingAndGlyphs" >Time from the 2024 M7.6mainshock</text>
<g transform="translate(6.6,385) rotate(-90) scale(1,0.8)"><text x="0" y="0" font-family="Liberation Sans" font-weight="bold" font-size="13.5" fill="#000" text-anchor="middle" dominant-baseline="central" textLength="66.6" lengthAdjust="spacingAndGlyphs" >Magnitude</text></g>
<g transform="translate(321.8,383.6) rotate(-90) scale(1,1.0)"><text x="0" y="0" font-family="Liberation Sans" font-weight="bold" font-size="13" fill="#2a7fd0" text-anchor="middle" dominant-baseline="central" textLength="173" lengthAdjust="spacingAndGlyphs" >Detection rate for M≥2 events</text></g>
<text x="275.8" y="328.8" font-family="Liberation Serif" font-weight="bold" font-size="22.5" text-anchor="middle" textLength="26" lengthAdjust="spacingAndGlyphs">(b)</text>
<line x1="391.7" y1="1.5" x2="649.5" y2="1.5" stroke="#6a6a6a" stroke-width="1.2" />
<line x1="391.7" y1="1.5" x2="391.7" y2="225.7" stroke="#6a6a6a" stroke-width="1.2" />
<line x1="649.5" y1="1.5" x2="649.5" y2="220.6" stroke="#6a6a6a" stroke-width="1.2" />
<line x1="393" y1="221.6" x2="657" y2="221.6" stroke="#6a6a6a" stroke-width="1.2" />
<line x1="384.7" y1="194.6" x2="391.7" y2="194.6" stroke="#555" stroke-width="1" />
<g transform="translate(378,194.6) rotate(-90) scale(1,1.0)"><text x="0" y="0" font-family="Liberation Sans" font-size="14" fill="#222" text-anchor="middle" dominant-baseline="central" >0</text></g>
<line x1="384.7" y1="137.39999999999998" x2="391.7" y2="137.39999999999998" stroke="#555" stroke-width="1" />
<g transform="translate(378,137.39999999999998) rotate(-90) scale(1,1.0)"><text x="0" y="0" font-family="Liberation Sans" font-size="14" fill="#222" text-anchor="middle" dominant-baseline="central" >2</text></g>
<line x1="384.7" y1="80.19999999999999" x2="391.7" y2="80.19999999999999" stroke="#555" stroke-width="1" />
<g transform="translate(378,80.19999999999999) rotate(-90) scale(1,1.0)"><text x="0" y="0" font-family="Liberation Sans" font-size="14" fill="#222" text-anchor="middle" dominant-baseline="central" >4</text></g>
<line x1="384.7" y1="22.99999999999997" x2="391.7" y2="22.99999999999997" stroke="#555" stroke-width="1" />
<g transform="translate(378,22.99999999999997) rotate(-90) scale(1,1.0)"><text x="0" y="0" font-family="Liberation Sans" font-size="14" fill="#222" text-anchor="middle" dominant-baseline="central" >6</text></g>
<line x1="649.5" y1="134.3" x2="656.5" y2="134.3" stroke="#555" stroke-width="1" />
<g transform="translate(665.6,134.3) rotate(-90) scale(1,0.78)"><text x="0" y="0" font-family="Liberation Sans" font-size="14" fill="#ff2020" text-anchor="middle" dominant-baseline="central" >0.8</text></g>
<line x1="649.5" y1="113.5" x2="656.5" y2="113.5" stroke="#555" stroke-width="1" />
<line x1="649.5" y1="92.7" x2="656.5" y2="92.7" stroke="#555" stroke-width="1" />
<g transform="translate(665.6,92.7) rotate(-90) scale(1,0.78)"><text x="0" y="0" font-family="Liberation Sans" font-size="14" fill="#ff2020" text-anchor="middle" dominant-baseline="central" >1.0</text></g>
<line x1="649.5" y1="71.89999999999998" x2="656.5" y2="71.89999999999998" stroke="#555" stroke-width="1" />
<line x1="649.5" y1="51.10000000000001" x2="656.5" y2="51.10000000000001" stroke="#555" stroke-width="1" />
<g transform="translate(665.6,51.10000000000001) rotate(-90) scale(1,0.78)"><text x="0" y="0" font-family="Liberation Sans" font-size="14" fill="#ff2020" text-anchor="middle" dominant-baseline="central" >1.2</text></g>
<line x1="649.5" y1="30.299999999999997" x2="656.5" y2="30.299999999999997" stroke="#555" stroke-width="1" />
<line x1="403.5" y1="221.6" x2="403.5" y2="225.7" stroke="#888" stroke-width="1" />
<g transform="translate(403.5,245.6) scale(0.6,1)"><text x="0" y="0" font-family="Liberation Sans" font-size="17.6" fill="#222" text-anchor="middle">0</text></g>
<line x1="446.5" y1="221.6" x2="446.5" y2="225.7" stroke="#888" stroke-width="1" />
<g transform="translate(446.5,245.6) scale(0.6,1)"><text x="0" y="0" font-family="Liberation Sans" font-size="17.6" fill="#222" text-anchor="middle">2</text></g>
<line x1="489.5" y1="221.6" x2="489.5" y2="225.7" stroke="#888" stroke-width="1" />
<g transform="translate(489.5,245.6) scale(0.6,1)"><text x="0" y="0" font-family="Liberation Sans" font-size="17.6" fill="#222" text-anchor="middle">4</text></g>
<line x1="532.5" y1="221.6" x2="532.5" y2="225.7" stroke="#888" stroke-width="1" />
<g transform="translate(532.5,245.6) scale(0.6,1)"><text x="0" y="0" font-family="Liberation Sans" font-size="17.6" fill="#222" text-anchor="middle">6</text></g>
<line x1="575.5" y1="221.6" x2="575.5" y2="225.7" stroke="#888" stroke-width="1" />
<g transform="translate(575.5,245.6) scale(0.6,1)"><text x="0" y="0" font-family="Liberation Sans" font-size="17.6" fill="#222" text-anchor="middle">8</text></g>
<line x1="618.5" y1="221.6" x2="618.5" y2="225.7" stroke="#888" stroke-width="1" />
<g transform="translate(618.5,245.6) scale(0.6,1)"><text x="0" y="0" font-family="Liberation Sans" font-size="17.6" fill="#222" text-anchor="middle">10</text></g>
<text x="388" y="258.6" font-family="Liberation Sans" font-weight="bold" font-size="15.5" fill="#000" text-anchor="start" textLength="265.8" lengthAdjust="spacingAndGlyphs" >Time from the 2023 M6.5 mainshock</text>
<g transform="translate(356.0,116.8) rotate(-90) scale(1,0.93)"><text x="0" y="0" font-family="Liberation Sans" font-weight="bold" font-size="14.5" fill="#000" text-anchor="middle" dominant-baseline="central" textLength="62" lengthAdjust="spacingAndGlyphs" >Magnitude</text></g>
<g transform="translate(679.6,86) rotate(-90) scale(1,1.0)"><text x="0" y="0" font-family="Liberation Sans" font-weight="bold" font-size="13" fill="#ff1010" text-anchor="middle" dominant-baseline="central" textLength="44.6" lengthAdjust="spacingAndGlyphs" ><tspan font-style="italic">b</tspan>-value</text></g>
<g transform="translate(667.7,192.6) rotate(-90) scale(1,1.0)"><text x="0" y="0" font-family="Liberation Sans" font-weight="bold" font-size="13" fill="#2a7fd0" text-anchor="middle" dominant-baseline="central" textLength="43.9" lengthAdjust="spacingAndGlyphs" >σ=0.27</text></g>
<text x="618.7" y="32.6" font-family="Liberation Serif" font-weight="bold" font-size="23" text-anchor="middle" textLength="23.2" lengthAdjust="spacingAndGlyphs">(c)</text>
<line x1="387.7" y1="269.6" x2="650.3" y2="269.6" stroke="#6a6a6a" stroke-width="1.2" />
<line x1="387.7" y1="269.6" x2="387.7" y2="487" stroke="#6a6a6a" stroke-width="1.2" />
<line x1="387.7" y1="487" x2="393.6" y2="487" stroke="#6a6a6a" stroke-width="1.2" />
<line x1="650.3" y1="269.6" x2="650.3" y2="483.3" stroke="#6a6a6a" stroke-width="1.2" />
<line x1="394.9" y1="485.5" x2="656.7" y2="485.5" stroke="#6a6a6a" stroke-width="1.2" />
<line x1="380.7" y1="453.5" x2="387.7" y2="453.5" stroke="#555" stroke-width="1" />
<g transform="translate(372.4,453.5) rotate(-90) scale(1,1.0)"><text x="0" y="0" font-family="Liberation Sans" font-size="14" fill="#222" text-anchor="middle" dominant-baseline="central" >0</text></g>
<line x1="380.7" y1="403.5" x2="387.7" y2="403.5" stroke="#555" stroke-width="1" />
<g transform="translate(372.4,403.5) rotate(-90) scale(1,1.0)"><text x="0" y="0" font-family="Liberation Sans" font-size="14" fill="#222" text-anchor="middle" dominant-baseline="central" >2</text></g>
<line x1="380.7" y1="353.5" x2="387.7" y2="353.5" stroke="#555" stroke-width="1" />
<g transform="translate(372.4,353.5) rotate(-90) scale(1,1.0)"><text x="0" y="0" font-family="Liberation Sans" font-size="14" fill="#222" text-anchor="middle" dominant-baseline="central" >4</text></g>
<line x1="380.7" y1="303.5" x2="387.7" y2="303.5" stroke="#555" stroke-width="1" />
<g transform="translate(372.4,303.5) rotate(-90) scale(1,1.0)"><text x="0" y="0" font-family="Liberation Sans" font-size="14" fill="#222" text-anchor="middle" dominant-baseline="central" >6</text></g>
<g transform="translate(664.3,483.5) rotate(-90) scale(1,0.8)"><text x="0" y="0" font-family="Liberation Sans" font-size="14" fill="#3030ff" text-anchor="middle" dominant-baseline="central" >0.0</text></g>
<g transform="translate(664.3,442.2) rotate(-90) scale(1,0.8)"><text x="0" y="0" font-family="Liberation Sans" font-size="14" fill="#3030ff" text-anchor="middle" dominant-baseline="central" >0.2</text></g>
<g transform="translate(664.3,400.9) rotate(-90) scale(1,0.8)"><text x="0" y="0" font-family="Liberation Sans" font-size="14" fill="#3030ff" text-anchor="middle" dominant-baseline="central" >0.4</text></g>
<g transform="translate(664.3,359.6) rotate(-90) scale(1,0.8)"><text x="0" y="0" font-family="Liberation Sans" font-size="14" fill="#3030ff" text-anchor="middle" dominant-baseline="central" >0.6</text></g>
<g transform="translate(664.3,318.29999999999995) rotate(-90) scale(1,0.8)"><text x="0" y="0" font-family="Liberation Sans" font-size="14" fill="#3030ff" text-anchor="middle" dominant-baseline="central" >0.8</text></g>
<g transform="translate(664.3,277.0) rotate(-90) scale(1,0.8)"><text x="0" y="0" font-family="Liberation Sans" font-size="14" fill="#3030ff" text-anchor="middle" dominant-baseline="central" >1.0</text></g>
<line x1="405.2" y1="485.5" x2="405.2" y2="490" stroke="#999" stroke-width="1" />
<g transform="translate(405.2,509.6) scale(0.6,1)"><text x="0" y="0" font-family="Liberation Sans" font-size="17.6" fill="#222" text-anchor="middle">0</text></g>
<line x1="448.4" y1="485.5" x2="448.4" y2="490" stroke="#999" stroke-width="1" />
<g transform="translate(448.4,509.6) scale(0.6,1)"><text x="0" y="0" font-family="Liberation Sans" font-size="17.6" fill="#222" text-anchor="middle">2</text></g>
<line x1="491.6" y1="485.5" x2="491.6" y2="490" stroke="#999" stroke-width="1" />
<g transform="translate(491.6,509.6) scale(0.6,1)"><text x="0" y="0" font-family="Liberation Sans" font-size="17.6" fill="#222" text-anchor="middle">4</text></g>
<line x1="534.8" y1="485.5" x2="534.8" y2="490" stroke="#999" stroke-width="1" />
<g transform="translate(534.8,509.6) scale(0.6,1)"><text x="0" y="0" font-family="Liberation Sans" font-size="17.6" fill="#222" text-anchor="middle">6</text></g>
<line x1="578.0" y1="485.5" x2="578.0" y2="490" stroke="#999" stroke-width="1" />
<g transform="translate(578.0,509.6) scale(0.6,1)"><text x="0" y="0" font-family="Liberation Sans" font-size="17.6" fill="#222" text-anchor="middle">8</text></g>
<line x1="621.2" y1="485.5" x2="621.2" y2="490" stroke="#999" stroke-width="1" />
<g transform="translate(621.2,509.6) scale(0.6,1)"><text x="0" y="0" font-family="Liberation Sans" font-size="17.6" fill="#222" text-anchor="middle">10</text></g>
<text x="392.4" y="527.6" font-family="Liberation Sans" font-weight="bold" font-size="15.5" fill="#000" text-anchor="start" textLength="265.2" lengthAdjust="spacingAndGlyphs" >Time from the 2023 M6.5 mainshock</text>
<g transform="translate(354.6,391.2) rotate(-90) scale(1,0.93)"><text x="0" y="0" font-family="Liberation Sans" font-weight="bold" font-size="14.5" fill="#000" text-anchor="middle" dominant-baseline="central" textLength="61.5" lengthAdjust="spacingAndGlyphs" >Magnitude</text></g>
<g transform="translate(679.9,383.6) rotate(-90) scale(1,1.0)"><text x="0" y="0" font-family="Liberation Sans" font-weight="bold" font-size="13" fill="#2a7fd0" text-anchor="middle" dominant-baseline="central" textLength="165.5" lengthAdjust="spacingAndGlyphs" >Detection rate for M≥1 events</text></g>
<text x="623" y="328.6" font-family="Liberation Serif" font-weight="bold" font-size="23" text-anchor="middle" textLength="26.5" lengthAdjust="spacingAndGlyphs">(d)</text>
</svg></body></html>
